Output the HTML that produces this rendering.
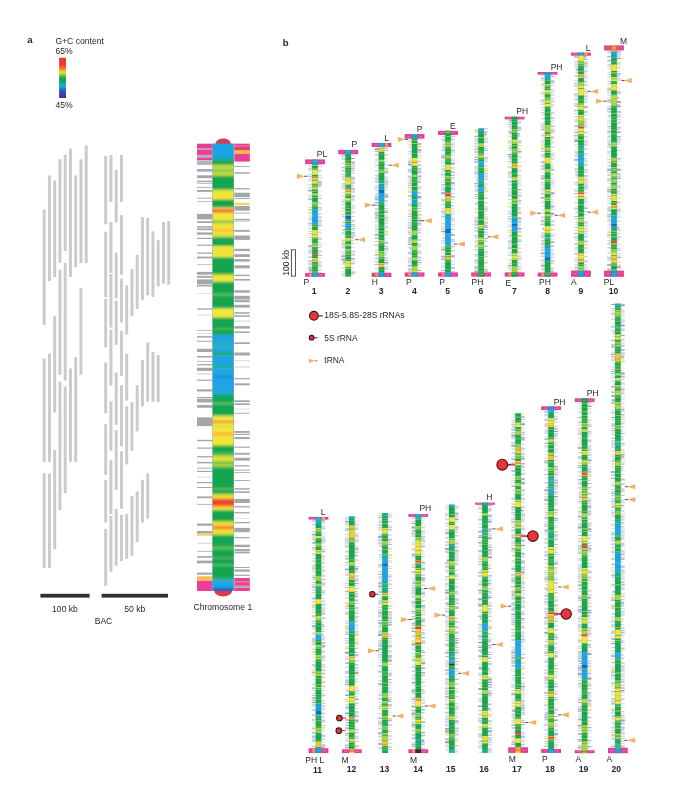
<!DOCTYPE html>
<html lang="en"><head><meta charset="utf-8"><title>Genome figure</title>
<style>
html,body{margin:0;padding:0;background:#fff;}
#fig{position:relative;width:685px;height:805px;background:#fff;overflow:hidden;}
svg{display:block;}
svg text{font-family:"Liberation Sans",sans-serif;fill:#262626;}
</style></head><body>
<div id="fig">
<svg width="685" height="805" viewBox="0 0 685 805">
<defs>
<linearGradient id="gc" x1="0" y1="0" x2="0" y2="1">
<stop offset="0" stop-color="#ee3338"/>
<stop offset="0.17" stop-color="#ee3a30"/>
<stop offset="0.27" stop-color="#f47a2a"/>
<stop offset="0.36" stop-color="#f5e52e"/>
<stop offset="0.5" stop-color="#1fa64a"/>
<stop offset="0.58" stop-color="#12a45a"/>
<stop offset="0.7" stop-color="#18aee8"/>
<stop offset="0.8" stop-color="#2a62c8"/>
<stop offset="0.92" stop-color="#3a3f9e"/>
<stop offset="1" stop-color="#3b3a96"/>
</linearGradient>
<filter id="vb1" x="-10%" y="-2%" width="120%" height="104%"><feGaussianBlur stdDeviation="0 0.9"/></filter>
<filter id="vb2" x="-10%" y="-2%" width="120%" height="104%"><feGaussianBlur stdDeviation="0 0.6"/></filter>
<filter id="sb" x="-5%" y="-5%" width="110%" height="110%"><feGaussianBlur stdDeviation="0.35"/></filter>
</defs>
<text x="27.2" y="42.5" font-size="9.6" font-weight="bold">a</text>
<text x="55.4" y="44" font-size="8.6">G+C content</text>
<text x="55.4" y="53.9" font-size="8.6">65%</text>
<rect x="59.1" y="57.8" width="6.9" height="40.2" fill="url(#gc)"/>
<text x="55.4" y="107.9" font-size="8.6">45%</text>
<g fill="#cbcbcb">
<rect x="42.7" y="209.5" width="3" height="115.5"/>
<rect x="42.7" y="358.5" width="3" height="103.3"/>
<rect x="42.7" y="473.4" width="3" height="94.6"/>
<rect x="47.95" y="175.5" width="3" height="105.5"/>
<rect x="47.95" y="353.5" width="3" height="108.3"/>
<rect x="47.95" y="473.4" width="3" height="94.6"/>
<rect x="53.2" y="180.4" width="3" height="96.6"/>
<rect x="53.2" y="315.8" width="3" height="96.6"/>
<rect x="53.2" y="450" width="3" height="99.3"/>
<rect x="58.45" y="159.3" width="3" height="103.6"/>
<rect x="58.45" y="269.6" width="3" height="105.1"/>
<rect x="58.45" y="381.6" width="3" height="128.6"/>
<rect x="63.7" y="154.8" width="3" height="96.2"/>
<rect x="63.7" y="263" width="3" height="117.4"/>
<rect x="63.7" y="386.6" width="3" height="106.5"/>
<rect x="68.95" y="148.6" width="3" height="128.4"/>
<rect x="68.95" y="368.4" width="3" height="93.4"/>
<rect x="74.2" y="175.5" width="3" height="91.5"/>
<rect x="74.2" y="357.3" width="3" height="104.5"/>
<rect x="79.45" y="159.3" width="3" height="103.7"/>
<rect x="79.45" y="288.3" width="3" height="86.4"/>
<rect x="84.7" y="145.4" width="3" height="117.6"/>
<rect x="104.2" y="155.9" width="3" height="68.3"/>
<rect x="104.2" y="231.8" width="3" height="65.3"/>
<rect x="104.2" y="299" width="3" height="48.3"/>
<rect x="104.2" y="362.5" width="3" height="50.8"/>
<rect x="104.2" y="424.3" width="3" height="50.5"/>
<rect x="104.2" y="479.8" width="3" height="42.8"/>
<rect x="104.2" y="528.8" width="3" height="56.9"/>
<rect x="109.45" y="154.9" width="3" height="47.2"/>
<rect x="109.45" y="222" width="3" height="50.9"/>
<rect x="109.45" y="274.1" width="3" height="53.5"/>
<rect x="109.45" y="329.6" width="3" height="56"/>
<rect x="109.45" y="401.4" width="3" height="49.3"/>
<rect x="109.45" y="459.7" width="3" height="54.6"/>
<rect x="109.45" y="515.9" width="3" height="55.9"/>
<rect x="114.7" y="169.8" width="3" height="52.8"/>
<rect x="114.7" y="252.6" width="3" height="45.7"/>
<rect x="114.7" y="300.8" width="3" height="44"/>
<rect x="114.7" y="372.4" width="3" height="52.5"/>
<rect x="114.7" y="430.1" width="3" height="59.7"/>
<rect x="114.7" y="508.9" width="3" height="56.7"/>
<rect x="119.95" y="154.9" width="3" height="47.2"/>
<rect x="119.95" y="215.2" width="3" height="59.5"/>
<rect x="119.95" y="278.7" width="3" height="43.8"/>
<rect x="119.95" y="330.9" width="3" height="45"/>
<rect x="119.95" y="385.2" width="3" height="61.1"/>
<rect x="119.95" y="451.2" width="3" height="57.5"/>
<rect x="119.95" y="514.9" width="3" height="46.2"/>
<rect x="125.2" y="285.3" width="3" height="49"/>
<rect x="125.2" y="353.8" width="3" height="46.9"/>
<rect x="125.2" y="406.3" width="3" height="58.1"/>
<rect x="125.2" y="513.9" width="3" height="45.1"/>
<rect x="130.45" y="269.1" width="3" height="47.2"/>
<rect x="130.45" y="402.2" width="3" height="48.5"/>
<rect x="130.45" y="496" width="3" height="59.7"/>
<rect x="135.7" y="254.8" width="3" height="54.1"/>
<rect x="135.7" y="385.2" width="3" height="46.2"/>
<rect x="135.7" y="491.4" width="3" height="50.8"/>
<rect x="140.95" y="217" width="3" height="83.2"/>
<rect x="140.95" y="360" width="3" height="46.3"/>
<rect x="140.95" y="479.8" width="3" height="42.8"/>
<rect x="146.2" y="218" width="3" height="77.2"/>
<rect x="146.2" y="342.4" width="3" height="59.3"/>
<rect x="146.2" y="473.4" width="3" height="45.2"/>
<rect x="151.45" y="231.3" width="3" height="65.5"/>
<rect x="151.45" y="352" width="3" height="49.7"/>
<rect x="156.7" y="240.2" width="3" height="46.3"/>
<rect x="156.7" y="355" width="3" height="47"/>
<rect x="161.95" y="222" width="3" height="61.7"/>
<rect x="167.2" y="221" width="3" height="63.7"/>
</g>
<rect x="40.4" y="593.8" width="49.2" height="3.8" fill="#2f2f2f"/>
<rect x="101.6" y="593.8" width="66.4" height="3.8" fill="#2f2f2f"/>
<text x="65" y="612.3" font-size="8.6" text-anchor="middle">100 kb</text>
<text x="134.8" y="612.3" font-size="8.6" text-anchor="middle">50 kb</text>
<text x="103.5" y="624.2" font-size="8.6" text-anchor="middle">BAC</text>
<ellipse cx="223.2" cy="143.6" rx="7.6" ry="5.0" fill="#da394f"/>
<ellipse cx="223.2" cy="590.6" rx="9" ry="6" fill="#da394f"/>
<rect x="197" y="143.7" width="15.4" height="16.6" fill="#ec3d97"/>
<rect x="234.3" y="143.7" width="15.5" height="17.9" fill="#ec3d97"/>
<rect x="197" y="580.5" width="15.4" height="10.5" fill="#ec3d97"/>
<rect x="234.3" y="578" width="15.5" height="13" fill="#ec3d97"/>
<g filter="url(#sb)">
<rect x="197" y="148.1" width="15.4" height="1.9" fill="#bfa5bd"/>
<rect x="197" y="154.7" width="15.4" height="3.3" fill="#bfa5bd"/>
<rect x="197" y="160.6" width="15.4" height="4.3" fill="#b3b2ba"/>
<rect x="197" y="169.1" width="15.4" height="2.5" fill="#a3a7ac"/>
<rect x="197" y="175.3" width="15.4" height="2.9" fill="#a3a7ac"/>
<rect x="197" y="180.7" width="15.4" height="1.3" fill="#a3a7ac"/>
<rect x="197" y="182.8" width="15.4" height="0.9" fill="#a3a7ac"/>
<rect x="197" y="186.9" width="15.4" height="0.9" fill="#a3a7ac"/>
<rect x="197" y="190" width="15.4" height="1.9" fill="#a3a7ac"/>
<rect x="197" y="197.7" width="15.4" height="0.9" fill="#a3a7ac"/>
<rect x="197" y="201" width="15.4" height="0.7" fill="#a3a7ac"/>
<rect x="197" y="213.9" width="15.4" height="5.5" fill="#a3a7ac"/>
<rect x="197" y="221.2" width="15.4" height="1.8" fill="#a3a7ac"/>
<rect x="197" y="226.2" width="15.4" height="1.5" fill="#a3a7ac"/>
<rect x="197" y="228.4" width="15.4" height="1.8" fill="#a3a7ac"/>
<rect x="197" y="232.4" width="15.4" height="2.3" fill="#a3a7ac"/>
<rect x="197" y="237.8" width="15.4" height="1.2" fill="#a3a7ac"/>
<rect x="197" y="244.6" width="15.4" height="1.2" fill="#a3a7ac"/>
<rect x="197" y="252.5" width="15.4" height="1.3" fill="#a3a7ac"/>
<rect x="197" y="256.6" width="15.4" height="1.9" fill="#a3a7ac"/>
<rect x="197" y="264.1" width="15.4" height="0.6" fill="#a3a7ac"/>
<rect x="197" y="271.9" width="15.4" height="2.8" fill="#a3a7ac"/>
<rect x="197" y="275.9" width="15.4" height="1.9" fill="#a3a7ac"/>
<rect x="197" y="279.4" width="15.4" height="4.6" fill="#a3a7ac"/>
<rect x="197" y="284.6" width="15.4" height="1.9" fill="#a3a7ac"/>
<rect x="197" y="293.3" width="15.4" height="0.6" fill="#cfd2d5"/>
<rect x="197" y="308.4" width="15.4" height="1.3" fill="#a3a7ac"/>
<rect x="197" y="314.7" width="15.4" height="0.8" fill="#cfd2d5"/>
<rect x="197" y="329.9" width="15.4" height="0.8" fill="#a3a7ac"/>
<rect x="197" y="333" width="15.4" height="0.6" fill="#cfd2d5"/>
<rect x="197" y="336.1" width="15.4" height="1.5" fill="#a3a7ac"/>
<rect x="197" y="340.8" width="15.4" height="1" fill="#a3a7ac"/>
<rect x="197" y="348.8" width="15.4" height="3.2" fill="#a3a7ac"/>
<rect x="197" y="356" width="15.4" height="1.5" fill="#a3a7ac"/>
<rect x="197" y="360.9" width="15.4" height="0.8" fill="#a3a7ac"/>
<rect x="197" y="364" width="15.4" height="1.3" fill="#a3a7ac"/>
<rect x="197" y="367.8" width="15.4" height="3.1" fill="#a3a7ac"/>
<rect x="197" y="373.4" width="15.4" height="1.2" fill="#cfd2d5"/>
<rect x="197" y="379.6" width="15.4" height="1.2" fill="#a3a7ac"/>
<rect x="197" y="389.3" width="15.4" height="2.2" fill="#a3a7ac"/>
<rect x="197" y="397" width="15.4" height="1.2" fill="#a3a7ac"/>
<rect x="197" y="398.8" width="15.4" height="3.7" fill="#a3a7ac"/>
<rect x="197" y="405" width="15.4" height="2.8" fill="#a3a7ac"/>
<rect x="197" y="417.4" width="15.4" height="8.7" fill="#a3a7ac"/>
<rect x="197" y="439.8" width="15.4" height="1.4" fill="#a3a7ac"/>
<rect x="197" y="447.5" width="15.4" height="1.2" fill="#a3a7ac"/>
<rect x="197" y="456.1" width="15.4" height="1.3" fill="#a3a7ac"/>
<rect x="197" y="461.9" width="15.4" height="1.5" fill="#a3a7ac"/>
<rect x="197" y="467.7" width="15.4" height="0.9" fill="#a3a7ac"/>
<rect x="197" y="470.8" width="15.4" height="1.2" fill="#a3a7ac"/>
<rect x="197" y="476.8" width="15.4" height="0.7" fill="#cfd2d5"/>
<rect x="197" y="482" width="15.4" height="1.2" fill="#a3a7ac"/>
<rect x="197" y="487" width="15.4" height="1" fill="#a3a7ac"/>
<rect x="197" y="496.4" width="15.4" height="1.8" fill="#a3a7ac"/>
<rect x="197" y="503.9" width="15.4" height="0.8" fill="#a3a7ac"/>
<rect x="197" y="523.5" width="15.4" height="2.3" fill="#a3a7ac"/>
<rect x="197" y="531" width="15.4" height="2.5" fill="#a3a7ac"/>
<rect x="197" y="533.7" width="15.4" height="2" fill="#f5d04a"/>
<rect x="197" y="542.8" width="15.4" height="0.9" fill="#cfd2d5"/>
<rect x="197" y="550.9" width="15.4" height="0.8" fill="#a3a7ac"/>
<rect x="197" y="556.1" width="15.4" height="1.6" fill="#a3a7ac"/>
<rect x="197" y="560.6" width="15.4" height="2.7" fill="#a3a7ac"/>
<rect x="197" y="572.6" width="15.4" height="2.1" fill="#a3a7ac"/>
<rect x="197" y="576.3" width="15.4" height="4" fill="#f6bf45"/>
<rect x="234.3" y="145.7" width="15.5" height="0.6" fill="#f7b6d6"/>
<rect x="234.3" y="146.9" width="15.5" height="2.9" fill="#dc4270"/>
<rect x="234.3" y="150.2" width="15.5" height="3.7" fill="#f4c04a"/>
<rect x="234.3" y="166" width="15.5" height="0.9" fill="#a3a7ac"/>
<rect x="234.3" y="172.2" width="15.5" height="1.5" fill="#a3a7ac"/>
<rect x="234.3" y="188.1" width="15.5" height="1.3" fill="#a3a7ac"/>
<rect x="234.3" y="192.7" width="15.5" height="4.4" fill="#a3a7ac"/>
<rect x="234.3" y="198.1" width="15.5" height="1" fill="#a3a7ac"/>
<rect x="234.3" y="202.7" width="15.5" height="2.5" fill="#f5d860"/>
<rect x="234.3" y="206" width="15.5" height="4.7" fill="#a3a7ac"/>
<rect x="234.3" y="212.6" width="15.5" height="0.9" fill="#a3a7ac"/>
<rect x="234.3" y="218.8" width="15.5" height="1.6" fill="#a3a7ac"/>
<rect x="234.3" y="220.4" width="15.5" height="1.5" fill="#cfd2d5"/>
<rect x="234.3" y="229.9" width="15.5" height="1.9" fill="#a3a7ac"/>
<rect x="234.3" y="235.5" width="15.5" height="4.4" fill="#a3a7ac"/>
<rect x="234.3" y="248.8" width="15.5" height="2.3" fill="#a3a7ac"/>
<rect x="234.3" y="254.2" width="15.5" height="2.8" fill="#a3a7ac"/>
<rect x="234.3" y="259.1" width="15.5" height="2.5" fill="#a3a7ac"/>
<rect x="234.3" y="265.3" width="15.5" height="3.1" fill="#a3a7ac"/>
<rect x="234.3" y="274.7" width="15.5" height="1.4" fill="#a3a7ac"/>
<rect x="234.3" y="279" width="15.5" height="1.6" fill="#a3a7ac"/>
<rect x="234.3" y="290.2" width="15.5" height="2.5" fill="#a3a7ac"/>
<rect x="234.3" y="295.8" width="15.5" height="3.7" fill="#a3a7ac"/>
<rect x="234.3" y="300.1" width="15.5" height="2.1" fill="#a3a7ac"/>
<rect x="234.3" y="304.8" width="15.5" height="2.8" fill="#a3a7ac"/>
<rect x="234.3" y="312.2" width="15.5" height="1.6" fill="#a3a7ac"/>
<rect x="234.3" y="315.2" width="15.5" height="1.6" fill="#a3a7ac"/>
<rect x="234.3" y="320.6" width="15.5" height="1" fill="#cfd2d5"/>
<rect x="234.3" y="326.1" width="15.5" height="2.5" fill="#a3a7ac"/>
<rect x="234.3" y="331.4" width="15.5" height="1.5" fill="#a3a7ac"/>
<rect x="234.3" y="342.3" width="15.5" height="1.7" fill="#a3a7ac"/>
<rect x="234.3" y="352.5" width="15.5" height="3" fill="#a3a7ac"/>
<rect x="234.3" y="360.3" width="15.5" height="0.9" fill="#cfd2d5"/>
<rect x="234.3" y="366.5" width="15.5" height="1.1" fill="#cfd2d5"/>
<rect x="234.3" y="378.1" width="15.5" height="1.2" fill="#a3a7ac"/>
<rect x="234.3" y="383.3" width="15.5" height="2" fill="#a3a7ac"/>
<rect x="234.3" y="400.3" width="15.5" height="1.8" fill="#a3a7ac"/>
<rect x="234.3" y="403.3" width="15.5" height="1.7" fill="#a3a7ac"/>
<rect x="234.3" y="408.7" width="15.5" height="0.7" fill="#cfd2d5"/>
<rect x="234.3" y="412.8" width="15.5" height="0.9" fill="#a3a7ac"/>
<rect x="234.3" y="431" width="15.5" height="1.9" fill="#a3a7ac"/>
<rect x="234.3" y="433.8" width="15.5" height="1.2" fill="#a3a7ac"/>
<rect x="234.3" y="437" width="15.5" height="2.1" fill="#a3a7ac"/>
<rect x="234.3" y="446.6" width="15.5" height="1.2" fill="#a3a7ac"/>
<rect x="234.3" y="452.8" width="15.5" height="1.9" fill="#a3a7ac"/>
<rect x="234.3" y="457.8" width="15.5" height="2.8" fill="#a3a7ac"/>
<rect x="234.3" y="465.2" width="15.5" height="1.3" fill="#a3a7ac"/>
<rect x="234.3" y="469.6" width="15.5" height="1" fill="#a3a7ac"/>
<rect x="234.3" y="472" width="15.5" height="0.8" fill="#a3a7ac"/>
<rect x="234.3" y="480.1" width="15.5" height="0.9" fill="#a3a7ac"/>
<rect x="234.3" y="488.2" width="15.5" height="1.5" fill="#a3a7ac"/>
<rect x="234.3" y="491.3" width="15.5" height="1.6" fill="#a3a7ac"/>
<rect x="234.3" y="498.9" width="15.5" height="4.1" fill="#a3a7ac"/>
<rect x="234.3" y="506.1" width="15.5" height="1.3" fill="#a3a7ac"/>
<rect x="234.3" y="512.1" width="15.5" height="1.3" fill="#a3a7ac"/>
<rect x="234.3" y="518" width="15.5" height="0.6" fill="#cfd2d5"/>
<rect x="234.3" y="522" width="15.5" height="1.3" fill="#a3a7ac"/>
<rect x="234.3" y="527.9" width="15.5" height="4.3" fill="#a3a7ac"/>
<rect x="234.3" y="537" width="15.5" height="1.2" fill="#a3a7ac"/>
<rect x="234.3" y="544.7" width="15.5" height="2.4" fill="#a3a7ac"/>
<rect x="234.3" y="549" width="15.5" height="1.9" fill="#a3a7ac"/>
<rect x="234.3" y="551.5" width="15.5" height="1.9" fill="#a3a7ac"/>
<rect x="234.3" y="567" width="15.5" height="1" fill="#a3a7ac"/>
<rect x="234.3" y="569.5" width="15.5" height="2.2" fill="#a3a7ac"/>
<rect x="234.3" y="574.7" width="15.5" height="1.2" fill="#a3a7ac"/>
<rect x="234.3" y="581.4" width="15.5" height="1" fill="#c5a3bb"/>
<rect x="234.3" y="585.5" width="15.5" height="2.5" fill="#c5a3bb"/>
</g>
<clipPath id="c1a"><rect x="212.6" y="143.4" width="21.1" height="447.4"/></clipPath>
<g clip-path="url(#c1a)"><g filter="url(#vb1)">
<rect x="210.6" y="137.4" width="25.1" height="20.65" fill="#1ba4e4"/>
<rect x="210.6" y="158" width="25.1" height="2.45" fill="#0fa98c"/>
<rect x="210.6" y="160.4" width="25.1" height="4.45" fill="#12a550"/>
<rect x="210.6" y="164.8" width="25.1" height="5.05" fill="#bcdb38"/>
<rect x="210.6" y="169.8" width="25.1" height="1.85" fill="#4fbb4c"/>
<rect x="210.6" y="171.6" width="25.1" height="4.45" fill="#bcdb38"/>
<rect x="210.6" y="176" width="25.1" height="13.65" fill="#12a550"/>
<rect x="210.6" y="189.6" width="25.1" height="1.45" fill="#bcdb38"/>
<rect x="210.6" y="191" width="25.1" height="8.65" fill="#f3e535"/>
<rect x="210.6" y="199.6" width="25.1" height="8.05" fill="#12a550"/>
<rect x="210.6" y="207.6" width="25.1" height="1.25" fill="#f3e535"/>
<rect x="210.6" y="208.8" width="25.1" height="1.25" fill="#f4902d"/>
<rect x="210.6" y="210" width="25.1" height="1.65" fill="#ee3f2e"/>
<rect x="210.6" y="211.6" width="25.1" height="1.65" fill="#f4902d"/>
<rect x="210.6" y="213.2" width="25.1" height="7.55" fill="#f3e535"/>
<rect x="210.6" y="220.7" width="25.1" height="2.35" fill="#4fbb4c"/>
<rect x="210.6" y="223" width="25.1" height="5.75" fill="#f3e535"/>
<rect x="210.6" y="228.7" width="25.1" height="3.75" fill="#f8c230"/>
<rect x="210.6" y="232.4" width="25.1" height="2.65" fill="#f3e535"/>
<rect x="210.6" y="235" width="25.1" height="2.45" fill="#bcdb38"/>
<rect x="210.6" y="237.4" width="25.1" height="8.75" fill="#12a550"/>
<rect x="210.6" y="246.1" width="25.1" height="4.45" fill="#f3e535"/>
<rect x="210.6" y="250.5" width="25.1" height="1.35" fill="#bcdb38"/>
<rect x="210.6" y="251.8" width="25.1" height="5.55" fill="#f3e535"/>
<rect x="210.6" y="257.3" width="25.1" height="16.75" fill="#12a550"/>
<rect x="210.6" y="274" width="25.1" height="2.05" fill="#bcdb38"/>
<rect x="210.6" y="276" width="25.1" height="4.55" fill="#f3e535"/>
<rect x="210.6" y="280.5" width="25.1" height="1.65" fill="#bcdb38"/>
<rect x="210.6" y="282.1" width="25.1" height="10.95" fill="#12a550"/>
<rect x="210.6" y="293" width="25.1" height="2.55" fill="#4fbb4c"/>
<rect x="210.6" y="295.5" width="25.1" height="12.75" fill="#12a550"/>
<rect x="210.6" y="308.2" width="25.1" height="1.35" fill="#bcdb38"/>
<rect x="210.6" y="309.5" width="25.1" height="6.75" fill="#f3e535"/>
<rect x="210.6" y="316.2" width="25.1" height="1.85" fill="#bcdb38"/>
<rect x="210.6" y="318" width="25.1" height="10.05" fill="#12a550"/>
<rect x="210.6" y="328" width="25.1" height="1.35" fill="#4fbb4c"/>
<rect x="210.6" y="329.3" width="25.1" height="5.55" fill="#12a550"/>
<rect x="210.6" y="334.8" width="25.1" height="5.25" fill="#1ba4e4"/>
<rect x="210.6" y="340" width="25.1" height="1.25" fill="#0fa98c"/>
<rect x="210.6" y="341.2" width="25.1" height="4.25" fill="#1ba4e4"/>
<rect x="210.6" y="345.4" width="25.1" height="1.95" fill="#0fa98c"/>
<rect x="210.6" y="347.3" width="25.1" height="4.95" fill="#1ba4e4"/>
<rect x="210.6" y="352.2" width="25.1" height="3.15" fill="#12a550"/>
<rect x="210.6" y="355.3" width="25.1" height="10.05" fill="#1ba4e4"/>
<rect x="210.6" y="365.3" width="25.1" height="3.15" fill="#0fa98c"/>
<rect x="210.6" y="368.4" width="25.1" height="7.45" fill="#1ba4e4"/>
<rect x="210.6" y="375.8" width="25.1" height="1.25" fill="#1666c9"/>
<rect x="210.6" y="377" width="25.1" height="16.25" fill="#1ba4e4"/>
<rect x="210.6" y="393.2" width="25.1" height="3.85" fill="#0fa98c"/>
<rect x="210.6" y="397" width="25.1" height="5.55" fill="#12a550"/>
<rect x="210.6" y="402.5" width="25.1" height="1.85" fill="#4fbb4c"/>
<rect x="210.6" y="404.3" width="25.1" height="11.25" fill="#12a550"/>
<rect x="210.6" y="415.5" width="25.1" height="2.05" fill="#bcdb38"/>
<rect x="210.6" y="417.5" width="25.1" height="3.05" fill="#f3e535"/>
<rect x="210.6" y="420.5" width="25.1" height="2.55" fill="#f4902d"/>
<rect x="210.6" y="423" width="25.1" height="3.05" fill="#f3e535"/>
<rect x="210.6" y="426" width="25.1" height="1.55" fill="#bcdb38"/>
<rect x="210.6" y="427.5" width="25.1" height="4.25" fill="#f3e535"/>
<rect x="210.6" y="431.7" width="25.1" height="4.95" fill="#f8c230"/>
<rect x="210.6" y="436.6" width="25.1" height="7.45" fill="#f3e535"/>
<rect x="210.6" y="444" width="25.1" height="2.05" fill="#bcdb38"/>
<rect x="210.6" y="446" width="25.1" height="6.05" fill="#12a550"/>
<rect x="210.6" y="452" width="25.1" height="1.25" fill="#4fbb4c"/>
<rect x="210.6" y="453.2" width="25.1" height="2.15" fill="#12a550"/>
<rect x="210.6" y="455.3" width="25.1" height="2.75" fill="#bcdb38"/>
<rect x="210.6" y="458" width="25.1" height="2.05" fill="#f3e535"/>
<rect x="210.6" y="460" width="25.1" height="2.05" fill="#bcdb38"/>
<rect x="210.6" y="462" width="25.1" height="2.05" fill="#4fbb4c"/>
<rect x="210.6" y="464" width="25.1" height="2.05" fill="#bcdb38"/>
<rect x="210.6" y="466" width="25.1" height="1.75" fill="#4fbb4c"/>
<rect x="210.6" y="467.7" width="25.1" height="20.55" fill="#12a550"/>
<rect x="210.6" y="488.2" width="25.1" height="1.85" fill="#4fbb4c"/>
<rect x="210.6" y="490" width="25.1" height="3.85" fill="#12a550"/>
<rect x="210.6" y="493.8" width="25.1" height="2.25" fill="#bcdb38"/>
<rect x="210.6" y="496" width="25.1" height="2.05" fill="#f3e535"/>
<rect x="210.6" y="498" width="25.1" height="2.05" fill="#f4902d"/>
<rect x="210.6" y="500" width="25.1" height="5.05" fill="#ee3f2e"/>
<rect x="210.6" y="505" width="25.1" height="2.05" fill="#f4902d"/>
<rect x="210.6" y="507" width="25.1" height="2.05" fill="#f3e535"/>
<rect x="210.6" y="509" width="25.1" height="1.55" fill="#bcdb38"/>
<rect x="210.6" y="510.5" width="25.1" height="10.55" fill="#12a550"/>
<rect x="210.6" y="521" width="25.1" height="2.05" fill="#bcdb38"/>
<rect x="210.6" y="523" width="25.1" height="2.45" fill="#f3e535"/>
<rect x="210.6" y="525.4" width="25.1" height="4.45" fill="#f4902d"/>
<rect x="210.6" y="529.8" width="25.1" height="3.25" fill="#f3e535"/>
<rect x="210.6" y="533" width="25.1" height="2.35" fill="#bcdb38"/>
<rect x="210.6" y="535.3" width="25.1" height="10.65" fill="#12a550"/>
<rect x="210.6" y="545.9" width="25.1" height="3.75" fill="#4fbb4c"/>
<rect x="210.6" y="549.6" width="25.1" height="7.45" fill="#12a550"/>
<rect x="210.6" y="557" width="25.1" height="1.25" fill="#4fbb4c"/>
<rect x="210.6" y="558.2" width="25.1" height="6.35" fill="#12a550"/>
<rect x="210.6" y="564.5" width="25.1" height="1.35" fill="#4fbb4c"/>
<rect x="210.6" y="565.8" width="25.1" height="12.85" fill="#12a550"/>
<rect x="210.6" y="578.6" width="25.1" height="1.95" fill="#0fa98c"/>
<rect x="210.6" y="580.5" width="25.1" height="7.55" fill="#1ba4e4"/>
<rect x="210.6" y="588" width="25.1" height="2.85" fill="#1666c9"/>
<rect x="210.6" y="590.8" width="25.1" height="6" fill="#1666c9"/>
</g></g>
<rect x="212.5" y="143.4" width="0.5" height="447.4" fill="#1b6f8f" opacity="0.55"/>
<rect x="233.3" y="143.4" width="0.5" height="447.4" fill="#1b6f8f" opacity="0.55"/>
<text x="222.8" y="609.7" font-size="8.6" text-anchor="middle">Chromosome 1</text>
<text x="282.8" y="45.7" font-size="9.6" font-weight="bold">b</text>
<rect x="291.4" y="249.8" width="4.1" height="26.3" fill="#fff" stroke="#3a3a3a" stroke-width="0.85"/>
<text transform="translate(289,275.7) rotate(-90)" font-size="8.6">100 kb</text>
<g filter="url(#sb)">
<rect x="310.6" y="164.2" width="8.8" height="108.8" fill="#d9eef0" opacity="0.55"/>
<path fill="#c2c7d1" d="M309.15 164.9h3.05v0.8h-3.05zM308.2 170.2h4v0.6h-4zM308.2 194.7h4v0.7h-4zM308.2 237.3h4v0.8h-4zM308.76 241.5h3.44v0.5h-3.44zM317.8 213.35h4v0.6h-4zM317.8 220.75h4v1.2h-4zM317.8 258.05h4v0.5h-4zM317.8 260.95h4v0.5h-4zM317.8 261.95h3.55v0.7h-3.55z"/>
<path fill="#d5d8df" d="M308.2 166.6h4v0.8h-4zM308.2 178.3h4v1h-4zM308.2 179.8h4v1.5h-4zM308.2 230.8h4v1.2h-4zM309.52 235.1h2.68v0.6h-2.68zM308.93 248.1h3.27v0.5h-3.27zM308.2 248.9h4v0.5h-4zM317.8 165.75h4v1.5h-4zM317.8 168.85h3.06v0.5h-3.06zM317.8 179.05h4v0.5h-4zM317.8 188.55h4v0.5h-4zM317.8 202.15h3.14v1h-3.14zM317.8 214.45h4v0.5h-4zM317.8 230.45h4v0.6h-4zM317.8 251.35h4v1.5h-4zM317.8 253.55h2.69v1h-2.69zM317.8 262.95h4v0.7h-4zM317.8 268.95h4v2h-4z"/>
<path fill="#babfcb" d="M308.2 168.3h4v1.2h-4zM308.2 196.1h4v0.5h-4zM308.2 198.2h4v2h-4zM308.2 209.2h4v1.2h-4zM308.2 222.5h4v2h-4zM308.2 252.4h4v1h-4zM308.2 256.6h4v1.2h-4zM308.2 265.9h4v0.6h-4zM308.2 267.2h4v2h-4zM317.8 183.45h4v2h-4zM317.8 185.75h2.94v1.2h-2.94zM317.8 203.45h4v0.6h-4zM317.8 216.55h4v1.5h-4z"/>
<path fill="#ced1d9" d="M308.2 174h4v1.2h-4zM308.2 203.4h4v0.7h-4zM309.35 217.1h2.85v1.5h-2.85zM308.2 250.1h4v2h-4zM317.8 174.95h4v0.8h-4zM317.8 195.25h4v1h-4zM317.8 218.95h4v1.5h-4zM317.8 236.15h3.2v0.5h-3.2zM317.8 244.35h4v1.2h-4zM317.8 267.25h3.34v0.5h-3.34z"/>
<path fill="#abb1be" d="M308.2 176.1h4v0.6h-4zM308.2 184.5h4v0.8h-4zM308.2 188.8h4v0.5h-4zM308.2 245.2h4v2h-4zM317.8 164.55h4v0.5h-4zM317.8 181.15h4v2h-4zM317.8 207.25h4v1h-4zM317.8 247.15h3.12v0.8h-3.12zM317.8 272.55h4v0.45h-4z"/>
<path fill="#f0e07a" d="M308.2 186.9h4v1.2h-4zM308.2 212h4v2h-4zM308.2 228h4v1.2h-4zM317.8 226.55h4v0.7h-4zM317.8 237.35h4v0.5h-4z"/>
<path fill="#9ba2b0" d="M308.2 190h4v1.5h-4zM308.2 232.9h4v0.6h-4zM308.2 261.3h4v0.8h-4zM308.94 269.5h3.26v2h-3.26zM317.8 224.85h4v0.8h-4zM317.8 238.55h4v1h-4zM317.8 255.05h4v0.6h-4z"/>
<path fill="#f2c274" d="M308.2 207.3h4v0.7h-4z"/>
<path fill="#c8ccd5" d="M308.2 215.6h4v0.6h-4zM308.2 219.1h4v1h-4zM308.2 225.4h4v1h-4zM309.52 239.3h2.68v1h-2.68zM308.2 260.2h4v0.6h-4zM308.48 263h3.72v2h-3.72zM308.2 272h4v1h-4zM317.8 170.25h4v1.5h-4zM317.8 176.65h4v1.2h-4zM317.8 191.45h4v0.6h-4zM317.8 197.45h4v1.5h-4zM317.8 208.95h4v1.2h-4zM317.8 222.65h4v1h-4zM317.8 232.25h4v0.7h-4zM317.8 241.95h4v0.8h-4zM317.8 250.35h4v0.7h-4zM317.8 264.55h4v2h-4z"/>
</g>
<rect x="305.1" y="159.4" width="19.8" height="4.8" fill="#e23e94"/>
<rect x="307.3" y="161.45" width="3.6" height="0.7" fill="#f58fc0" opacity="0.8"/>
<rect x="319" y="161.45" width="3.6" height="0.7" fill="#f58fc0" opacity="0.8"/>
<rect x="305.1" y="273" width="19.8" height="3.8" fill="#e23e94"/>
<rect x="308.8" y="273.4" width="2.8" height="3" fill="#f2b040" opacity="0.8"/>
<rect x="319" y="274.55" width="3.6" height="0.7" fill="#f58fc0" opacity="0.8"/>
<clipPath id="cb1"><rect x="312.2" y="159.4" width="5.6" height="117.6"/></clipPath>
<g clip-path="url(#cb1)"><g filter="url(#vb2)">
<rect x="311.2" y="155.4" width="7.6" height="8.85" fill="#1ba4e4"/>
<rect x="311.2" y="164.2" width="7.6" height="5.59" fill="#12a550"/>
<rect x="311.2" y="169.74" width="7.6" height="5.02" fill="#f3e535"/>
<rect x="311.2" y="174.7" width="7.6" height="2.04" fill="#12a550"/>
<rect x="311.2" y="176.69" width="7.6" height="2.04" fill="#f4902d"/>
<rect x="311.2" y="178.68" width="7.6" height="5.02" fill="#f3e535"/>
<rect x="311.2" y="183.65" width="7.6" height="3.03" fill="#12a550"/>
<rect x="311.2" y="186.63" width="7.6" height="3.03" fill="#a8d33c"/>
<rect x="311.2" y="189.61" width="7.6" height="4.02" fill="#12a550"/>
<rect x="311.2" y="193.58" width="7.6" height="2.04" fill="#a8d33c"/>
<rect x="311.2" y="195.57" width="7.6" height="7" fill="#12a550"/>
<rect x="311.2" y="202.52" width="7.6" height="3.03" fill="#a8d33c"/>
<rect x="311.2" y="205.5" width="7.6" height="4.02" fill="#12a550"/>
<rect x="311.2" y="209.48" width="7.6" height="14.95" fill="#1ba4e4"/>
<rect x="311.2" y="224.38" width="7.6" height="6.01" fill="#12a550"/>
<rect x="311.2" y="230.34" width="7.6" height="8" fill="#f3e535"/>
<rect x="311.2" y="238.29" width="7.6" height="5.02" fill="#12a550"/>
<rect x="311.2" y="243.25" width="7.6" height="4.02" fill="#a8d33c"/>
<rect x="311.2" y="247.23" width="7.6" height="5.61" fill="#12a550"/>
<rect x="311.2" y="252.79" width="7.6" height="1.84" fill="#ee3f2e"/>
<rect x="311.2" y="254.58" width="7.6" height="3.63" fill="#12a550"/>
<rect x="311.2" y="258.15" width="7.6" height="4.02" fill="#f8c230"/>
<rect x="311.2" y="262.13" width="7.6" height="10.58" fill="#12a550"/>
<rect x="311.2" y="272.66" width="7.6" height="0.39" fill="#12a550"/>
<rect x="311.2" y="273" width="7.6" height="4.05" fill="#1ba4e4"/>
<rect x="311.2" y="277" width="7.6" height="4" fill="#1ba4e4"/>
<path fill="#2db4ee" opacity="0.68" d="M311.2 160.64h7.6v1.2h-7.6zM311.2 214.36h7.6v0.7h-7.6zM311.2 216.34h7.6v0.6h-7.6zM311.2 222.97h7.6v0.6h-7.6zM311.2 273.98h7.6v0.7h-7.6z"/>
<path fill="#f3e535" opacity="0.68" d="M311.2 165.07h7.6v1h-7.6zM311.2 171.18h7.6v0.7h-7.6zM311.2 188.16h7.6v0.8h-7.6zM311.2 191.09h7.6v0.7h-7.6zM311.2 196.99h7.6v0.7h-7.6zM311.2 225.64h7.6v0.8h-7.6zM311.2 263.81h7.6v0.6h-7.6zM311.2 265.69h7.6v0.7h-7.6z"/>
<path fill="#a8d33c" opacity="0.68" d="M311.2 167.99h7.6v0.8h-7.6zM311.2 184.62h7.6v1.2h-7.6zM311.2 206.39h7.6v0.8h-7.6zM311.2 231.7h7.6v0.6h-7.6zM311.2 248.84h7.6v0.7h-7.6zM311.2 269.17h7.6v0.6h-7.6zM311.2 271.29h7.6v1h-7.6z"/>
<path fill="#12a550" opacity="0.68" d="M311.2 179.8h7.6v1.2h-7.6zM311.2 233.98h7.6v0.6h-7.6zM311.2 236.95h7.6v0.6h-7.6z"/>
<path fill="#3fb64a" opacity="0.68" d="M311.2 201.28h7.6v0.6h-7.6zM311.2 204.31h7.6v0.7h-7.6zM311.2 227.8h7.6v0.6h-7.6zM311.2 239.28h7.6v1.2h-7.6zM311.2 242.13h7.6v1h-7.6zM311.2 244.24h7.6v0.8h-7.6zM311.2 256.2h7.6v1.2h-7.6zM311.2 260.08h7.6v0.7h-7.6z"/>
<path fill="#0fa98c" opacity="0.68" d="M311.2 210.6h7.6v0.8h-7.6zM311.2 219.66h7.6v1h-7.6z"/>
</g>
<rect x="312.2" y="159.4" width="0.45" height="117.6" fill="#0d6b4a" opacity="0.35"/>
<rect x="317.35" y="159.4" width="0.45" height="117.6" fill="#0d6b4a" opacity="0.35"/>
</g>
<g filter="url(#sb)">
<rect x="343.8" y="154.2" width="8.8" height="122.5" fill="#d9eef0" opacity="0.55"/>
<path fill="#9ba2b0" d="M341.4 154.38h4v1.2h-4zM341.4 159.48h4v0.6h-4zM341.4 176.38h4v0.6h-4zM342.67 222.08h2.73v0.7h-2.73zM341.4 246.98h4v0.6h-4zM341.4 255.48h4v1.5h-4zM341.4 258.58h4v2h-4zM351 158.08h4v0.8h-4zM351 178.08h4v1h-4zM351 198.88h3.61v0.6h-3.61zM351 211.68h4v0.8h-4zM351 232.18h4v1.2h-4z"/>
<path fill="#d5d8df" d="M341.4 156.28h4v1.5h-4zM341.4 158.08h4v0.7h-4zM341.4 187.98h4v1.2h-4zM341.4 207.58h4v1.5h-4zM341.4 223.48h4v0.6h-4zM341.4 231.98h4v2h-4zM351 173.28h4v0.7h-4zM351 179.38h3.58v2h-3.58zM351 205.78h4v2h-4zM351 267.48h4v0.8h-4z"/>
<path fill="#c2c7d1" d="M341.4 163.28h4v0.8h-4zM341.4 170.08h4v1.5h-4zM341.4 201.18h4v0.7h-4zM342.71 274.28h2.69v1h-2.69zM351 163.58h4v1.5h-4zM351 181.68h3.7v2h-3.7zM351 197.38h4v1.2h-4zM351 234.58h4v2h-4zM351 242.88h4v0.8h-4zM351 274.38h4v0.5h-4z"/>
<path fill="#c8ccd5" d="M341.4 166.48h4v2h-4zM341.4 185.78h4v1.5h-4zM341.4 195.48h4v1h-4zM341.4 199.68h4v0.8h-4zM341.4 202.38h4v0.8h-4zM341.4 214.28h4v0.8h-4zM341.4 224.78h4v1h-4zM341.4 226.08h4v0.8h-4zM341.4 253.58h4v1h-4zM341.4 271.48h4v0.8h-4zM341.4 275.58h4v0.7h-4zM351 176.38h4v1.2h-4zM351 191.18h4v1.5h-4zM351 195.08h4v2h-4zM351 204.38h4v0.7h-4zM351 208.48h4v0.8h-4zM351 261.48h4v0.6h-4zM351 270.68h4v0.7h-4z"/>
<path fill="#ced1d9" d="M341.4 173.98h4v1.5h-4zM341.84 177.68h3.56v2h-3.56zM341.4 182.88h4v2h-4zM341.76 192.38h3.64v0.7h-3.64zM341.71 215.78h3.69v1.5h-3.69zM342.68 248.28h2.72v0.6h-2.72zM341.4 251.28h4v0.7h-4zM351 155.18h4v0.5h-4zM351 165.98h4v1.2h-4zM351 172.48h4v0.5h-4zM351 215.68h4v1.2h-4zM351 239.98h2.43v2h-2.43zM351 250.78h4v2h-4z"/>
<path fill="#abb1be" d="M341.4 203.88h4v0.5h-4zM342.79 234.68h2.61v0.5h-2.61zM341.4 273.18h4v0.6h-4zM351 187.48h4v0.8h-4zM351 188.78h4v1.5h-4zM351 221.28h4v0.5h-4zM351 224.18h4v1h-4zM351 225.88h4v0.8h-4zM351 227.88h4v0.8h-4z"/>
<path fill="#f0e07a" d="M341.4 210.28h4v0.8h-4zM341.4 220.48h4v0.7h-4zM341.4 238.38h4v0.8h-4zM341.4 240.08h4v2h-4zM341.4 267.58h4v1.5h-4z"/>
<path fill="#babfcb" d="M342.52 229.28h2.88v2h-2.88zM341.77 242.78h3.63v2h-3.63zM341.4 245.48h4v1h-4zM342.96 260.88h2.44v2h-2.44zM341.4 263.38h4v1h-4zM351 161.28h4v2h-4zM351 167.68h4v1.5h-4zM351 170.08h3.43v1.2h-3.43zM351 184.88h2.74v1h-2.74zM351 200.38h4v0.8h-4zM351 220.08h3.74v0.7h-3.74zM351 229.58h4v1h-4zM351 236.88h2.98v1.5h-2.98zM351 246.88h4v0.7h-4zM351 253.98h4v1.5h-4zM351 257.88h4v2h-4zM351 262.78h4v1.5h-4z"/>
<path fill="#f2c274" d="M351 271.68h4v2h-4z"/>
</g>
<rect x="338.3" y="149.9" width="19.8" height="4.3" fill="#e23e94"/>
<rect x="340.5" y="151.7" width="3.6" height="0.7" fill="#f58fc0" opacity="0.8"/>
<rect x="352.2" y="151.7" width="3.6" height="0.7" fill="#f58fc0" opacity="0.8"/>
<clipPath id="cb2"><rect x="345.4" y="149.9" width="5.6" height="126.8"/></clipPath>
<g clip-path="url(#cb2)"><g filter="url(#vb2)">
<rect x="344.4" y="145.9" width="7.6" height="8.35" fill="#1ba4e4"/>
<rect x="344.4" y="154.2" width="7.6" height="10.62" fill="#12a550"/>
<rect x="344.4" y="164.77" width="7.6" height="3.03" fill="#a8d33c"/>
<rect x="344.4" y="167.75" width="7.6" height="5.02" fill="#12a550"/>
<rect x="344.4" y="172.72" width="7.6" height="1.44" fill="#3fb64a"/>
<rect x="344.4" y="174.11" width="7.6" height="3.63" fill="#12a550"/>
<rect x="344.4" y="177.69" width="7.6" height="7" fill="#f3e535"/>
<rect x="344.4" y="184.64" width="7.6" height="5.02" fill="#12a550"/>
<rect x="344.4" y="189.61" width="7.6" height="1.02" fill="#f8c230"/>
<rect x="344.4" y="190.57" width="7.6" height="1.7" fill="#f4902d"/>
<rect x="344.4" y="192.22" width="7.6" height="1.02" fill="#f3e535"/>
<rect x="344.4" y="193.18" width="7.6" height="2.83" fill="#a8d33c"/>
<rect x="344.4" y="195.96" width="7.6" height="2.63" fill="#12a550"/>
<rect x="344.4" y="198.55" width="7.6" height="3.03" fill="#f3e535"/>
<rect x="344.4" y="201.53" width="7.6" height="13.96" fill="#12a550"/>
<rect x="344.4" y="215.44" width="7.6" height="4.02" fill="#1666c9"/>
<rect x="344.4" y="219.41" width="7.6" height="4.02" fill="#12a550"/>
<rect x="344.4" y="223.38" width="7.6" height="5.02" fill="#1ba4e4"/>
<rect x="344.4" y="228.35" width="7.6" height="9.98" fill="#12a550"/>
<rect x="344.4" y="238.29" width="7.6" height="3.03" fill="#f3e535"/>
<rect x="344.4" y="241.27" width="7.6" height="3.03" fill="#12a550"/>
<rect x="344.4" y="244.25" width="7.6" height="2.04" fill="#a8d33c"/>
<rect x="344.4" y="246.23" width="7.6" height="3.03" fill="#12a550"/>
<rect x="344.4" y="249.21" width="7.6" height="3.03" fill="#a8d33c"/>
<rect x="344.4" y="252.19" width="7.6" height="8.99" fill="#12a550"/>
<rect x="344.4" y="261.13" width="7.6" height="6.01" fill="#f3e535"/>
<rect x="344.4" y="267.1" width="7.6" height="9.59" fill="#12a550"/>
<rect x="344.4" y="276.63" width="7.6" height="0.12" fill="#12a550"/>
<rect x="344.4" y="276.7" width="7.6" height="4" fill="#12a550"/>
<path fill="#2db4ee" opacity="0.68" d="M344.4 150.91h7.6v1h-7.6zM344.4 224.94h7.6v0.7h-7.6z"/>
<path fill="#3fb64a" opacity="0.68" d="M344.4 156.04h7.6v1h-7.6zM344.4 200.23h7.6v0.8h-7.6zM344.4 202.55h7.6v1h-7.6zM344.4 232.76h7.6v0.7h-7.6zM344.4 239.73h7.6v0.8h-7.6zM344.4 242.52h7.6v0.7h-7.6zM344.4 248.2h7.6v0.8h-7.6zM344.4 250.29h7.6v1.2h-7.6zM344.4 271.28h7.6v0.6h-7.6zM344.4 274.03h7.6v1.2h-7.6z"/>
<path fill="#a8d33c" opacity="0.68" d="M344.4 160.27h7.6v0.7h-7.6zM344.4 169.68h7.6v1h-7.6zM344.4 185.74h7.6v0.8h-7.6zM344.4 197.73h7.6v0.7h-7.6zM344.4 205.63h7.6v0.8h-7.6zM344.4 211.1h7.6v1h-7.6zM344.4 235.18h7.6v1.2h-7.6zM344.4 256.04h7.6v0.6h-7.6zM344.4 259.21h7.6v1h-7.6zM344.4 262.55h7.6v1.2h-7.6zM344.4 265.66h7.6v0.6h-7.6z"/>
<path fill="#f3e535" opacity="0.68" d="M344.4 162.72h7.6v1.2h-7.6zM344.4 175.72h7.6v0.7h-7.6zM344.4 187.81h7.6v0.7h-7.6zM344.4 208.4h7.6v0.7h-7.6zM344.4 214.55h7.6v1h-7.6zM344.4 220.69h7.6v1h-7.6zM344.4 230.05h7.6v1h-7.6zM344.4 253.55h7.6v1.2h-7.6zM344.4 268.01h7.6v1h-7.6z"/>
<path fill="#12a550" opacity="0.68" d="M344.4 166.26h7.6v1.2h-7.6zM344.4 179.66h7.6v0.7h-7.6zM344.4 194.19h7.6v1h-7.6z"/>
</g>
<rect x="345.4" y="149.9" width="0.45" height="126.8" fill="#0d6b4a" opacity="0.35"/>
<rect x="350.55" y="149.9" width="0.45" height="126.8" fill="#0d6b4a" opacity="0.35"/>
</g>
<g filter="url(#sb)">
<rect x="377.1" y="147" width="8.8" height="125.7" fill="#d9eef0" opacity="0.55"/>
<path fill="#9ba2b0" d="M374.7 148.17h4v2h-4zM374.7 151.07h4v0.6h-4zM374.7 178.47h4v0.6h-4zM374.7 194.67h4v0.5h-4zM374.7 213.37h4v0.8h-4zM375.21 214.67h3.49v1h-3.49zM374.7 220.67h4v0.8h-4zM374.7 264.17h4v0.8h-4zM384.3 147.72h3.29v1h-3.29zM384.3 149.92h4v0.8h-4zM384.3 180.42h4v0.8h-4zM384.3 186.72h4v0.5h-4zM384.3 195.62h4v2h-4zM384.3 210.42h4v0.6h-4zM384.3 211.52h3.54v1.5h-3.54zM384.3 262.02h4v1.5h-4z"/>
<path fill="#ced1d9" d="M374.7 154.07h4v2h-4zM374.7 161.87h4v0.7h-4zM374.7 208.37h4v2h-4zM374.7 256.77h4v0.5h-4zM374.7 268.17h4v1.2h-4zM384.3 157.72h3.7v0.7h-3.7zM384.3 178.22h4v1h-4zM384.3 184.02h4v1.5h-4zM384.3 216.52h4v1.5h-4zM384.3 233.52h4v2h-4zM384.3 252.12h4v0.6h-4zM384.3 266.32h4v0.6h-4z"/>
<path fill="#c2c7d1" d="M374.7 159.27h4v0.6h-4zM374.7 164.97h4v0.8h-4zM374.7 166.67h4v0.6h-4zM374.7 181.07h4v1.5h-4zM374.7 188.87h4v0.5h-4zM374.7 197.37h4v0.7h-4zM374.7 218.47h4v1h-4zM374.7 244.87h4v1.2h-4zM384.3 167.72h4v1.2h-4zM384.3 181.72h4v2h-4zM384.3 200.02h3.34v1.5h-3.34zM384.3 205.22h4v0.5h-4zM384.3 223.12h4v0.6h-4zM384.3 225.32h3.74v0.5h-3.74zM384.3 242.02h4v2h-4zM384.3 253.92h2.44v1.5h-2.44zM384.3 257.02h4v0.7h-4z"/>
<path fill="#babfcb" d="M374.7 160.17h4v0.5h-4zM375.51 179.57h3.19v1h-3.19zM374.7 186.97h4v0.7h-4zM374.7 212.07h4v0.6h-4zM374.7 224.67h4v0.8h-4zM374.7 231.47h4v0.8h-4zM384.3 161.62h3.37v0.5h-3.37zM384.3 164.52h4v0.8h-4zM384.3 193.92h4v1h-4zM384.3 208.12h4v0.7h-4zM384.3 219.62h4v0.6h-4zM384.3 247.82h4v2h-4zM384.3 258.42h4v0.7h-4z"/>
<path fill="#c8ccd5" d="M374.7 170.47h4v1h-4zM374.7 190.27h4v0.8h-4zM374.7 216.17h4v0.5h-4zM374.7 227.57h4v1h-4zM374.7 271.77h4v0.8h-4zM384.3 155.62h4v0.5h-4zM384.3 214.62h4v0.7h-4zM384.3 218.32h4v0.6h-4zM384.3 226.72h4v1.2h-4zM384.3 240.82h3.06v0.7h-3.06zM384.3 264.42h4v0.7h-4zM384.3 267.82h4v2h-4z"/>
<path fill="#abb1be" d="M374.7 174.67h4v0.8h-4zM375.63 176.17h3.07v0.7h-3.07zM374.7 193.47h4v0.5h-4zM374.7 196.07h4v0.6h-4zM374.7 198.37h4v2h-4zM374.7 202.07h4v1.5h-4zM374.7 204.77h4v1.2h-4zM374.7 216.97h4v1h-4zM374.7 229.07h4v0.8h-4zM374.7 233.87h4v2h-4zM374.7 237.47h4v1.2h-4zM374.7 241.07h4v0.6h-4zM374.7 254.07h4v1.5h-4zM374.7 258.17h4v1.2h-4zM374.7 260.97h4v0.5h-4zM384.3 171.22h4v2h-4zM384.3 259.82h4v1h-4z"/>
<path fill="#d5d8df" d="M374.7 184.97h4v1.5h-4zM374.7 200.87h4v0.5h-4zM375.35 211.07h3.35v0.7h-3.35zM374.7 226.67h4v0.6h-4zM376 262.17h2.7v0.8h-2.7zM384.3 176.42h4v1.5h-4zM384.3 188.42h4v0.7h-4zM384.3 192.92h4v0.7h-4zM384.3 203.12h3.76v0.5h-3.76zM384.3 228.42h4v0.6h-4zM384.3 237.92h4v0.5h-4zM384.3 245.62h4v1.5h-4zM384.3 250.52h4v0.7h-4zM384.3 271.02h4v0.5h-4z"/>
<path fill="#f0e07a" d="M374.7 249.27h4v1h-4zM374.7 250.97h4v1.5h-4zM384.3 169.22h4v1.5h-4zM384.3 220.72h4v1.2h-4zM384.3 230.62h4v2h-4z"/>
<path fill="#f2c274" d="M384.3 153.92h4v1.2h-4zM384.3 189.82h4v0.7h-4z"/>
</g>
<rect x="371.6" y="142.9" width="19.8" height="4.1" fill="#e23e94"/>
<rect x="373.8" y="144.6" width="3.6" height="0.7" fill="#f58fc0" opacity="0.8"/>
<rect x="384.9" y="143.3" width="3.2" height="3.3" fill="#f2b040" opacity="0.85"/>
<rect x="371.6" y="272.7" width="19.8" height="4.3" fill="#e23e94"/>
<rect x="375.3" y="273.1" width="2.8" height="3.5" fill="#f2b040" opacity="0.8"/>
<rect x="385.5" y="274.5" width="3.6" height="0.7" fill="#f58fc0" opacity="0.8"/>
<clipPath id="cb3"><rect x="378.7" y="142.9" width="5.6" height="134.1"/></clipPath>
<g clip-path="url(#cb3)"><g filter="url(#vb2)">
<rect x="377.7" y="138.9" width="7.6" height="8.15" fill="#1ba4e4"/>
<rect x="377.7" y="147" width="7.6" height="2.52" fill="#f3e535"/>
<rect x="377.7" y="149.47" width="7.6" height="2.43" fill="#f8c230"/>
<rect x="377.7" y="151.86" width="7.6" height="8" fill="#12a550"/>
<rect x="377.7" y="159.8" width="7.6" height="2.04" fill="#a8d33c"/>
<rect x="377.7" y="161.79" width="7.6" height="8.99" fill="#12a550"/>
<rect x="377.7" y="170.73" width="7.6" height="2.04" fill="#a8d33c"/>
<rect x="377.7" y="172.72" width="7.6" height="8" fill="#12a550"/>
<rect x="377.7" y="180.67" width="7.6" height="1.44" fill="#0fa98c"/>
<rect x="377.7" y="182.06" width="7.6" height="7.6" fill="#14a5c6"/>
<rect x="377.7" y="189.61" width="7.6" height="4.02" fill="#1666c9"/>
<rect x="377.7" y="193.58" width="7.6" height="8.99" fill="#1ba4e4"/>
<rect x="377.7" y="202.52" width="7.6" height="37.8" fill="#12a550"/>
<rect x="377.7" y="240.27" width="7.6" height="3.03" fill="#a8d33c"/>
<rect x="377.7" y="243.25" width="7.6" height="8" fill="#12a550"/>
<rect x="377.7" y="251.2" width="7.6" height="6.01" fill="#a8d33c"/>
<rect x="377.7" y="257.16" width="7.6" height="6.01" fill="#12a550"/>
<rect x="377.7" y="263.12" width="7.6" height="4.02" fill="#f8c230"/>
<rect x="377.7" y="267.1" width="7.6" height="5.61" fill="#12a550"/>
<rect x="377.7" y="272.66" width="7.6" height="0.09" fill="#12a550"/>
<rect x="377.7" y="272.7" width="7.6" height="4.35" fill="#1ba4e4"/>
<rect x="377.7" y="277" width="7.6" height="4" fill="#1ba4e4"/>
<path fill="#2db4ee" opacity="0.68" d="M377.7 144.49h7.6v0.6h-7.6zM377.7 194.92h7.6v0.7h-7.6zM377.7 197.75h7.6v0.7h-7.6z"/>
<path fill="#3fb64a" opacity="0.68" d="M377.7 147.96h7.6v0.8h-7.6zM377.7 156.53h7.6v0.8h-7.6zM377.7 174.03h7.6v1.2h-7.6zM377.7 177.92h7.6v0.7h-7.6zM377.7 186.67h7.6v1.2h-7.6zM377.7 206.72h7.6v0.6h-7.6zM377.7 221.43h7.6v0.6h-7.6zM377.7 248.2h7.6v0.6h-7.6zM377.7 252.05h7.6v1.2h-7.6zM377.7 260.16h7.6v0.6h-7.6z"/>
<path fill="#a8d33c" opacity="0.68" d="M377.7 153.73h7.6v0.7h-7.6zM377.7 163.34h7.6v0.6h-7.6zM377.7 166.55h7.6v0.6h-7.6zM377.7 169.08h7.6v0.8h-7.6zM377.7 203.82h7.6v0.6h-7.6zM377.7 210.13h7.6v0.8h-7.6zM377.7 217.04h7.6v1h-7.6zM377.7 224.88h7.6v0.6h-7.6zM377.7 227.24h7.6v0.7h-7.6zM377.7 230.81h7.6v1h-7.6zM377.7 233.52h7.6v1.2h-7.6zM377.7 237.55h7.6v0.6h-7.6zM377.7 269.01h7.6v0.6h-7.6z"/>
<path fill="#f3e535" opacity="0.68" d="M377.7 183.02h7.6v0.7h-7.6zM377.7 213.67h7.6v0.8h-7.6zM377.7 244.65h7.6v0.6h-7.6zM377.7 257.98h7.6v0.8h-7.6z"/>
<path fill="#0fa98c" opacity="0.68" d="M377.7 200.51h7.6v0.6h-7.6zM377.7 274.66h7.6v0.7h-7.6z"/>
<path fill="#12a550" opacity="0.68" d="M377.7 241.43h7.6v0.7h-7.6zM377.7 254.65h7.6v0.6h-7.6zM377.7 264.27h7.6v0.6h-7.6z"/>
</g>
<rect x="378.7" y="142.9" width="0.45" height="134.1" fill="#0d6b4a" opacity="0.35"/>
<rect x="383.85" y="142.9" width="0.45" height="134.1" fill="#0d6b4a" opacity="0.35"/>
</g>
<g filter="url(#sb)">
<rect x="410.2" y="138.6" width="8.8" height="133.8" fill="#d9eef0" opacity="0.55"/>
<path fill="#c8ccd5" d="M407.8 139.75h4v0.8h-4zM409.35 150.45h2.45v0.8h-2.45zM407.8 158.55h4v0.7h-4zM407.8 175.75h4v2h-4zM408.85 179.55h2.95v1.5h-2.95zM407.8 198.65h4v0.5h-4zM407.8 203.35h4v0.5h-4zM407.8 232.05h4v1.5h-4zM407.8 252.75h4v1.2h-4zM407.8 263.45h4v0.6h-4zM417.4 167.89h4v2h-4zM417.4 188.29h4v1h-4zM417.4 193.69h4v0.6h-4zM417.4 217.39h3.66v2h-3.66zM417.4 232.29h4v1.2h-4zM417.4 263.79h4v0.8h-4z"/>
<path fill="#babfcb" d="M409.25 140.85h2.55v0.7h-2.55zM407.8 159.95h4v0.5h-4zM407.8 161.15h4v0.8h-4zM407.8 172.05h4v0.5h-4zM407.8 204.35h4v1h-4zM407.8 205.65h4v0.6h-4zM407.8 226.65h4v2h-4zM408.13 234.25h3.67v0.8h-3.67zM408.94 248.35h2.86v1h-2.86zM407.8 259.55h4v0.8h-4zM407.8 264.75h4v2h-4zM417.4 191.69h3.19v1.5h-3.19zM417.4 204.49h4v1h-4zM417.4 210.89h4v1.2h-4zM417.4 229.89h4v0.8h-4z"/>
<path fill="#f2c274" d="M407.8 142.25h4v0.6h-4zM407.8 181.75h4v0.8h-4zM407.8 210.55h4v1h-4zM408.53 257.25h3.27v0.5h-3.27zM417.4 206.39h4v0.8h-4zM417.4 213.69h4v2h-4z"/>
<path fill="#c2c7d1" d="M407.8 144.45h4v0.5h-4zM407.8 153.75h4v0.6h-4zM407.8 169.75h4v2h-4zM407.8 189.75h4v0.6h-4zM407.8 195.05h4v2h-4zM407.8 230.85h4v0.7h-4zM407.8 238.95h4v2h-4zM407.8 241.25h4v1.5h-4zM407.8 261.05h4v1.5h-4zM407.8 267.95h4v0.7h-4zM407.8 268.95h4v1.5h-4zM417.4 160.69h4v1.2h-4zM417.4 164.29h4v2h-4zM417.4 208.09h4v1.2h-4zM417.4 224.09h4v0.8h-4zM417.4 225.59h4v0.5h-4zM417.4 227.69h4v1h-4zM417.4 246.19h4v1h-4zM417.4 251.59h4v2h-4z"/>
<path fill="#d5d8df" d="M407.8 146.55h4v0.7h-4zM407.8 154.85h4v0.5h-4zM407.8 186.55h4v2h-4zM409.03 199.45h2.77v0.7h-2.77zM407.8 213.15h4v2h-4zM407.8 218.45h4v0.7h-4zM407.8 245.65h4v0.5h-4zM407.8 254.25h4v0.6h-4zM417.4 139.29h4v0.8h-4zM417.4 155.49h4v1.5h-4zM417.4 185.99h4v2h-4zM417.4 216.39h4v0.7h-4zM417.4 235.89h4v0.8h-4zM417.4 239.09h4v2h-4zM417.4 267.89h4v0.6h-4z"/>
<path fill="#abb1be" d="M407.8 151.55h4v0.6h-4zM407.8 168.65h4v0.8h-4zM407.8 216.05h4v0.8h-4zM407.8 243.45h4v1.5h-4zM407.8 251.75h4v0.7h-4zM407.8 270.75h4v0.8h-4zM417.4 148.89h4v2h-4zM417.4 151.59h4v1h-4zM417.4 170.59h4v0.5h-4zM417.4 171.59h4v1.5h-4zM417.4 175.49h4v2h-4zM417.4 256.79h4v1h-4zM417.4 261.89h4v1h-4z"/>
<path fill="#9ba2b0" d="M407.8 162.45h4v0.5h-4zM407.8 163.45h4v2h-4zM407.8 183.45h4v0.8h-4zM407.8 185.15h4v0.5h-4zM407.8 222.45h4v0.7h-4zM407.8 224.75h4v0.7h-4zM408.74 236.65h3.06v2h-3.06zM417.4 143.29h4v1.5h-4zM417.4 181.59h3.34v1.2h-3.34zM417.4 195.89h4v2h-4zM417.4 220.09h4v1.5h-4zM417.4 222.79h4v1h-4zM417.4 259.89h4v0.8h-4zM417.4 270.09h4v1h-4z"/>
<path fill="#ced1d9" d="M408.51 178.25h3.29v1h-3.29zM407.8 209.45h4v0.6h-4zM407.8 220.05h4v0.8h-4zM408.17 247.05h3.63v1h-3.63zM407.8 258.25h4v0.8h-4zM417.4 173.99h3.71v0.6h-3.71zM417.4 177.79h3.78v0.5h-3.78zM417.4 178.79h3.69v1h-3.69zM417.4 198.39h4v1.2h-4zM417.4 201.99h4v2h-4zM417.4 243.49h4v2h-4zM417.4 250.39h4v0.5h-4zM417.4 258.49h4v0.7h-4z"/>
<path fill="#f0e07a" d="M407.8 190.65h4v2h-4zM407.8 229.85h4v0.7h-4zM417.4 145.69h4v2h-4zM417.4 154.19h4v0.6h-4zM417.4 158.59h4v0.5h-4zM417.4 180.29h4v0.8h-4zM417.4 266.99h4v0.6h-4z"/>
</g>
<rect x="404.7" y="134.1" width="19.8" height="4.5" fill="#e23e94"/>
<rect x="406.9" y="136" width="3.6" height="0.7" fill="#f58fc0" opacity="0.8"/>
<rect x="418.6" y="136" width="3.6" height="0.7" fill="#f58fc0" opacity="0.8"/>
<rect x="404.7" y="272.4" width="19.8" height="4.3" fill="#e23e94"/>
<rect x="408.4" y="272.8" width="2.8" height="3.5" fill="#f2b040" opacity="0.8"/>
<rect x="418.6" y="274.2" width="3.6" height="0.7" fill="#f58fc0" opacity="0.8"/>
<clipPath id="cb4"><rect x="411.8" y="134.1" width="5.6" height="142.7"/></clipPath>
<g clip-path="url(#cb4)"><g filter="url(#vb2)">
<rect x="410.8" y="130.1" width="7.6" height="8.55" fill="#1ba4e4"/>
<rect x="410.8" y="138.6" width="7.6" height="19.52" fill="#12a550"/>
<rect x="410.8" y="158.07" width="7.6" height="2.96" fill="#f3e535"/>
<rect x="410.8" y="160.97" width="7.6" height="0.77" fill="#f8c230"/>
<rect x="410.8" y="161.7" width="7.6" height="1.28" fill="#f4902d"/>
<rect x="410.8" y="162.93" width="7.6" height="0.77" fill="#f3e535"/>
<rect x="410.8" y="163.66" width="7.6" height="2.29" fill="#f3e535"/>
<rect x="410.8" y="165.89" width="7.6" height="8.99" fill="#12a550"/>
<rect x="410.8" y="174.83" width="7.6" height="2.29" fill="#a8d33c"/>
<rect x="410.8" y="177.07" width="7.6" height="14.58" fill="#12a550"/>
<rect x="410.8" y="191.6" width="7.6" height="4.52" fill="#1ba4e4"/>
<rect x="410.8" y="196.07" width="7.6" height="3.4" fill="#12a550"/>
<rect x="410.8" y="199.43" width="7.6" height="4.52" fill="#1ba4e4"/>
<rect x="410.8" y="203.9" width="7.6" height="26.88" fill="#12a550"/>
<rect x="410.8" y="230.72" width="7.6" height="4.52" fill="#a8d33c"/>
<rect x="410.8" y="235.2" width="7.6" height="4.52" fill="#12a550"/>
<rect x="410.8" y="239.67" width="7.6" height="3.4" fill="#a8d33c"/>
<rect x="410.8" y="243.02" width="7.6" height="3.4" fill="#12a550"/>
<rect x="410.8" y="246.37" width="7.6" height="3.4" fill="#a8d33c"/>
<rect x="410.8" y="249.73" width="7.6" height="3.4" fill="#3fb64a"/>
<rect x="410.8" y="253.08" width="7.6" height="4.52" fill="#12a550"/>
<rect x="410.8" y="257.55" width="7.6" height="2.73" fill="#a8d33c"/>
<rect x="410.8" y="260.23" width="7.6" height="6.31" fill="#12a550"/>
<rect x="410.8" y="266.49" width="7.6" height="5.64" fill="#a8d33c"/>
<rect x="410.8" y="272.08" width="7.6" height="0.37" fill="#12a550"/>
<rect x="410.8" y="272.4" width="7.6" height="4.45" fill="#1ba4e4"/>
<rect x="410.8" y="276.8" width="7.6" height="4" fill="#1ba4e4"/>
<path fill="#0fa98c" opacity="0.68" d="M410.8 136.06h7.6v1h-7.6zM410.8 200.65h7.6v1.2h-7.6z"/>
<path fill="#f3e535" opacity="0.68" d="M410.8 140.05h7.6v0.7h-7.6zM410.8 142.94h7.6v1h-7.6zM410.8 159.79h7.6v0.6h-7.6zM410.8 185.88h7.6v1.2h-7.6zM410.8 207.37h7.6v1h-7.6zM410.8 209.57h7.6v1.2h-7.6zM410.8 241.55h7.6v0.8h-7.6zM410.8 259.23h7.6v0.8h-7.6zM410.8 268.41h7.6v0.7h-7.6zM410.8 271.01h7.6v1h-7.6z"/>
<path fill="#3fb64a" opacity="0.68" d="M410.8 146.49h7.6v1.2h-7.6zM410.8 149.69h7.6v0.7h-7.6zM410.8 156.47h7.6v1.2h-7.6zM410.8 173.41h7.6v0.6h-7.6zM410.8 198.01h7.6v0.6h-7.6zM410.8 204.7h7.6v0.8h-7.6zM410.8 212.58h7.6v1h-7.6zM410.8 223.72h7.6v1h-7.6zM410.8 227.37h7.6v1.2h-7.6zM410.8 236.66h7.6v0.7h-7.6zM410.8 261.28h7.6v0.8h-7.6zM410.8 263.86h7.6v1.2h-7.6z"/>
<path fill="#a8d33c" opacity="0.68" d="M410.8 152.98h7.6v0.8h-7.6zM410.8 167.15h7.6v0.7h-7.6zM410.8 169.49h7.6v0.7h-7.6zM410.8 178.75h7.6v1h-7.6zM410.8 181.5h7.6v1h-7.6zM410.8 189.68h7.6v0.8h-7.6zM410.8 216.5h7.6v0.6h-7.6zM410.8 218.66h7.6v1.2h-7.6zM410.8 221.72h7.6v0.8h-7.6zM410.8 232.06h7.6v1h-7.6zM410.8 244.65h7.6v0.7h-7.6zM410.8 248.35h7.6v1h-7.6zM410.8 254.9h7.6v0.8h-7.6z"/>
<path fill="#2db4ee" opacity="0.68" d="M410.8 193.06h7.6v0.8h-7.6zM410.8 274.14h7.6v0.8h-7.6z"/>
</g>
<rect x="411.8" y="134.1" width="0.45" height="142.7" fill="#0d6b4a" opacity="0.35"/>
<rect x="416.95" y="134.1" width="0.45" height="142.7" fill="#0d6b4a" opacity="0.35"/>
</g>
<g filter="url(#sb)">
<rect x="443.6" y="135" width="8.8" height="137.4" fill="#d9eef0" opacity="0.55"/>
<path fill="#babfcb" d="M442.36 136.05h2.84v1.2h-2.84zM441.2 186.75h4v0.8h-4zM442.75 188.05h2.45v0.8h-2.45zM441.2 189.35h4v1.2h-4zM441.55 208.25h3.65v0.6h-3.65zM442.04 212.95h3.16v0.7h-3.16zM441.2 226.15h4v0.6h-4zM450.8 135.81h4v1.2h-4zM450.8 149.51h4v2h-4zM450.8 208.61h4v0.6h-4zM450.8 239.21h3.78v0.8h-3.78zM450.8 245.71h4v1.2h-4z"/>
<path fill="#abb1be" d="M441.2 138.85h4v1h-4zM441.61 140.55h3.59v0.6h-3.59zM441.2 184.35h4v0.8h-4zM441.2 215.85h4v1h-4zM441.2 246.75h4v0.5h-4zM441.2 248.85h4v2h-4zM441.2 255.85h4v2h-4zM450.8 181.91h4v2h-4zM450.8 196.31h4v1.2h-4zM450.8 219.31h4v1h-4zM450.8 234.01h4v2h-4zM450.8 255.31h4v2h-4zM450.8 267.21h4v1.5h-4z"/>
<path fill="#ced1d9" d="M442.48 143.55h2.72v2h-2.72zM441.52 146.25h3.68v1h-3.68zM441.2 154.15h4v1.5h-4zM441.2 158.35h4v0.6h-4zM441.2 168.35h4v1.5h-4zM441.2 227.95h4v1.5h-4zM442.17 237.45h3.03v1.5h-3.03zM450.8 178.21h4v0.8h-4zM450.8 184.41h4v1.5h-4zM450.8 199.11h4v0.7h-4zM450.8 206.21h4v0.8h-4zM450.8 214.41h4v0.8h-4zM450.8 217.61h4v1h-4z"/>
<path fill="#c2c7d1" d="M442.3 147.55h2.9v1.2h-2.9zM441.2 149.45h4v1.5h-4zM441.2 174.25h4v1.2h-4zM441.2 210.45h4v2h-4zM450.8 142.71h4v0.7h-4zM450.8 146.71h4v0.8h-4zM450.8 154.81h4v0.7h-4zM450.8 160.31h4v0.6h-4zM450.8 171.01h4v2h-4zM450.8 187.11h4v0.5h-4zM450.8 188.51h4v1.2h-4zM450.8 192.91h4v1h-4zM450.8 205.21h2.81v0.7h-2.81zM450.8 211.61h4v0.7h-4zM450.8 240.31h4v2h-4zM450.8 247.81h4v0.5h-4z"/>
<path fill="#9ba2b0" d="M441.2 156.15h4v1.5h-4zM441.2 180.85h4v0.5h-4zM441.2 192.15h4v2h-4zM441.2 204.45h4v0.6h-4zM441.2 230.65h4v1.5h-4zM441.2 258.75h4v1.2h-4zM441.2 270.15h4v0.8h-4zM450.8 139.61h3.54v0.7h-3.54zM450.8 162.51h4v2h-4zM450.8 175.01h4v0.7h-4zM450.8 176.91h4v0.6h-4zM450.8 228.91h4v0.7h-4zM450.8 249.91h4v0.6h-4z"/>
<path fill="#c8ccd5" d="M441.2 160.55h4v0.5h-4zM441.2 165.75h4v1h-4zM441.2 173.25h4v0.5h-4zM441.2 199.05h4v2h-4zM442.44 220.15h2.76v0.5h-2.76zM441.2 239.65h4v1h-4zM441.2 241.85h4v0.7h-4zM441.2 247.55h4v1h-4zM441.2 271.65h4v0.75h-4zM450.8 138.61h4v0.5h-4zM450.8 143.91h4v0.8h-4zM450.8 158.71h4v0.7h-4zM450.8 202.21h4v0.6h-4zM450.8 224.11h4v0.7h-4zM450.8 232.01h2.45v0.8h-2.45zM450.8 264.01h4v0.8h-4zM450.8 271.11h4v1.2h-4z"/>
<path fill="#d5d8df" d="M441.2 161.75h4v1.2h-4zM442.32 170.35h2.88v2h-2.88zM441.2 176.65h4v1h-4zM441.2 182.25h4v0.5h-4zM441.2 185.45h4v0.8h-4zM441.84 201.55h3.36v0.5h-3.36zM441.2 214.15h4v0.5h-4zM441.2 217.55h4v1h-4zM441.2 223.05h4v1.5h-4zM441.2 242.85h4v0.7h-4zM441.2 252.45h4v1h-4zM441.2 263.15h4v1.2h-4zM441.2 265.05h4v0.7h-4zM441.2 266.25h4v1.5h-4zM450.8 145.01h3.01v0.8h-3.01zM450.8 166.91h4v1.5h-4zM450.8 180.21h4v0.8h-4zM450.8 213.01h3.64v0.7h-3.64zM450.8 221.01h4v0.7h-4zM450.8 226.01h4v0.7h-4zM450.8 227.91h4v0.5h-4zM450.8 262.31h4v0.5h-4z"/>
<path fill="#f0e07a" d="M441.2 163.65h4v0.5h-4zM441.2 197.35h4v0.5h-4zM450.8 148.71h4v0.5h-4zM450.8 152.01h4v1.2h-4zM450.8 169.31h4v0.8h-4zM450.8 173.71h4v0.8h-4zM450.8 215.91h2.85v0.5h-2.85zM450.8 243.51h4v0.6h-4zM450.8 251.41h4v0.7h-4zM450.8 260.51h4v0.6h-4z"/>
<path fill="#f2c274" d="M441.2 233.75h4v0.5h-4z"/>
</g>
<rect x="438.1" y="130.8" width="19.8" height="4.2" fill="#e23e94"/>
<rect x="440.3" y="132.55" width="3.6" height="0.7" fill="#f58fc0" opacity="0.8"/>
<rect x="452" y="132.55" width="3.6" height="0.7" fill="#f58fc0" opacity="0.8"/>
<rect x="438.1" y="272.4" width="19.8" height="4.3" fill="#e23e94"/>
<rect x="441.8" y="272.8" width="2.8" height="3.5" fill="#f2b040" opacity="0.8"/>
<rect x="452" y="274.2" width="3.6" height="0.7" fill="#f58fc0" opacity="0.8"/>
<clipPath id="cb5"><rect x="445.2" y="130.8" width="5.6" height="146"/></clipPath>
<g clip-path="url(#cb5)"><g filter="url(#vb2)">
<rect x="444.2" y="126.8" width="7.6" height="8.25" fill="#12a550"/>
<rect x="444.2" y="135" width="7.6" height="7.47" fill="#12a550"/>
<rect x="444.2" y="142.42" width="7.6" height="4.52" fill="#a8d33c"/>
<rect x="444.2" y="146.89" width="7.6" height="8.99" fill="#12a550"/>
<rect x="444.2" y="155.83" width="7.6" height="3.4" fill="#f8c230"/>
<rect x="444.2" y="159.18" width="7.6" height="5.64" fill="#12a550"/>
<rect x="444.2" y="164.77" width="7.6" height="5.19" fill="#f3e535"/>
<rect x="444.2" y="169.92" width="7.6" height="6.09" fill="#12a550"/>
<rect x="444.2" y="175.95" width="7.6" height="2.96" fill="#a8d33c"/>
<rect x="444.2" y="178.86" width="7.6" height="13.91" fill="#12a550"/>
<rect x="444.2" y="192.72" width="7.6" height="1.13" fill="#f4902d"/>
<rect x="444.2" y="193.8" width="7.6" height="2.8" fill="#ee3f2e"/>
<rect x="444.2" y="196.55" width="7.6" height="1.13" fill="#f8c230"/>
<rect x="444.2" y="197.64" width="7.6" height="4.07" fill="#a8d33c"/>
<rect x="444.2" y="201.66" width="7.6" height="6.76" fill="#12a550"/>
<rect x="444.2" y="208.37" width="7.6" height="5.64" fill="#f3e535"/>
<rect x="444.2" y="213.96" width="7.6" height="14.58" fill="#1ba4e4"/>
<rect x="444.2" y="228.49" width="7.6" height="4.52" fill="#1666c9"/>
<rect x="444.2" y="232.96" width="7.6" height="12.35" fill="#1ba4e4"/>
<rect x="444.2" y="245.26" width="7.6" height="10.11" fill="#12a550"/>
<rect x="444.2" y="255.32" width="7.6" height="4.52" fill="#f8c230"/>
<rect x="444.2" y="259.79" width="7.6" height="12.35" fill="#12a550"/>
<rect x="444.2" y="272.08" width="7.6" height="0.37" fill="#12a550"/>
<rect x="444.2" y="272.4" width="7.6" height="4.45" fill="#1ba4e4"/>
<rect x="444.2" y="276.8" width="7.6" height="4" fill="#1ba4e4"/>
<path fill="#f3e535" opacity="0.68" d="M444.2 131.64h7.6v1.2h-7.6zM444.2 171.65h7.6v1h-7.6zM444.2 180.66h7.6v1h-7.6z"/>
<path fill="#3fb64a" opacity="0.68" d="M444.2 134.09h7.6v1h-7.6zM444.2 150.88h7.6v1.2h-7.6zM444.2 174.98h7.6v0.7h-7.6zM444.2 177.35h7.6v1h-7.6zM444.2 183.2h7.6v1.2h-7.6zM444.2 188.88h7.6v0.6h-7.6zM444.2 191.84h7.6v0.8h-7.6zM444.2 265.24h7.6v0.6h-7.6z"/>
<path fill="#a8d33c" opacity="0.68" d="M444.2 135.9h7.6v1h-7.6zM444.2 140.37h7.6v0.7h-7.6zM444.2 147.81h7.6v0.6h-7.6zM444.2 154.08h7.6v0.7h-7.6zM444.2 160.63h7.6v0.8h-7.6zM444.2 166.38h7.6v0.8h-7.6zM444.2 185.6h7.6v1.2h-7.6zM444.2 198.99h7.6v1.2h-7.6zM444.2 203.26h7.6v1h-7.6zM444.2 206.01h7.6v0.8h-7.6zM444.2 209.72h7.6v1h-7.6zM444.2 246.34h7.6v1.2h-7.6zM444.2 248.9h7.6v0.7h-7.6zM444.2 251.98h7.6v1h-7.6zM444.2 261.12h7.6v0.6h-7.6zM444.2 268.78h7.6v0.6h-7.6z"/>
<path fill="#12a550" opacity="0.68" d="M444.2 143.73h7.6v0.7h-7.6zM444.2 157.52h7.6v1.2h-7.6zM444.2 256.36h7.6v0.8h-7.6z"/>
<path fill="#0fa98c" opacity="0.68" d="M444.2 215.35h7.6v0.6h-7.6zM444.2 217.71h7.6v0.8h-7.6z"/>
<path fill="#2db4ee" opacity="0.68" d="M444.2 220.57h7.6v0.7h-7.6zM444.2 224.64h7.6v0.8h-7.6zM444.2 234.02h7.6v1h-7.6zM444.2 237.67h7.6v0.7h-7.6zM444.2 240.91h7.6v0.8h-7.6zM444.2 244.43h7.6v1h-7.6zM444.2 274.03h7.6v0.6h-7.6z"/>
</g>
<rect x="445.2" y="130.8" width="0.45" height="146" fill="#0d6b4a" opacity="0.35"/>
<rect x="450.35" y="130.8" width="0.45" height="146" fill="#0d6b4a" opacity="0.35"/>
</g>
<g filter="url(#sb)">
<rect x="476.7" y="128.3" width="8.8" height="144.1" fill="#d9eef0" opacity="0.55"/>
<path fill="#f0e07a" d="M474.75 129.15h3.55v2h-3.55zM474.3 177.35h4v0.7h-4zM474.3 211.75h4v1.5h-4zM474.54 216.45h3.76v0.5h-3.76zM474.3 240.25h4v2h-4zM483.9 139.98h4v0.8h-4zM483.9 167.78h4v1h-4zM483.9 190.48h4v1.5h-4zM483.9 194.38h3.07v0.8h-3.07zM483.9 217.88h4v2h-4zM483.9 266.58h4v1h-4z"/>
<path fill="#c8ccd5" d="M474.3 131.45h4v1h-4zM474.3 143.05h4v1.2h-4zM474.3 148.35h4v2h-4zM474.3 151.05h4v2h-4zM474.3 153.95h4v0.7h-4zM474.3 156.25h4v2h-4zM474.3 167.35h4v1.5h-4zM474.3 172.95h4v1.5h-4zM475.27 202.15h3.03v2h-3.03zM474.3 209.75h4v0.8h-4zM474.3 234.95h4v1.5h-4zM483.9 138.18h4v1.5h-4zM483.9 147.68h4v1.2h-4zM483.9 161.58h4v0.8h-4zM483.9 197.58h4v1.5h-4zM483.9 216.58h4v0.8h-4zM483.9 246.08h4v1.2h-4zM483.9 251.08h4v0.6h-4zM483.9 254.08h4v0.6h-4z"/>
<path fill="#9ba2b0" d="M474.3 135.65h4v1.2h-4zM474.3 159.15h4v1.2h-4zM474.3 161.05h4v0.7h-4zM474.3 162.25h4v0.6h-4zM474.57 222.55h3.73v0.8h-3.73zM474.3 255.65h4v0.6h-4zM474.3 261.55h4v0.7h-4zM474.3 266.65h4v1.5h-4zM483.9 131.58h4v1h-4zM483.9 208.78h4v0.6h-4zM483.9 224.68h3.32v1.5h-3.32zM483.9 229.18h4v0.7h-4zM483.9 238.28h4v0.8h-4z"/>
<path fill="#d5d8df" d="M474.3 137.75h4v2h-4zM474.3 237.15h4v1.5h-4zM474.3 242.75h4v0.8h-4zM474.3 245.95h4v1.5h-4zM474.3 269.35h4v0.7h-4zM483.9 175.18h4v2h-4zM483.9 185.78h4v0.7h-4zM483.9 188.98h4v0.8h-4zM483.9 210.58h4v1.2h-4zM483.9 239.58h3.68v1h-3.68zM483.9 260.48h4v0.7h-4z"/>
<path fill="#abb1be" d="M474.3 140.45h4v1h-4zM474.3 171.65h4v1h-4zM474.3 182.85h4v1.5h-4zM474.3 196.25h4v0.8h-4zM474.3 224.05h4v0.7h-4zM474.3 270.55h4v1.85h-4zM483.9 128.38h4v0.8h-4zM483.9 133.48h3.02v2h-3.02zM483.9 149.78h4v1.2h-4zM483.9 226.48h4v1.5h-4zM483.9 269.18h4v1.2h-4z"/>
<path fill="#f2c274" d="M474.3 144.75h4v0.5h-4zM474.3 208.25h4v0.6h-4zM483.9 171.68h4v0.5h-4zM483.9 186.98h2.51v1.5h-2.51zM483.9 205.68h4v0.6h-4zM483.9 261.88h4v1.5h-4z"/>
<path fill="#c2c7d1" d="M474.3 145.95h4v1.2h-4zM474.3 190.65h4v1h-4zM474.3 204.45h4v0.6h-4zM474.3 217.45h4v1.5h-4zM474.3 219.65h4v2h-4zM474.3 225.05h4v0.5h-4zM474.3 226.75h4v1h-4zM474.3 228.05h4v0.6h-4zM474.3 230.25h4v1.5h-4zM483.9 173.08h4v1.2h-4zM483.9 183.38h4v1.2h-4zM483.9 202.28h4v1h-4zM483.9 207.78h4v0.7h-4zM483.9 214.18h2.67v0.8h-2.67zM483.9 221.78h4v2h-4zM483.9 231.48h4v1.2h-4zM483.9 241.28h4v0.7h-4zM483.9 249.68h4v0.5h-4zM483.9 271.08h4v0.8h-4z"/>
<path fill="#ced1d9" d="M474.3 166.05h4v0.8h-4zM475.73 178.75h2.57v1.2h-2.57zM475.73 180.25h2.57v1h-2.57zM474.3 185.25h4v2h-4zM474.3 250.55h4v0.6h-4zM474.3 265.15h4v0.8h-4zM483.9 136.68h2.99v0.8h-2.99zM483.9 141.28h4v2h-4zM483.9 145.68h4v0.8h-4zM483.9 153.38h4v0.6h-4zM483.9 169.48h4v1.5h-4zM483.9 177.88h4v0.8h-4zM483.9 179.18h4v1h-4zM483.9 206.98h4v0.5h-4zM483.9 220.78h4v0.5h-4zM483.9 233.58h4v1.5h-4z"/>
<path fill="#babfcb" d="M474.3 169.75h4v0.7h-4zM474.3 175.65h4v0.5h-4zM475.43 188.85h2.87v1.5h-2.87zM474.3 194.05h4v1h-4zM474.3 198.25h4v0.7h-4zM474.95 244.45h3.35v1h-3.35zM474.3 249.05h4v0.8h-4zM474.3 254.35h4v1h-4zM474.3 259.45h4v1.2h-4zM474.3 262.95h4v0.6h-4zM483.9 157.18h4v1.2h-4zM483.9 159.58h4v0.8h-4zM483.9 165.58h4v0.6h-4zM483.9 245.18h4v0.6h-4zM483.9 252.18h4v0.7h-4zM483.9 256.28h4v1h-4z"/>
</g>
<rect x="471.2" y="272.4" width="19.8" height="4.2" fill="#e23e94"/>
<rect x="473.4" y="274.15" width="3.6" height="0.7" fill="#f58fc0" opacity="0.8"/>
<rect x="485.1" y="274.15" width="3.6" height="0.7" fill="#f58fc0" opacity="0.8"/>
<clipPath id="cb6"><rect x="478.3" y="128.3" width="5.6" height="148.5"/></clipPath>
<g clip-path="url(#cb6)"><g filter="url(#vb2)">
<rect x="477.3" y="124.3" width="7.6" height="6.99" fill="#1ba4e4"/>
<rect x="477.3" y="131.24" width="7.6" height="12.35" fill="#12a550"/>
<rect x="477.3" y="143.53" width="7.6" height="3.4" fill="#a8d33c"/>
<rect x="477.3" y="146.89" width="7.6" height="7.87" fill="#12a550"/>
<rect x="477.3" y="154.71" width="7.6" height="3.4" fill="#a8d33c"/>
<rect x="477.3" y="158.07" width="7.6" height="3.4" fill="#12a550"/>
<rect x="477.3" y="161.42" width="7.6" height="4.52" fill="#1ba4e4"/>
<rect x="477.3" y="165.89" width="7.6" height="7.87" fill="#12a550"/>
<rect x="477.3" y="173.72" width="7.6" height="5.64" fill="#1ba4e4"/>
<rect x="477.3" y="179.3" width="7.6" height="7.87" fill="#0fa98c"/>
<rect x="477.3" y="187.13" width="7.6" height="4.52" fill="#1ba4e4"/>
<rect x="477.3" y="191.6" width="7.6" height="33.58" fill="#12a550"/>
<rect x="477.3" y="225.14" width="7.6" height="3.4" fill="#f3e535"/>
<rect x="477.3" y="228.49" width="7.6" height="10.11" fill="#12a550"/>
<rect x="477.3" y="238.55" width="7.6" height="3.4" fill="#f3e535"/>
<rect x="477.3" y="241.9" width="7.6" height="3.4" fill="#12a550"/>
<rect x="477.3" y="245.26" width="7.6" height="3.4" fill="#a8d33c"/>
<rect x="477.3" y="248.61" width="7.6" height="23.52" fill="#12a550"/>
<rect x="477.3" y="272.08" width="7.6" height="0.37" fill="#12a550"/>
<rect x="477.3" y="272.4" width="7.6" height="4.45" fill="#12a550"/>
<rect x="477.3" y="276.8" width="7.6" height="4" fill="#12a550"/>
<path fill="#0fa98c" opacity="0.68" d="M477.3 129.91h7.6v1h-7.6z"/>
<path fill="#3fb64a" opacity="0.68" d="M477.3 132.96h7.6v1.2h-7.6zM477.3 140.63h7.6v0.7h-7.6zM477.3 148.29h7.6v0.8h-7.6zM477.3 172.2h7.6v0.6h-7.6zM477.3 196.06h7.6v1.2h-7.6zM477.3 203.1h7.6v1h-7.6zM477.3 207.19h7.6v1.2h-7.6zM477.3 213.74h7.6v0.7h-7.6zM477.3 216.73h7.6v0.8h-7.6zM477.3 223.6h7.6v1.2h-7.6zM477.3 226.45h7.6v1h-7.6zM477.3 246.98h7.6v0.8h-7.6zM477.3 253.55h7.6v0.7h-7.6zM477.3 260.54h7.6v0.7h-7.6zM477.3 262.68h7.6v0.6h-7.6zM477.3 264.89h7.6v1.2h-7.6z"/>
<path fill="#a8d33c" opacity="0.68" d="M477.3 136.99h7.6v1.2h-7.6zM477.3 150.6h7.6v0.7h-7.6zM477.3 152.74h7.6v1.2h-7.6zM477.3 159h7.6v0.6h-7.6zM477.3 167.07h7.6v1.2h-7.6zM477.3 169.79h7.6v0.6h-7.6zM477.3 180.7h7.6v0.8h-7.6zM477.3 182.88h7.6v0.6h-7.6zM477.3 193.53h7.6v1h-7.6zM477.3 230.04h7.6v1h-7.6zM477.3 233.81h7.6v0.6h-7.6zM477.3 237.11h7.6v1.2h-7.6zM477.3 250.49h7.6v0.7h-7.6zM477.3 256.31h7.6v0.8h-7.6zM477.3 258.47h7.6v0.7h-7.6zM477.3 267.42h7.6v0.8h-7.6zM477.3 270.67h7.6v0.8h-7.6zM477.3 273.66h7.6v0.8h-7.6z"/>
<path fill="#f3e535" opacity="0.68" d="M477.3 144.51h7.6v0.8h-7.6zM477.3 156.4h7.6v1.2h-7.6zM477.3 199.74h7.6v1h-7.6zM477.3 210.45h7.6v0.8h-7.6zM477.3 219.22h7.6v1h-7.6zM477.3 243.53h7.6v1h-7.6z"/>
<path fill="#2db4ee" opacity="0.68" d="M477.3 162.96h7.6v1h-7.6zM477.3 175.42h7.6v1.2h-7.6zM477.3 188.29h7.6v1.2h-7.6z"/>
<path fill="#12a550" opacity="0.68" d="M477.3 240.09h7.6v1h-7.6z"/>
</g>
<rect x="478.3" y="128.3" width="0.45" height="148.5" fill="#0d6b4a" opacity="0.35"/>
<rect x="483.45" y="128.3" width="0.45" height="148.5" fill="#0d6b4a" opacity="0.35"/>
</g>
<g filter="url(#sb)">
<rect x="510.2" y="119.4" width="8.8" height="153" fill="#d9eef0" opacity="0.55"/>
<path fill="#abb1be" d="M508.81 119.7h2.99v1.5h-2.99zM509.18 157.2h2.62v1.5h-2.62zM507.8 161.3h4v0.8h-4zM507.8 173.6h4v0.8h-4zM507.8 202.9h4v0.7h-4zM507.8 252.5h4v0.5h-4zM507.8 265h4v1.5h-4zM517.4 184.76h4v0.5h-4zM517.4 189.06h4v1.2h-4zM517.4 195.16h4v1h-4zM517.4 217.16h4v2h-4zM517.4 227.76h4v2h-4zM517.4 239.56h4v0.7h-4z"/>
<path fill="#babfcb" d="M507.8 121.7h4v1h-4zM507.8 125.8h4v0.7h-4zM507.8 155.9h4v1h-4zM507.8 171.4h4v1.5h-4zM507.8 199h4v0.7h-4zM507.8 212.9h4v0.8h-4zM509.34 214.2h2.46v0.6h-2.46zM507.8 246.8h4v1h-4zM507.8 258.9h4v0.7h-4zM517.4 126.66h4v2h-4zM517.4 133.26h2.58v2h-2.58zM517.4 148.66h4v0.6h-4zM517.4 199.96h4v1.5h-4zM517.4 231.36h4v1.2h-4zM517.4 240.56h4v1.5h-4zM517.4 256.06h4v0.7h-4z"/>
<path fill="#c2c7d1" d="M507.8 123.9h4v1.2h-4zM507.8 159.2h4v0.5h-4zM509 234.6h2.8v1.5h-2.8zM517.4 129.36h4v1.5h-4zM517.4 140.76h4v2h-4zM517.4 143.46h4v0.7h-4zM517.4 178.66h4v0.5h-4zM517.4 221.96h4v1.2h-4zM517.4 226.86h2.59v0.6h-2.59zM517.4 254.86h3.04v0.7h-3.04zM517.4 257.96h4v1.5h-4z"/>
<path fill="#c8ccd5" d="M507.8 127.2h4v0.6h-4zM507.8 167.2h4v1h-4zM507.8 179.9h4v0.6h-4zM507.8 184.4h4v1.2h-4zM507.8 191.4h4v1h-4zM507.8 194.6h4v2h-4zM507.8 217.9h4v1.5h-4zM507.8 241.3h4v2h-4zM507.8 248.1h4v1.2h-4zM507.8 254.2h4v1.5h-4zM509.08 269.8h2.72v1h-2.72zM517.4 119.46h4v0.8h-4zM517.4 121.46h4v2h-4zM517.4 135.56h3.09v1.2h-3.09zM517.4 139.96h4v0.5h-4zM517.4 149.56h4v0.7h-4zM517.4 156.26h4v1.2h-4zM517.4 190.56h3.21v0.8h-3.21zM517.4 192.06h4v0.8h-4zM517.4 198.76h3.1v0.7h-3.1zM517.4 207.36h3.47v1.5h-3.47zM517.4 262.66h4v0.8h-4zM517.4 266.36h4v1.2h-4z"/>
<path fill="#d5d8df" d="M509.07 128.3h2.73v0.8h-2.73zM507.8 149.2h4v1.5h-4zM507.8 180.8h4v2h-4zM507.8 188h4v1.5h-4zM507.8 193.6h4v0.5h-4zM507.8 210.7h4v1.5h-4zM507.8 219.7h4v0.7h-4zM507.8 224.6h4v0.7h-4zM507.8 226h4v1.2h-4zM507.8 236.6h4v1h-4zM508.39 262.8h3.41v1.5h-3.41zM507.8 267.4h4v1.5h-4zM517.4 169.56h4v1.2h-4zM517.4 180.06h4v1.2h-4zM517.4 183.46h4v0.6h-4zM517.4 202.16h4v2h-4zM517.4 219.66h4v2h-4zM517.4 238.16h2.9v0.5h-2.9zM517.4 264.66h4v0.5h-4z"/>
<path fill="#ced1d9" d="M507.8 130.3h4v1.5h-4zM507.8 134.5h4v0.6h-4zM507.8 136h4v0.8h-4zM507.8 141.5h4v2h-4zM507.8 162.8h4v0.7h-4zM507.8 221.6h4v0.6h-4zM507.8 245.6h4v0.5h-4zM507.8 272h4v0.4h-4zM517.4 174.76h4v1.5h-4zM517.4 177.46h4v0.5h-4zM517.4 181.96h4v0.8h-4zM517.4 194.06h4v0.6h-4zM517.4 196.86h4v0.7h-4zM517.4 209.56h4v1.2h-4zM517.4 244.46h4v0.8h-4zM517.4 268.46h3.47v1.5h-3.47zM517.4 271.56h4v0.84h-4z"/>
<path fill="#9ba2b0" d="M509.17 132.1h2.63v1.5h-2.63zM508.46 147.3h3.34v1h-3.34zM507.8 153.9h4v1.5h-4zM507.8 176.8h4v0.7h-4zM507.8 216.4h4v0.6h-4zM508.14 240h3.66v0.6h-3.66zM517.4 150.96h4v1.5h-4zM517.4 224.76h4v0.5h-4zM517.4 251.86h4v0.6h-4z"/>
<path fill="#f0e07a" d="M508.1 140h3.7v1.2h-3.7zM507.8 145.1h4v1h-4zM507.8 165.9h4v0.8h-4zM507.8 175.6h4v0.5h-4zM507.8 190h4v0.5h-4zM507.8 206h4v1.5h-4zM507.8 229.6h4v2h-4zM507.8 232.3h4v0.7h-4zM508.4 244h3.4v0.7h-3.4zM507.8 260.8h4v0.8h-4zM517.4 145.06h4v1.2h-4zM517.4 153.66h4v1h-4zM517.4 158.16h4v0.6h-4zM517.4 161.96h4v0.8h-4zM517.4 165.16h4v2h-4zM517.4 171.66h4v0.7h-4zM517.4 186.16h4v0.5h-4z"/>
<path fill="#f2c274" d="M517.4 211.96h4v2h-4zM517.4 234.96h4v2h-4zM517.4 247.66h4v1h-4z"/>
</g>
<rect x="504.7" y="116.7" width="19.8" height="2.7" fill="#e23e94"/>
<rect x="506.9" y="117.7" width="3.6" height="0.7" fill="#f58fc0" opacity="0.8"/>
<rect x="518.6" y="117.7" width="3.6" height="0.7" fill="#f58fc0" opacity="0.8"/>
<rect x="504.7" y="272.4" width="19.8" height="4.2" fill="#e23e94"/>
<rect x="508.4" y="272.8" width="2.8" height="3.4" fill="#f2b040" opacity="0.8"/>
<rect x="518.6" y="274.15" width="3.6" height="0.7" fill="#f58fc0" opacity="0.8"/>
<clipPath id="cb7"><rect x="511.8" y="116.7" width="5.6" height="160.1"/></clipPath>
<g clip-path="url(#cb7)"><g filter="url(#vb2)">
<rect x="510.8" y="112.7" width="7.6" height="6.75" fill="#12a550"/>
<rect x="510.8" y="119.4" width="7.6" height="9.65" fill="#12a550"/>
<rect x="510.8" y="129" width="7.6" height="3.4" fill="#a8d33c"/>
<rect x="510.8" y="132.36" width="7.6" height="7.87" fill="#12a550"/>
<rect x="510.8" y="140.18" width="7.6" height="3.4" fill="#f3e535"/>
<rect x="510.8" y="143.53" width="7.6" height="5.64" fill="#12a550"/>
<rect x="510.8" y="149.12" width="7.6" height="3.4" fill="#a8d33c"/>
<rect x="510.8" y="152.48" width="7.6" height="11.23" fill="#12a550"/>
<rect x="510.8" y="163.66" width="7.6" height="4.52" fill="#f8c230"/>
<rect x="510.8" y="168.13" width="7.6" height="8.99" fill="#12a550"/>
<rect x="510.8" y="177.07" width="7.6" height="3.4" fill="#a8d33c"/>
<rect x="510.8" y="180.42" width="7.6" height="19.05" fill="#12a550"/>
<rect x="510.8" y="199.43" width="7.6" height="4.52" fill="#a8d33c"/>
<rect x="510.8" y="203.9" width="7.6" height="13.46" fill="#12a550"/>
<rect x="510.8" y="217.31" width="7.6" height="6.76" fill="#1ba4e4"/>
<rect x="510.8" y="224.02" width="7.6" height="2.29" fill="#1666c9"/>
<rect x="510.8" y="226.25" width="7.6" height="5.64" fill="#1ba4e4"/>
<rect x="510.8" y="231.84" width="7.6" height="21.29" fill="#12a550"/>
<rect x="510.8" y="253.08" width="7.6" height="3.4" fill="#a8d33c"/>
<rect x="510.8" y="256.43" width="7.6" height="3.4" fill="#f3e535"/>
<rect x="510.8" y="259.79" width="7.6" height="6.76" fill="#12a550"/>
<rect x="510.8" y="266.49" width="7.6" height="5.64" fill="#a8d33c"/>
<rect x="510.8" y="272.08" width="7.6" height="0.37" fill="#12a550"/>
<rect x="510.8" y="272.4" width="7.6" height="4.45" fill="#12a550"/>
<rect x="510.8" y="276.8" width="7.6" height="4" fill="#12a550"/>
<path fill="#a8d33c" opacity="0.68" d="M510.8 120.99h7.6v0.7h-7.6zM510.8 124.79h7.6v0.8h-7.6zM510.8 133.92h7.6v0.7h-7.6zM510.8 139.03h7.6v0.7h-7.6zM510.8 145.03h7.6v1.2h-7.6zM510.8 153.5h7.6v1h-7.6zM510.8 157.43h7.6v1h-7.6zM510.8 160.64h7.6v0.8h-7.6zM510.8 173.15h7.6v1.2h-7.6zM510.8 182.17h7.6v1h-7.6zM510.8 189.33h7.6v0.7h-7.6zM510.8 216.04h7.6v0.8h-7.6zM510.8 236.33h7.6v0.6h-7.6zM510.8 243.59h7.6v1.2h-7.6zM510.8 258.09h7.6v0.8h-7.6zM510.8 263.56h7.6v0.6h-7.6zM510.8 267.48h7.6v0.7h-7.6zM510.8 269.53h7.6v0.7h-7.6zM510.8 273.43h7.6v0.8h-7.6z"/>
<path fill="#3fb64a" opacity="0.68" d="M510.8 127.55h7.6v0.8h-7.6zM510.8 135.95h7.6v0.7h-7.6zM510.8 141.6h7.6v1h-7.6zM510.8 148.19h7.6v0.6h-7.6zM510.8 150.31h7.6v0.7h-7.6zM510.8 162.73h7.6v0.6h-7.6zM510.8 165.06h7.6v0.6h-7.6zM510.8 169.3h7.6v0.8h-7.6zM510.8 175.71h7.6v1.2h-7.6zM510.8 186.1h7.6v1.2h-7.6zM510.8 191.55h7.6v0.8h-7.6zM510.8 198.11h7.6v0.8h-7.6zM510.8 205.28h7.6v1h-7.6zM510.8 209.31h7.6v1h-7.6zM510.8 213.62h7.6v0.8h-7.6zM510.8 233.78h7.6v0.8h-7.6zM510.8 240.04h7.6v0.7h-7.6zM510.8 261.05h7.6v0.8h-7.6z"/>
<path fill="#12a550" opacity="0.68" d="M510.8 130.34h7.6v0.7h-7.6zM510.8 201.06h7.6v1.2h-7.6z"/>
<path fill="#f3e535" opacity="0.68" d="M510.8 178.79h7.6v1.2h-7.6zM510.8 195.44h7.6v0.6h-7.6zM510.8 248.01h7.6v1.2h-7.6zM510.8 254.16h7.6v0.8h-7.6z"/>
<path fill="#0fa98c" opacity="0.68" d="M510.8 219.11h7.6v1.2h-7.6zM510.8 227.12h7.6v1h-7.6z"/>
<path fill="#2db4ee" opacity="0.68" d="M510.8 222.7h7.6v1h-7.6zM510.8 230.39h7.6v1h-7.6z"/>
</g>
<rect x="511.8" y="116.7" width="0.45" height="160.1" fill="#0d6b4a" opacity="0.35"/>
<rect x="516.95" y="116.7" width="0.45" height="160.1" fill="#0d6b4a" opacity="0.35"/>
</g>
<g filter="url(#sb)">
<rect x="543.2" y="74.7" width="8.8" height="197.9" fill="#d9eef0" opacity="0.55"/>
<path fill="#d5d8df" d="M540.8 74.86h4v0.6h-4zM540.8 104.06h4v1.5h-4zM540.8 107.16h4v1h-4zM540.8 122.96h4v1.5h-4zM540.8 125.96h4v2h-4zM540.8 133.66h4v0.8h-4zM540.8 139.66h4v0.6h-4zM540.8 140.56h4v0.7h-4zM540.8 142.46h4v1h-4zM540.8 157.06h4v0.7h-4zM540.8 169.36h4v1.2h-4zM540.8 172.16h4v0.5h-4zM540.8 181.96h4v1.2h-4zM540.8 184.46h4v0.6h-4zM540.8 185.56h4v0.7h-4zM540.8 188.46h4v1h-4zM541.17 189.76h3.63v1.2h-3.63zM540.8 205.86h4v0.7h-4zM540.8 225.36h4v0.5h-4zM550.4 84.82h4v1.2h-4zM550.4 90.52h4v1.2h-4zM550.4 92.62h4v1.2h-4zM550.4 97.82h4v1.5h-4zM550.4 126.12h4v1.5h-4zM550.4 142.12h4v1.5h-4zM550.4 146.82h4v1.2h-4zM550.4 150.42h4v0.8h-4zM550.4 181.22h4v1.5h-4zM550.4 203.22h4v0.8h-4zM550.4 252.42h4v2h-4zM550.4 255.82h4v0.5h-4z"/>
<path fill="#abb1be" d="M540.8 77.86h4v0.8h-4zM540.8 160.96h4v1.5h-4zM542.23 162.96h2.57v0.7h-2.57zM540.8 177.56h4v2h-4zM540.8 192.96h4v0.5h-4zM540.8 216.76h4v0.8h-4zM541.96 228.26h2.84v1.2h-2.84zM540.8 240.06h4v0.7h-4zM540.8 243.36h4v0.7h-4zM540.8 264.96h4v2h-4zM541.67 268.16h3.13v0.7h-3.13zM550.4 80.42h4v2h-4zM550.4 83.12h4v0.5h-4zM550.4 117.62h4v1.2h-4zM550.4 169.12h4v1.5h-4zM550.4 201.52h3.62v0.5h-3.62zM550.4 205.62h4v2h-4zM550.4 271.22h4v1.38h-4z"/>
<path fill="#c8ccd5" d="M540.8 79.56h4v1.2h-4zM540.8 91.76h4v0.7h-4zM540.8 101.76h4v0.7h-4zM540.8 110.56h4v0.5h-4zM541.68 118.06h3.12v0.6h-3.12zM540.8 156.26h4v0.5h-4zM540.8 193.96h4v0.7h-4zM540.8 209.76h4v0.6h-4zM540.8 212.76h4v0.8h-4zM540.8 219.16h4v0.7h-4zM540.8 237.66h4v0.8h-4zM540.8 244.56h4v1.2h-4zM540.8 247.36h4v0.8h-4zM540.8 249.36h4v1.5h-4zM540.8 271.66h4v0.94h-4zM550.4 74.82h4v0.5h-4zM550.4 104.32h4v0.5h-4zM550.4 110.42h4v0.5h-4zM550.4 131.52h4v1.2h-4zM550.4 153.82h4v2h-4zM550.4 157.82h4v0.8h-4zM550.4 159.12h4v0.6h-4zM550.4 179.02h4v0.5h-4zM550.4 180.22h3.28v0.5h-3.28zM550.4 186.92h4v0.7h-4zM550.4 239.22h4v0.5h-4zM550.4 245.22h4v2h-4zM550.4 249.62h3.57v1.2h-3.57zM550.4 268.52h3.19v2h-3.19z"/>
<path fill="#9ba2b0" d="M541.85 83.16h2.95v0.6h-2.95zM541.87 114.26h2.93v0.6h-2.93zM540.8 168.46h4v0.6h-4zM540.8 197.06h4v1.5h-4zM540.8 232.66h4v0.6h-4zM540.8 252.46h4v1.5h-4zM540.8 269.56h4v0.5h-4zM550.4 112.12h4v0.5h-4zM550.4 124.92h4v0.7h-4zM550.4 130.22h4v1h-4zM550.4 192.22h4v2h-4zM550.4 212.72h4v2h-4zM550.4 241.32h4v1.5h-4z"/>
<path fill="#f0e07a" d="M540.8 84.06h4v2h-4zM540.8 95.56h4v0.7h-4zM540.8 144.36h4v2h-4zM540.8 191.86h4v0.6h-4zM550.4 115.52h4v0.5h-4zM550.4 122.32h4v1h-4zM550.4 133.62h4v0.5h-4zM550.4 164.72h4v1h-4zM550.4 173.82h4v1.5h-4zM550.4 199.62h4v0.7h-4zM550.4 237.02h4v0.6h-4z"/>
<path fill="#ced1d9" d="M542.1 87.66h2.7v0.8h-2.7zM542.24 88.76h2.56v0.6h-2.56zM540.8 92.76h4v1.2h-4zM540.8 102.76h4v0.6h-4zM540.8 119.16h4v0.6h-4zM540.8 141.56h4v0.6h-4zM540.8 147.56h4v2h-4zM540.8 150.46h4v1.5h-4zM541.27 233.76h3.53v0.7h-3.53zM540.8 259.46h4v2h-4zM550.4 89.22h4v0.8h-4zM550.4 100.02h4v1h-4zM550.4 101.52h4v1.2h-4zM550.4 112.92h4v1h-4zM550.4 120.02h4v0.7h-4zM550.4 128.52h4v1h-4zM550.4 152.12h4v0.5h-4zM550.4 157.02h4v0.5h-4zM550.4 166.42h3v2h-3zM550.4 195.42h4v1h-4zM550.4 215.62h2.53v1.5h-2.53zM550.4 220.32h4v2h-4zM550.4 223.92h4v2h-4zM550.4 233.12h4v0.7h-4z"/>
<path fill="#c2c7d1" d="M540.8 99.46h4v2h-4zM540.8 124.96h4v0.7h-4zM541.26 134.96h3.54v1.5h-3.54zM540.8 165.26h4v2h-4zM540.8 175.06h4v2h-4zM540.8 183.66h4v0.5h-4zM540.8 186.76h4v0.5h-4zM540.8 200.16h4v0.6h-4zM540.8 235.36h4v2h-4zM541.88 241.66h2.92v1h-2.92zM550.4 160.92h2.49v0.6h-2.49zM550.4 183.42h4v0.5h-4zM550.4 189.22h2.47v0.6h-2.47zM550.4 235.02h4v1.5h-4zM550.4 254.72h4v0.6h-4zM550.4 260.32h4v2h-4zM550.4 267.02h4v0.6h-4z"/>
<path fill="#babfcb" d="M540.8 111.96h4v0.7h-4zM540.8 128.46h4v2h-4zM540.8 154.36h4v1.2h-4zM540.8 201.96h4v0.7h-4zM540.8 220.36h4v2h-4zM540.8 223.56h4v1.5h-4zM540.8 256.36h4v0.7h-4zM540.8 263.86h4v0.6h-4zM550.4 76.02h4v1.2h-4zM550.4 94.72h4v0.7h-4zM550.4 105.52h3.45v0.5h-3.45zM550.4 106.52h3.23v0.7h-3.23zM550.4 136.52h4v2h-4zM550.4 177.72h4v0.6h-4zM550.4 184.62h4v0.7h-4zM550.4 208.82h4v0.7h-4zM550.4 257.22h4v0.7h-4zM550.4 263.02h4v0.8h-4z"/>
<path fill="#f2c274" d="M540.8 254.86h4v0.6h-4zM550.4 140.12h2.91v0.8h-2.91zM550.4 229.12h4v0.8h-4z"/>
</g>
<rect x="537.7" y="72" width="19.8" height="2.7" fill="#e23e94"/>
<rect x="539.9" y="73" width="3.6" height="0.7" fill="#f58fc0" opacity="0.8"/>
<rect x="551.6" y="73" width="3.6" height="0.7" fill="#f58fc0" opacity="0.8"/>
<rect x="537.7" y="272.6" width="19.8" height="4" fill="#e23e94"/>
<rect x="541.4" y="273" width="2.8" height="3.2" fill="#f2b040" opacity="0.8"/>
<rect x="551.6" y="274.25" width="3.6" height="0.7" fill="#f58fc0" opacity="0.8"/>
<clipPath id="cb8"><rect x="544.8" y="72" width="5.6" height="204.8"/></clipPath>
<g clip-path="url(#cb8)"><g filter="url(#vb2)">
<rect x="543.8" y="68" width="7.6" height="6.75" fill="#1ba4e4"/>
<rect x="543.8" y="74.7" width="7.6" height="4.51" fill="#1ba4e4"/>
<rect x="543.8" y="79.16" width="7.6" height="5.16" fill="#12a550"/>
<rect x="543.8" y="84.27" width="7.6" height="2.09" fill="#a8d33c"/>
<rect x="543.8" y="86.31" width="7.6" height="4.14" fill="#12a550"/>
<rect x="543.8" y="90.4" width="7.6" height="3.12" fill="#f3e535"/>
<rect x="543.8" y="93.47" width="7.6" height="4.14" fill="#12a550"/>
<rect x="543.8" y="97.55" width="7.6" height="4.14" fill="#a8d33c"/>
<rect x="543.8" y="101.64" width="7.6" height="5.16" fill="#f3e535"/>
<rect x="543.8" y="106.75" width="7.6" height="18.44" fill="#12a550"/>
<rect x="543.8" y="125.14" width="7.6" height="7.2" fill="#a8d33c"/>
<rect x="543.8" y="132.3" width="7.6" height="2.09" fill="#12a550"/>
<rect x="543.8" y="134.34" width="7.6" height="0.77" fill="#f8c230"/>
<rect x="543.8" y="135.06" width="7.6" height="1.27" fill="#f4902d"/>
<rect x="543.8" y="136.28" width="7.6" height="0.77" fill="#f3e535"/>
<rect x="543.8" y="137" width="7.6" height="10.68" fill="#12a550"/>
<rect x="543.8" y="147.62" width="7.6" height="3.12" fill="#a8d33c"/>
<rect x="543.8" y="150.69" width="7.6" height="7.2" fill="#12a550"/>
<rect x="543.8" y="157.84" width="7.6" height="6.18" fill="#f3e535"/>
<rect x="543.8" y="163.97" width="7.6" height="5.38" fill="#12a550"/>
<rect x="543.8" y="169.31" width="7.6" height="3.12" fill="#a8d33c"/>
<rect x="543.8" y="172.37" width="7.6" height="7.2" fill="#12a550"/>
<rect x="543.8" y="179.52" width="7.6" height="2.5" fill="#a8d33c"/>
<rect x="543.8" y="181.98" width="7.6" height="7.82" fill="#12a550"/>
<rect x="543.8" y="189.74" width="7.6" height="4.14" fill="#f3e535"/>
<rect x="543.8" y="193.83" width="7.6" height="4.14" fill="#12a550"/>
<rect x="543.8" y="197.92" width="7.6" height="3.12" fill="#a8d33c"/>
<rect x="543.8" y="200.98" width="7.6" height="8.22" fill="#12a550"/>
<rect x="543.8" y="209.16" width="7.6" height="2.71" fill="#a8d33c"/>
<rect x="543.8" y="211.82" width="7.6" height="2.09" fill="#12a550"/>
<rect x="543.8" y="213.86" width="7.6" height="2.5" fill="#a8d33c"/>
<rect x="543.8" y="216.31" width="7.6" height="10.27" fill="#12a550"/>
<rect x="543.8" y="226.53" width="7.6" height="7.2" fill="#f3e535"/>
<rect x="543.8" y="233.68" width="7.6" height="6.18" fill="#0fa98c"/>
<rect x="543.8" y="239.82" width="7.6" height="7.2" fill="#12a550"/>
<rect x="543.8" y="246.97" width="7.6" height="10.27" fill="#1ba4e4"/>
<rect x="543.8" y="257.19" width="7.6" height="3.12" fill="#1666c9"/>
<rect x="543.8" y="260.25" width="7.6" height="12.31" fill="#12a550"/>
<rect x="543.8" y="272.51" width="7.6" height="0.14" fill="#12a550"/>
<rect x="543.8" y="272.6" width="7.6" height="4.25" fill="#12a550"/>
<rect x="543.8" y="276.8" width="7.6" height="4" fill="#12a550"/>
<path fill="#0fa98c" opacity="0.68" d="M543.8 73.21h7.6v1h-7.6z"/>
<path fill="#2db4ee" opacity="0.68" d="M543.8 76.23h7.6v1h-7.6zM543.8 248.42h7.6v1h-7.6zM543.8 250.63h7.6v1h-7.6zM543.8 254.49h7.6v1h-7.6z"/>
<path fill="#a8d33c" opacity="0.68" d="M543.8 80.13h7.6v0.8h-7.6zM543.8 87.71h7.6v1.2h-7.6zM543.8 92.23h7.6v1.2h-7.6zM543.8 94.31h7.6v0.7h-7.6zM543.8 108.02h7.6v0.6h-7.6zM543.8 111.74h7.6v1h-7.6zM543.8 116.29h7.6v0.7h-7.6zM543.8 119.81h7.6v0.8h-7.6zM543.8 127.05h7.6v0.6h-7.6zM543.8 129.4h7.6v0.7h-7.6zM543.8 144.98h7.6v0.7h-7.6zM543.8 148.81h7.6v1h-7.6zM543.8 155.59h7.6v0.7h-7.6zM543.8 159.72h7.6v0.6h-7.6zM543.8 165.66h7.6v0.7h-7.6zM543.8 171.29h7.6v0.6h-7.6zM543.8 183.5h7.6v0.6h-7.6zM543.8 197.05h7.6v0.7h-7.6zM543.8 217.81h7.6v1.2h-7.6zM543.8 222.45h7.6v0.6h-7.6zM543.8 234.74h7.6v0.6h-7.6zM543.8 241.56h7.6v0.7h-7.6zM543.8 244.9h7.6v0.8h-7.6zM543.8 273.46h7.6v1.2h-7.6z"/>
<path fill="#3fb64a" opacity="0.68" d="M543.8 96.58h7.6v0.7h-7.6zM543.8 121.93h7.6v0.8h-7.6zM543.8 142.09h7.6v1h-7.6zM543.8 173.5h7.6v1.2h-7.6zM543.8 177.85h7.6v1h-7.6zM543.8 186.04h7.6v0.8h-7.6zM543.8 195.11h7.6v0.7h-7.6zM543.8 202.16h7.6v0.7h-7.6zM543.8 204.46h7.6v0.6h-7.6zM543.8 207.52h7.6v0.8h-7.6zM543.8 225.23h7.6v0.7h-7.6zM543.8 232.76h7.6v1h-7.6zM543.8 261.81h7.6v1.2h-7.6zM543.8 266.44h7.6v1h-7.6zM543.8 269.85h7.6v0.6h-7.6z"/>
<path fill="#12a550" opacity="0.68" d="M543.8 98.6h7.6v0.7h-7.6zM543.8 102.72h7.6v1.2h-7.6zM543.8 162.8h7.6v0.8h-7.6zM543.8 180.51h7.6v0.7h-7.6zM543.8 191.2h7.6v1.2h-7.6zM543.8 199.26h7.6v0.8h-7.6zM543.8 229.91h7.6v0.8h-7.6z"/>
<path fill="#f3e535" opacity="0.68" d="M543.8 138.84h7.6v0.6h-7.6zM543.8 151.75h7.6v1.2h-7.6zM543.8 210.71h7.6v0.7h-7.6zM543.8 215.45h7.6v0.8h-7.6zM543.8 220.36h7.6v0.7h-7.6zM543.8 227.92h7.6v0.7h-7.6zM543.8 237.16h7.6v1h-7.6z"/>
</g>
<rect x="544.8" y="72" width="0.45" height="204.8" fill="#0d6b4a" opacity="0.35"/>
<rect x="549.95" y="72" width="0.45" height="204.8" fill="#0d6b4a" opacity="0.35"/>
</g>
<g filter="url(#sb)">
<rect x="576.6" y="55.7" width="8.8" height="214.9" fill="#d9eef0" opacity="0.55"/>
<path fill="#babfcb" d="M574.2 56.04h4v2h-4zM574.2 80.14h4v0.6h-4zM574.2 116.04h4v0.7h-4zM574.2 129.14h4v0.6h-4zM574.2 131.94h4v1.2h-4zM574.2 134.74h4v1.2h-4zM575.04 153.24h3.16v1h-3.16zM575.25 173.54h2.95v1.2h-2.95zM574.2 207.64h4v1.2h-4zM575.1 211.74h3.1v1h-3.1zM574.2 229.84h4v0.7h-4zM574.2 237.84h4v1h-4zM574.2 252.94h4v1.5h-4zM583.8 90.59h4v1h-4zM583.8 114.49h4v0.8h-4zM583.8 123.09h4v0.7h-4zM583.8 124.69h2.84v1.5h-2.84zM583.8 126.69h4v0.8h-4zM583.8 147.79h4v0.7h-4zM583.8 172.19h4v0.5h-4zM583.8 179.59h4v0.8h-4zM583.8 180.89h4v0.5h-4zM583.8 182.59h4v0.7h-4zM583.8 184.49h4v1h-4zM583.8 229.09h4v0.5h-4zM583.8 240.39h4v2h-4z"/>
<path fill="#c2c7d1" d="M574.2 61.24h4v1h-4zM575.36 65.84h2.84v1h-2.84zM574.2 67.54h4v0.5h-4zM574.2 95.24h4v1.2h-4zM575.41 175.24h2.79v1h-2.79zM574.2 181.94h4v0.8h-4zM574.2 196.44h4v0.8h-4zM574.2 239.74h4v0.6h-4zM574.2 246.94h4v0.7h-4zM574.2 247.94h4v0.8h-4zM583.8 70.69h4v1.5h-4zM583.8 95.49h4v1.5h-4zM583.8 110.89h3.68v2h-3.68zM583.8 154.79h4v0.6h-4zM583.8 183.59h2.7v0.6h-2.7zM583.8 185.99h4v1h-4zM583.8 192.19h4v1h-4zM583.8 198.49h4v0.5h-4zM583.8 202.79h4v0.7h-4zM583.8 214.49h4v0.8h-4zM583.8 222.89h4v0.8h-4zM583.8 233.19h4v0.8h-4zM583.8 235.59h4v1.2h-4zM583.8 237.49h3.53v0.5h-3.53z"/>
<path fill="#d5d8df" d="M574.2 63.14h4v2h-4zM574.2 89.24h4v0.8h-4zM574.2 102.94h4v2h-4zM574.2 183.24h4v1.5h-4zM574.76 185.24h3.44v0.6h-3.44zM574.48 198.84h3.72v0.5h-3.72zM574.99 261.14h3.21v1.2h-3.21zM574.95 263.94h3.25v1.5h-3.25zM574.91 265.94h3.29v0.6h-3.29zM583.8 72.49h2.57v2h-2.57zM583.8 107.99h4v0.5h-4zM583.8 130.69h4v0.5h-4zM583.8 133.59h4v0.5h-4zM583.8 135.69h4v1.5h-4zM583.8 138.39h4v0.7h-4zM583.8 139.99h4v0.7h-4zM583.8 177.79h4v1.5h-4zM583.8 194.39h3v0.5h-3zM583.8 217.69h4v0.6h-4zM583.8 247.09h4v2h-4zM583.8 268.29h4v0.7h-4z"/>
<path fill="#9ba2b0" d="M575.6 68.74h2.6v1.5h-2.6zM575.24 71.84h2.96v0.7h-2.96zM574.2 105.44h4v1h-4zM574.2 110.34h4v0.7h-4zM574.2 125.14h4v0.6h-4zM574.2 126.04h4v0.7h-4zM574.2 136.24h4v0.5h-4zM574.2 140.04h4v2h-4zM575.29 171.34h2.91v1h-2.91zM574.2 193.34h4v0.7h-4zM574.2 215.94h4v0.7h-4zM574.2 243.54h4v1h-4zM574.2 257.64h4v0.7h-4zM574.2 267.04h4v0.7h-4zM583.8 66.59h4v0.7h-4zM583.8 84.79h4v0.7h-4zM583.8 98.59h4v0.6h-4zM583.8 106.19h4v1.5h-4zM583.8 121.39h3.08v0.8h-3.08zM583.8 132.39h4v0.5h-4zM583.8 158.59h2.98v0.7h-2.98zM583.8 199.69h4v0.5h-4zM583.8 201.39h3.47v0.7h-3.47zM583.8 207.49h4v1.2h-4zM583.8 221.49h4v0.7h-4zM583.8 269.69h4v0.91h-4z"/>
<path fill="#ced1d9" d="M574.83 74.94h3.37v2h-3.37zM574.2 82.34h4v2h-4zM574.2 84.84h4v2h-4zM574.2 97.64h4v1.2h-4zM574.2 168.14h4v2h-4zM575.79 180.94h2.41v0.5h-2.41zM574.2 189.04h4v1.2h-4zM583.8 68.89h4v0.6h-4zM583.8 78.59h4v0.7h-4zM583.8 82.49h4v0.7h-4zM583.8 100.39h4v0.6h-4zM583.8 101.49h3.53v1.5h-3.53zM583.8 143.09h4v0.5h-4zM583.8 160.49h4v1.2h-4zM583.8 163.29h4v1.2h-4zM583.8 190.49h4v0.5h-4zM583.8 196.49h2.84v1.5h-2.84zM583.8 226.99h4v0.6h-4zM583.8 228.09h4v0.5h-4zM583.8 263.99h2.81v1.5h-2.81zM583.8 266.19h4v1.2h-4z"/>
<path fill="#c8ccd5" d="M574.2 93.24h4v1.5h-4zM574.2 111.74h4v0.5h-4zM574.2 112.94h4v0.7h-4zM574.2 118.64h4v0.7h-4zM574.2 120.74h4v1.2h-4zM574.2 144.44h4v0.5h-4zM574.2 151.24h4v1.5h-4zM574.2 202.54h4v1h-4zM574.2 218.24h4v1h-4zM575.71 221.64h2.49v1.5h-2.49zM575.34 224.34h2.86v0.7h-2.86zM574.6 268.94h3.6v1.66h-3.6zM583.8 60.89h4v0.7h-4zM583.8 75.39h4v2h-4zM583.8 80.49h3.17v1.5h-3.17zM583.8 88.69h4v0.7h-4zM583.8 153.29h4v0.8h-4zM583.8 175.09h4v2h-4zM583.8 187.29h4v2h-4zM583.8 205.09h2.58v0.8h-2.58zM583.8 211.09h4v1h-4zM583.8 212.79h3.34v0.5h-3.34zM583.8 224.89h4v1.2h-4zM583.8 230.79h4v1.5h-4zM583.8 256.19h4v1h-4zM583.8 260.39h4v2h-4z"/>
<path fill="#abb1be" d="M574.2 99.54h4v1h-4zM575.44 119.64h2.76v0.8h-2.76zM575.14 130.94h3.06v0.7h-3.06zM574.2 155.44h4v1h-4zM574.2 158.84h4v1.2h-4zM574.2 160.34h4v0.8h-4zM574.2 191.14h4v0.6h-4zM574.2 226.64h4v0.8h-4zM574.2 232.94h4v1h-4zM583.8 55.89h2.64v2h-2.64zM583.8 58.79h4v1.2h-4zM583.8 62.49h4v1.2h-4zM583.8 64.39h4v1h-4zM583.8 141.39h4v1.2h-4zM583.8 143.89h4v0.7h-4zM583.8 144.89h4v0.5h-4zM583.8 149.39h4v0.7h-4zM583.8 165.19h4v0.8h-4zM583.8 169.19h4v0.8h-4zM583.8 170.69h4v0.8h-4z"/>
<path fill="#f0e07a" d="M574.2 108.84h4v0.6h-4zM574.2 117.64h4v0.7h-4zM574.2 146.14h4v1h-4zM574.2 149.54h4v0.5h-4zM574.2 163.54h4v1h-4zM575.42 165.24h2.78v0.5h-2.78zM574.2 177.14h4v0.6h-4zM574.2 205.94h4v0.8h-4zM574.2 209.14h4v1h-4zM574.2 250.34h4v1h-4zM583.8 92.29h4v2h-4zM583.8 118.49h3.32v2h-3.32zM583.8 243.99h4v1.5h-4zM583.8 251.49h3.01v1.5h-3.01z"/>
<path fill="#f2c274" d="M574.2 138.34h4v1.2h-4zM574.2 236.34h4v1.2h-4zM574.2 259.54h4v0.7h-4z"/>
</g>
<rect x="571.1" y="52.6" width="19.8" height="3.1" fill="#e23e94"/>
<rect x="573.3" y="53.8" width="3.6" height="0.7" fill="#f58fc0" opacity="0.8"/>
<rect x="584.4" y="53" width="3.2" height="2.3" fill="#f2b040" opacity="0.85"/>
<rect x="571.1" y="270.6" width="19.8" height="6.2" fill="#e23e94"/>
<rect x="573.3" y="273.35" width="3.6" height="0.7" fill="#f58fc0" opacity="0.8"/>
<rect x="585" y="273.35" width="3.6" height="0.7" fill="#f58fc0" opacity="0.8"/>
<clipPath id="cb9"><rect x="578.2" y="52.6" width="5.6" height="224.2"/></clipPath>
<g clip-path="url(#cb9)"><g filter="url(#vb2)">
<rect x="577.2" y="48.6" width="7.6" height="7.15" fill="#1ba4e4"/>
<rect x="577.2" y="55.7" width="7.6" height="5.12" fill="#f3e535"/>
<rect x="577.2" y="60.77" width="7.6" height="5.16" fill="#a8d33c"/>
<rect x="577.2" y="65.87" width="7.6" height="8.22" fill="#12a550"/>
<rect x="577.2" y="74.05" width="7.6" height="4.14" fill="#f8c230"/>
<rect x="577.2" y="78.14" width="7.6" height="4.14" fill="#12a550"/>
<rect x="577.2" y="82.22" width="7.6" height="4.14" fill="#a8d33c"/>
<rect x="577.2" y="86.31" width="7.6" height="9.25" fill="#f3e535"/>
<rect x="577.2" y="95.51" width="7.6" height="9.25" fill="#12a550"/>
<rect x="577.2" y="104.71" width="7.6" height="5.16" fill="#f3e535"/>
<rect x="577.2" y="109.82" width="7.6" height="5.16" fill="#12a550"/>
<rect x="577.2" y="114.92" width="7.6" height="5.16" fill="#f3e535"/>
<rect x="577.2" y="120.03" width="7.6" height="6.18" fill="#a8d33c"/>
<rect x="577.2" y="126.16" width="7.6" height="0.72" fill="#f4902d"/>
<rect x="577.2" y="126.84" width="7.6" height="1.77" fill="#b5522a"/>
<rect x="577.2" y="128.56" width="7.6" height="0.72" fill="#f8c230"/>
<rect x="577.2" y="129.23" width="7.6" height="5.16" fill="#f3e535"/>
<rect x="577.2" y="134.34" width="7.6" height="11.29" fill="#12a550"/>
<rect x="577.2" y="145.58" width="7.6" height="10.27" fill="#0fa98c"/>
<rect x="577.2" y="155.8" width="7.6" height="9.25" fill="#1ba4e4"/>
<rect x="577.2" y="165" width="7.6" height="0.27" fill="#1ba4e4"/>
<rect x="577.2" y="165.22" width="7.6" height="12.31" fill="#12a550"/>
<rect x="577.2" y="177.48" width="7.6" height="6.18" fill="#f3e535"/>
<rect x="577.2" y="183.61" width="7.6" height="8.22" fill="#12a550"/>
<rect x="577.2" y="191.79" width="7.6" height="0.72" fill="#f4902d"/>
<rect x="577.2" y="192.46" width="7.6" height="1.77" fill="#ee3f2e"/>
<rect x="577.2" y="194.18" width="7.6" height="0.72" fill="#f8c230"/>
<rect x="577.2" y="194.85" width="7.6" height="4.14" fill="#f3e535"/>
<rect x="577.2" y="198.94" width="7.6" height="18.44" fill="#12a550"/>
<rect x="577.2" y="217.33" width="7.6" height="5.16" fill="#a8d33c"/>
<rect x="577.2" y="222.44" width="7.6" height="4.14" fill="#12a550"/>
<rect x="577.2" y="226.53" width="7.6" height="7.2" fill="#f3e535"/>
<rect x="577.2" y="233.68" width="7.6" height="7.2" fill="#12a550"/>
<rect x="577.2" y="240.84" width="7.6" height="4.14" fill="#a8d33c"/>
<rect x="577.2" y="244.92" width="7.6" height="8.22" fill="#12a550"/>
<rect x="577.2" y="253.1" width="7.6" height="3.12" fill="#f8c230"/>
<rect x="577.2" y="256.16" width="7.6" height="2.09" fill="#f3e535"/>
<rect x="577.2" y="258.21" width="7.6" height="1.15" fill="#f8c230"/>
<rect x="577.2" y="259.31" width="7.6" height="1.93" fill="#f4902d"/>
<rect x="577.2" y="261.19" width="7.6" height="1.15" fill="#f3e535"/>
<rect x="577.2" y="262.3" width="7.6" height="4.14" fill="#12a550"/>
<rect x="577.2" y="266.38" width="7.6" height="4.14" fill="#a8d33c"/>
<rect x="577.2" y="270.47" width="7.6" height="0.18" fill="#12a550"/>
<rect x="577.2" y="270.6" width="7.6" height="6.25" fill="#1ba4e4"/>
<rect x="577.2" y="276.8" width="7.6" height="4" fill="#1ba4e4"/>
<path fill="#2db4ee" opacity="0.68" d="M577.2 54.3h7.6v0.6h-7.6zM577.2 157.56h7.6v0.8h-7.6zM577.2 161.09h7.6v1.2h-7.6zM577.2 271.79h7.6v1h-7.6z"/>
<path fill="#f3e535" opacity="0.68" d="M577.2 57.16h7.6v0.6h-7.6zM577.2 92.26h7.6v0.8h-7.6zM577.2 102.73h7.6v1h-7.6zM577.2 135.57h7.6v0.7h-7.6zM577.2 149.72h7.6v0.7h-7.6zM577.2 189.21h7.6v0.6h-7.6zM577.2 253.92h7.6v0.6h-7.6z"/>
<path fill="#12a550" opacity="0.68" d="M577.2 61.78h7.6v0.6h-7.6zM577.2 63.96h7.6v1.2h-7.6zM577.2 75.42h7.6v0.8h-7.6zM577.2 88.09h7.6v0.8h-7.6zM577.2 106.13h7.6v0.6h-7.6zM577.2 116.39h7.6v0.8h-7.6zM577.2 124.41h7.6v1h-7.6zM577.2 196.08h7.6v1h-7.6zM577.2 218.21h7.6v0.7h-7.6z"/>
<path fill="#a8d33c" opacity="0.68" d="M577.2 67.14h7.6v0.6h-7.6zM577.2 70.86h7.6v1h-7.6zM577.2 83.91h7.6v0.7h-7.6zM577.2 99.76h7.6v1h-7.6zM577.2 118.42h7.6v0.8h-7.6zM577.2 139.08h7.6v1.2h-7.6zM577.2 147.47h7.6v0.7h-7.6zM577.2 153.41h7.6v0.8h-7.6zM577.2 169.92h7.6v0.7h-7.6zM577.2 173.59h7.6v0.6h-7.6zM577.2 176.18h7.6v1h-7.6zM577.2 182.46h7.6v0.8h-7.6zM577.2 185.44h7.6v1.2h-7.6zM577.2 204h7.6v1.2h-7.6zM577.2 211.91h7.6v1.2h-7.6zM577.2 216.02h7.6v0.7h-7.6zM577.2 223.89h7.6v0.6h-7.6zM577.2 242.02h7.6v0.7h-7.6zM577.2 247.87h7.6v0.6h-7.6zM577.2 263.95h7.6v0.7h-7.6z"/>
<path fill="#3fb64a" opacity="0.68" d="M577.2 79.84h7.6v0.6h-7.6zM577.2 97.16h7.6v0.6h-7.6zM577.2 110.99h7.6v1.2h-7.6zM577.2 121.67h7.6v0.8h-7.6zM577.2 130.95h7.6v0.7h-7.6zM577.2 143.3h7.6v0.6h-7.6zM577.2 166.55h7.6v0.6h-7.6zM577.2 179.34h7.6v0.8h-7.6zM577.2 200.41h7.6v0.8h-7.6zM577.2 208.71h7.6v0.7h-7.6zM577.2 227.74h7.6v1h-7.6zM577.2 231.35h7.6v0.8h-7.6zM577.2 235.67h7.6v0.6h-7.6zM577.2 238.2h7.6v0.6h-7.6zM577.2 245.82h7.6v0.6h-7.6zM577.2 251.72h7.6v0.6h-7.6zM577.2 268.03h7.6v0.6h-7.6z"/>
<path fill="#0fa98c" opacity="0.68" d="M577.2 275.16h7.6v1h-7.6z"/>
</g>
<rect x="578.2" y="52.6" width="0.45" height="224.2" fill="#0d6b4a" opacity="0.35"/>
<rect x="583.35" y="52.6" width="0.45" height="224.2" fill="#0d6b4a" opacity="0.35"/>
</g>
<g filter="url(#sb)">
<rect x="609.6" y="50.5" width="8.8" height="220.1" fill="#d9eef0" opacity="0.55"/>
<path fill="#c2c7d1" d="M607.2 51.62h4v1.5h-4zM608.28 80.72h2.92v1.2h-2.92zM607.2 90.52h4v1h-4zM607.2 93.32h4v0.5h-4zM607.2 102.22h4v0.8h-4zM607.2 110.82h4v0.5h-4zM607.2 122.82h4v0.8h-4zM607.2 134.02h4v0.5h-4zM607.2 180.02h4v0.7h-4zM607.2 208.12h4v1.5h-4zM608.42 241.72h2.78v1.2h-2.78zM607.2 252.42h4v1.2h-4zM607.2 256.82h4v2h-4zM616.8 53.39h4v2h-4zM616.8 74.29h4v1.5h-4zM616.8 79.39h4v1.2h-4zM616.8 96.69h2.68v1.2h-2.68zM616.8 141.09h2.89v0.6h-2.89zM616.8 146.89h4v0.5h-4zM616.8 175.59h4v1.5h-4zM616.8 249.59h4v1.2h-4zM616.8 255.59h4v1h-4z"/>
<path fill="#9ba2b0" d="M607.2 56.32h4v1h-4zM607.2 89.32h4v0.7h-4zM607.2 111.62h4v1h-4zM607.2 126.02h4v0.8h-4zM607.2 159.42h4v0.6h-4zM607.2 168.82h4v2h-4zM607.2 191.32h4v1.2h-4zM607.2 206.72h4v0.7h-4zM607.2 215.82h4v1h-4zM616.8 57.79h4v1.2h-4zM616.8 101.09h4v2h-4zM616.8 105.29h4v2h-4zM616.8 131.59h4v1.5h-4zM616.8 136.29h4v1.2h-4zM616.8 139.39h4v0.8h-4zM616.8 150.59h4v0.5h-4zM616.8 168.69h4v2h-4zM616.8 177.79h4v1.2h-4zM616.8 193.49h3.65v0.5h-3.65zM616.8 206.39h2.75v0.6h-2.75zM616.8 210.39h3.58v1h-3.58zM616.8 257.09h4v0.8h-4zM616.8 266.29h4v2h-4z"/>
<path fill="#babfcb" d="M607.2 59.72h4v1.2h-4zM607.2 61.42h4v0.7h-4zM607.2 88.32h4v0.7h-4zM607.2 95.42h4v0.5h-4zM607.2 108.12h4v2h-4zM607.2 120.62h4v0.6h-4zM607.2 135.72h4v1h-4zM607.61 143.62h3.59v2h-3.59zM607.2 151.02h4v0.8h-4zM607.2 171.72h4v0.7h-4zM607.2 175.02h4v0.8h-4zM607.2 178.22h4v1.5h-4zM607.2 183.02h4v0.5h-4zM607.2 189.02h4v2h-4zM607.2 199.72h4v0.6h-4zM607.2 202.72h4v0.8h-4zM607.2 209.92h4v1.5h-4zM607.2 213.82h4v1.5h-4zM607.2 218.52h4v1h-4zM607.2 227.72h4v0.5h-4zM607.2 247.32h4v0.8h-4zM607.2 268.42h4v2h-4zM616.8 63.59h4v0.8h-4zM616.8 71.49h4v0.6h-4zM616.8 76.49h2.5v0.8h-2.5zM616.8 77.79h4v0.7h-4zM616.8 93.29h4v1h-4zM616.8 111.09h4v2h-4zM616.8 115.49h4v1.2h-4zM616.8 118.89h4v0.5h-4zM616.8 126.89h4v1.5h-4zM616.8 157.99h4v1.5h-4zM616.8 227.09h2.57v2h-2.57z"/>
<path fill="#abb1be" d="M607.2 64.52h4v0.8h-4zM607.2 99.52h4v2h-4zM607.2 131.32h4v1.5h-4zM607.73 162.42h3.47v0.8h-3.47zM607.2 165.62h4v0.8h-4zM607.2 195.72h4v1h-4zM607.2 264.02h4v2h-4zM616.8 51.19h4v1.5h-4zM616.8 72.99h3.58v1h-3.58zM616.8 103.99h2.6v0.8h-2.6zM616.8 129.29h2.42v0.7h-2.42zM616.8 185.39h4v0.8h-4zM616.8 216.79h4v0.8h-4zM616.8 236.79h4v1h-4zM616.8 261.99h4v0.5h-4z"/>
<path fill="#ced1d9" d="M608.42 65.82h2.78v1.5h-2.78zM607.2 83.12h4v1.5h-4zM607.95 115.02h3.25v2h-3.25zM607.2 129.72h4v0.7h-4zM607.2 137.42h4v0.8h-4zM607.2 174.12h4v0.6h-4zM607.2 181.22h4v0.6h-4zM607.2 198.32h4v0.7h-4zM607.2 219.82h4v0.6h-4zM607.2 221.12h4v1h-4zM607.2 224.32h4v1h-4zM607.2 231.42h4v1.5h-4zM607.2 248.62h4v0.6h-4zM616.8 87.89h3.48v0.7h-3.48zM616.8 121.69h4v2h-4zM616.8 142.19h4v1h-4zM616.8 187.09h4v1.2h-4zM616.8 212.99h4v0.8h-4zM616.8 220.79h4v1h-4zM616.8 243.69h4v1h-4zM616.8 247.89h4v0.8h-4z"/>
<path fill="#d5d8df" d="M607.2 68.02h4v0.8h-4zM607.2 72.02h4v0.8h-4zM607.2 97.52h4v0.8h-4zM607.67 127.52h3.53v1.5h-3.53zM607.2 139.42h4v2h-4zM607.2 152.52h4v1.5h-4zM607.2 155.62h4v0.6h-4zM607.2 172.72h4v0.5h-4zM608.63 217.12h2.57v0.5h-2.57zM608.03 223.02h3.17v0.6h-3.17zM607.2 243.42h4v1.5h-4zM607.2 259.32h4v1.5h-4zM616.8 109.69h4v0.5h-4zM616.8 114.29h4v0.7h-4zM616.8 120.29h4v0.5h-4zM616.8 160.69h4v0.8h-4zM616.8 190.69h3.36v1.2h-3.36zM616.8 198.49h4v0.8h-4zM616.8 224.19h4v0.6h-4zM616.8 235.59h2.71v0.7h-2.71zM616.8 238.99h2.75v1.5h-2.75zM616.8 265.09h4v0.7h-4z"/>
<path fill="#c8ccd5" d="M607.2 73.72h4v0.7h-4zM607.2 77.02h4v0.5h-4zM607.2 106.22h4v1h-4zM607.2 141.92h4v1.2h-4zM607.2 146.32h4v1.5h-4zM607.2 236.42h4v1.2h-4zM607.2 240.02h4v0.8h-4zM616.8 56.29h4v0.8h-4zM616.8 90.99h4v2h-4zM616.8 98.19h2.72v0.5h-2.72zM616.8 117.19h4v0.5h-4zM616.8 138.39h4v0.5h-4zM616.8 143.69h4v0.8h-4zM616.8 154.29h3.27v0.5h-3.27zM616.8 173.09h4v2h-4zM616.8 181.39h4v0.8h-4zM616.8 197.19h3.16v0.6h-3.16zM616.8 208.59h4v1.5h-4zM616.8 214.99h2.49v0.6h-2.49zM616.8 225.99h2.72v0.6h-2.72zM616.8 229.39h4v1.5h-4zM616.8 253.19h4v0.8h-4zM616.8 264.09h4v0.5h-4z"/>
<path fill="#f0e07a" d="M607.2 75.62h4v0.7h-4zM607.2 92.42h4v0.6h-4zM607.2 117.72h4v0.5h-4zM607.2 161.62h4v0.5h-4zM607.5 186.72h3.7v2h-3.7zM616.8 62.19h4v0.7h-4zM616.8 66.79h4v1.5h-4zM616.8 82.99h4v0.7h-4zM616.8 86.89h2.69v0.7h-2.69zM616.8 260.29h4v0.5h-4zM616.8 269.49h4v0.6h-4z"/>
<path fill="#f2c274" d="M607.2 87.02h4v0.6h-4zM607.2 234.12h4v2h-4zM616.8 164.69h4v0.8h-4zM616.8 201.69h4v1.5h-4zM616.8 233.29h4v0.7h-4z"/>
</g>
<rect x="604.1" y="45.4" width="19.8" height="5.1" fill="#e23e94"/>
<rect x="606.3" y="47.6" width="3.6" height="0.7" fill="#f58fc0" opacity="0.8"/>
<rect x="618" y="47.6" width="3.6" height="0.7" fill="#f58fc0" opacity="0.8"/>
<rect x="604.1" y="270.6" width="19.8" height="6.2" fill="#e23e94"/>
<rect x="606.3" y="273.35" width="3.6" height="0.7" fill="#f58fc0" opacity="0.8"/>
<rect x="618" y="273.35" width="3.6" height="0.7" fill="#f58fc0" opacity="0.8"/>
<clipPath id="cb10"><rect x="611.2" y="45.4" width="5.6" height="231.4"/></clipPath>
<g clip-path="url(#cb10)"><g filter="url(#vb2)">
<rect x="610.2" y="41.4" width="7.6" height="9.15" fill="#f4902d"/>
<rect x="610.2" y="50.5" width="7.6" height="1.12" fill="#f4902d"/>
<rect x="610.2" y="51.57" width="7.6" height="6.18" fill="#1ba4e4"/>
<rect x="610.2" y="57.7" width="7.6" height="7.2" fill="#12a550"/>
<rect x="610.2" y="64.85" width="7.6" height="6.18" fill="#f3e535"/>
<rect x="610.2" y="70.98" width="7.6" height="6.18" fill="#12a550"/>
<rect x="610.2" y="77.12" width="7.6" height="4.14" fill="#f3e535"/>
<rect x="610.2" y="81.2" width="7.6" height="3.12" fill="#12a550"/>
<rect x="610.2" y="84.27" width="7.6" height="6.18" fill="#f3e535"/>
<rect x="610.2" y="90.4" width="7.6" height="5.16" fill="#12a550"/>
<rect x="610.2" y="95.51" width="7.6" height="5.16" fill="#a8d33c"/>
<rect x="610.2" y="100.62" width="7.6" height="5.16" fill="#a8d33c"/>
<rect x="610.2" y="105.73" width="7.6" height="36.84" fill="#12a550"/>
<rect x="610.2" y="142.51" width="7.6" height="4.14" fill="#a8d33c"/>
<rect x="610.2" y="146.6" width="7.6" height="11.29" fill="#12a550"/>
<rect x="610.2" y="157.84" width="7.6" height="3.12" fill="#a8d33c"/>
<rect x="610.2" y="160.91" width="7.6" height="4.14" fill="#12a550"/>
<rect x="610.2" y="165" width="7.6" height="2.32" fill="#12a550"/>
<rect x="610.2" y="167.26" width="7.6" height="3.12" fill="#a8d33c"/>
<rect x="610.2" y="170.33" width="7.6" height="3.12" fill="#12a550"/>
<rect x="610.2" y="173.39" width="7.6" height="3.12" fill="#a8d33c"/>
<rect x="610.2" y="176.46" width="7.6" height="3.12" fill="#12a550"/>
<rect x="610.2" y="179.52" width="7.6" height="3.12" fill="#a8d33c"/>
<rect x="610.2" y="182.59" width="7.6" height="3.12" fill="#12a550"/>
<rect x="610.2" y="185.66" width="7.6" height="3.12" fill="#a8d33c"/>
<rect x="610.2" y="188.72" width="7.6" height="5.16" fill="#12a550"/>
<rect x="610.2" y="193.83" width="7.6" height="7.2" fill="#f3e535"/>
<rect x="610.2" y="200.98" width="7.6" height="4.14" fill="#12a550"/>
<rect x="610.2" y="205.07" width="7.6" height="1.15" fill="#f8c230"/>
<rect x="610.2" y="206.18" width="7.6" height="1.93" fill="#f4902d"/>
<rect x="610.2" y="208.06" width="7.6" height="1.15" fill="#f3e535"/>
<rect x="610.2" y="209.16" width="7.6" height="6.18" fill="#12a550"/>
<rect x="610.2" y="215.29" width="7.6" height="8.22" fill="#1ba4e4"/>
<rect x="610.2" y="223.47" width="7.6" height="3.12" fill="#1666c9"/>
<rect x="610.2" y="226.53" width="7.6" height="5.16" fill="#0fa98c"/>
<rect x="610.2" y="231.64" width="7.6" height="9.25" fill="#12a550"/>
<rect x="610.2" y="240.84" width="7.6" height="2.09" fill="#b5522a"/>
<rect x="610.2" y="242.88" width="7.6" height="2.09" fill="#f4902d"/>
<rect x="610.2" y="244.92" width="7.6" height="4.14" fill="#12a550"/>
<rect x="610.2" y="249.01" width="7.6" height="4.14" fill="#a8d33c"/>
<rect x="610.2" y="253.1" width="7.6" height="4.14" fill="#f3e535"/>
<rect x="610.2" y="257.19" width="7.6" height="6.18" fill="#f8c230"/>
<rect x="610.2" y="263.32" width="7.6" height="7.2" fill="#12a550"/>
<rect x="610.2" y="270.47" width="7.6" height="0.18" fill="#12a550"/>
<rect x="610.2" y="270.6" width="7.6" height="6.25" fill="#1ba4e4"/>
<rect x="610.2" y="276.8" width="7.6" height="4" fill="#1ba4e4"/>
<path fill="#0fa98c" opacity="0.68" d="M610.2 52.64h7.6v0.7h-7.6zM610.2 55.23h7.6v0.8h-7.6zM610.2 216.72h7.6v0.6h-7.6zM610.2 220.42h7.6v1h-7.6zM610.2 271.47h7.6v1.2h-7.6z"/>
<path fill="#3fb64a" opacity="0.68" d="M610.2 58.75h7.6v0.6h-7.6zM610.2 74.88h7.6v0.8h-7.6zM610.2 78.13h7.6v1.2h-7.6zM610.2 82.61h7.6v1.2h-7.6zM610.2 91.45h7.6v0.6h-7.6zM610.2 109.66h7.6v1.2h-7.6zM610.2 126.21h7.6v0.6h-7.6zM610.2 136.52h7.6v0.8h-7.6zM610.2 140.61h7.6v0.7h-7.6zM610.2 148.16h7.6v1h-7.6zM610.2 152.28h7.6v0.6h-7.6zM610.2 155.78h7.6v1.2h-7.6zM610.2 210.72h7.6v0.7h-7.6zM610.2 213.16h7.6v0.8h-7.6zM610.2 227.89h7.6v0.8h-7.6zM610.2 258.4h7.6v1.2h-7.6z"/>
<path fill="#a8d33c" opacity="0.68" d="M610.2 61.48h7.6v0.7h-7.6zM610.2 63.97h7.6v1.2h-7.6zM610.2 85.54h7.6v0.7h-7.6zM610.2 106.79h7.6v0.7h-7.6zM610.2 112.77h7.6v1.2h-7.6zM610.2 116.81h7.6v0.8h-7.6zM610.2 119.36h7.6v0.8h-7.6zM610.2 122.11h7.6v0.6h-7.6zM610.2 129.54h7.6v0.7h-7.6zM610.2 133.38h7.6v1h-7.6zM610.2 143.7h7.6v0.7h-7.6zM610.2 171.21h7.6v0.8h-7.6zM610.2 177.3h7.6v1.2h-7.6zM610.2 180.98h7.6v0.6h-7.6zM610.2 184.28h7.6v0.6h-7.6zM610.2 187.03h7.6v1.2h-7.6zM610.2 198.21h7.6v1h-7.6zM610.2 230.82h7.6v1.2h-7.6zM610.2 233.19h7.6v1h-7.6zM610.2 246.56h7.6v1h-7.6zM610.2 269.03h7.6v1h-7.6z"/>
<path fill="#f3e535" opacity="0.68" d="M610.2 66.61h7.6v1h-7.6zM610.2 72.25h7.6v1.2h-7.6zM610.2 88.88h7.6v0.6h-7.6zM610.2 93.89h7.6v0.6h-7.6zM610.2 96.84h7.6v1.2h-7.6zM610.2 102.24h7.6v0.6h-7.6zM610.2 159.63h7.6v0.6h-7.6zM610.2 161.73h7.6v1.2h-7.6zM610.2 175.09h7.6v1.2h-7.6zM610.2 190.62h7.6v0.7h-7.6zM610.2 202.57h7.6v0.7h-7.6zM610.2 236.29h7.6v1h-7.6zM610.2 260.87h7.6v0.8h-7.6zM610.2 264.44h7.6v1.2h-7.6z"/>
<path fill="#12a550" opacity="0.68" d="M610.2 168.09h7.6v0.8h-7.6zM610.2 195.03h7.6v0.6h-7.6zM610.2 250.26h7.6v0.6h-7.6zM610.2 254.96h7.6v1.2h-7.6z"/>
<path fill="#2db4ee" opacity="0.68" d="M610.2 275.6h7.6v0.8h-7.6z"/>
</g>
<rect x="611.2" y="45.4" width="0.45" height="231.4" fill="#0d6b4a" opacity="0.35"/>
<rect x="616.35" y="45.4" width="0.45" height="231.4" fill="#0d6b4a" opacity="0.35"/>
</g>
<g filter="url(#sb)">
<rect x="314.1" y="519.6" width="8.8" height="228.6" fill="#d9eef0" opacity="0.55"/>
<path fill="#abb1be" d="M311.7 520.59h4v0.8h-4zM311.7 533.49h4v2h-4zM311.7 576.69h4v1.2h-4zM311.7 591.99h4v0.6h-4zM311.7 597.59h4v1.2h-4zM311.7 671.69h4v1.5h-4zM311.7 704.59h4v0.8h-4zM311.7 731.89h4v1.2h-4zM311.7 736.29h4v1.5h-4zM321.3 522.44h4v0.8h-4zM321.3 538.64h4v1h-4zM321.3 540.54h4v0.5h-4zM321.3 541.34h4v0.6h-4zM321.3 583.14h4v1.5h-4zM321.3 594.14h4v0.7h-4zM321.3 612.84h4v0.8h-4zM321.3 631.04h3.37v0.7h-3.37zM321.3 636.54h4v0.8h-4zM321.3 656.34h4v1.2h-4zM321.3 686.34h4v0.6h-4zM321.3 746.34h4v1.5h-4z"/>
<path fill="#c8ccd5" d="M311.7 523.79h4v1.5h-4zM311.7 553.39h4v0.5h-4zM311.7 606.19h4v1.5h-4zM311.7 638.99h4v1.5h-4zM311.7 683.89h4v0.6h-4zM311.7 722.49h4v0.7h-4zM311.7 738.49h4v0.6h-4zM311.7 747.69h4v0.51h-4zM321.3 561.74h3.63v2h-3.63zM321.3 589.94h4v1.5h-4zM321.3 603.54h4v2h-4zM321.3 626.04h4v1.2h-4zM321.3 650.54h4v0.6h-4zM321.3 664.14h4v1.2h-4zM321.3 690.14h4v0.8h-4zM321.3 702.74h4v1.2h-4zM321.3 705.14h4v1.5h-4zM321.3 707.84h4v0.8h-4zM321.3 716.54h4v1.2h-4zM321.3 718.94h4v0.6h-4zM321.3 720.04h4v1h-4zM321.3 727.24h4v0.7h-4zM321.3 741.14h4v0.5h-4zM321.3 744.04h4v2h-4z"/>
<path fill="#d5d8df" d="M311.7 527.69h4v0.8h-4zM311.7 561.29h4v1h-4zM311.7 593.79h4v0.6h-4zM311.7 620.39h4v2h-4zM311.7 623.29h4v0.8h-4zM311.7 635.39h4v0.7h-4zM311.7 651.09h4v0.8h-4zM311.7 668.49h4v0.8h-4zM311.7 682.79h4v0.6h-4zM312.89 698.69h2.81v1.2h-2.81zM321.3 532.24h4v0.5h-4zM321.3 533.44h4v0.8h-4zM321.3 535.44h4v1h-4zM321.3 536.74h4v1.2h-4zM321.3 548.84h4v2h-4zM321.3 559.04h4v0.5h-4zM321.3 566.14h4v1.5h-4zM321.3 571.04h4v1h-4zM321.3 598.04h4v0.8h-4zM321.3 600.44h4v1.5h-4zM321.3 659.74h4v1.2h-4zM321.3 665.84h4v2h-4zM321.3 693.34h4v0.5h-4zM321.3 700.04h4v0.8h-4zM321.3 712.34h4v0.5h-4zM321.3 731.04h3.27v0.6h-3.27z"/>
<path fill="#ced1d9" d="M311.7 530.89h4v1h-4zM311.7 536.39h4v2h-4zM311.7 546.99h4v2h-4zM311.7 559.89h4v0.7h-4zM311.7 569.59h4v0.8h-4zM311.7 574.69h4v0.8h-4zM311.7 584.29h4v0.6h-4zM311.7 600.69h4v2h-4zM311.7 628.49h4v1h-4zM311.7 643.19h4v2h-4zM311.7 663.99h4v2h-4zM311.7 684.99h4v0.6h-4zM311.7 689.89h4v0.7h-4zM311.7 708.99h4v2h-4zM311.7 718.89h4v2h-4zM311.7 735.39h4v0.6h-4zM311.7 742.29h4v0.5h-4zM321.3 525.64h4v1.5h-4zM321.3 555.34h4v1.5h-4zM321.3 569.24h4v1.5h-4zM321.3 574.64h4v2h-4zM321.3 607.14h4v2h-4zM321.3 622.14h3.14v0.6h-3.14zM321.3 637.84h4v0.6h-4zM321.3 646.94h4v1.2h-4zM321.3 654.84h4v0.6h-4zM321.3 738.44h4v1.5h-4z"/>
<path fill="#f2c274" d="M311.7 538.89h4v1h-4zM311.7 652.19h4v0.8h-4zM321.3 557.14h3.38v1.2h-3.38zM321.3 671.64h4v0.7h-4zM321.3 681.14h4v2h-4z"/>
<path fill="#c2c7d1" d="M313.28 540.79h2.42v1.2h-2.42zM311.7 554.59h4v0.7h-4zM311.7 558.49h4v0.5h-4zM311.7 565.39h4v2h-4zM312.85 578.59h2.85v1.5h-2.85zM312.12 589.39h3.58v1h-3.58zM311.7 599.29h4v0.5h-4zM311.7 608.89h4v0.8h-4zM311.7 615.19h4v2h-4zM312.42 632.69h3.28v1.5h-3.28zM311.7 637.69h4v1h-4zM311.7 654.19h4v0.6h-4zM311.7 660.89h4v0.7h-4zM312.88 666.29h2.82v1h-2.82zM311.7 714.19h4v1.5h-4zM311.7 728.09h4v1h-4zM311.7 729.79h4v0.5h-4zM311.7 733.59h4v0.6h-4zM321.3 527.84h4v1.2h-4zM321.3 546.44h4v0.8h-4zM321.3 572.94h2.54v0.8h-2.54zM321.3 591.74h4v1.5h-4zM321.3 617.44h4v1.5h-4zM321.3 641.94h4v2h-4zM321.3 658.04h4v0.8h-4zM321.3 669.44h4v1.5h-4zM321.3 672.84h4v1.2h-4zM321.3 674.54h4v0.6h-4zM321.3 676.74h4v1.2h-4zM321.3 694.54h4v1.5h-4z"/>
<path fill="#9ba2b0" d="M312.33 542.29h3.37v1.5h-3.37zM311.7 549.69h4v0.5h-4zM311.7 582.49h4v0.6h-4zM311.7 625.29h4v2h-4zM311.7 640.79h4v0.6h-4zM311.7 697.19h4v1.2h-4zM312.39 700.19h3.31v1h-3.31zM311.7 701.89h4v1h-4zM321.3 520.34h3.65v1.2h-3.65zM321.3 551.34h4v0.8h-4zM321.3 579.04h4v0.7h-4zM321.3 614.54h4v0.5h-4zM321.3 624.34h2.67v1.2h-2.67zM321.3 634.14h2.61v0.8h-2.61zM321.3 645.14h4v1.5h-4zM321.3 651.64h4v0.8h-4zM321.3 725.54h4v0.5h-4z"/>
<path fill="#babfcb" d="M312.79 563.89h2.91v0.6h-2.91zM311.7 568.29h4v0.6h-4zM311.7 585.79h4v2h-4zM311.7 641.69h4v0.8h-4zM311.7 687.19h4v2h-4zM312.65 692.99h3.05v0.8h-3.05zM311.7 694.99h4v1h-4zM311.7 739.59h4v2h-4zM311.7 745.99h4v1h-4zM321.3 543.54h4v0.5h-4zM321.3 582.14h4v0.5h-4zM321.3 610.34h4v0.7h-4zM321.3 611.54h4v0.8h-4zM321.3 628.84h4v0.6h-4zM321.3 639.34h3.76v1h-3.76zM321.3 713.14h4v1h-4zM321.3 721.34h4v1h-4zM321.3 734.84h4v2h-4z"/>
<path fill="#f0e07a" d="M312.98 571.59h2.72v0.5h-2.72zM311.7 572.59h4v0.5h-4zM311.7 603.89h4v2h-4zM311.7 611.29h4v1.5h-4zM312.05 648.39h3.65v1.5h-3.65zM311.7 655.69h4v0.6h-4zM311.7 657.19h4v0.5h-4zM311.7 670.19h4v1h-4zM311.7 674.39h4v1.5h-4zM311.7 679.09h4v0.5h-4zM311.7 703.19h4v0.5h-4zM312.06 705.89h3.64v0.7h-3.64zM311.7 726.39h4v1.2h-4zM321.3 559.84h4v0.7h-4zM321.3 585.54h4v1.2h-4zM321.3 696.34h4v0.5h-4zM321.3 701.34h4v0.5h-4zM321.3 708.94h4v1h-4zM321.3 728.64h4v1.5h-4z"/>
</g>
<rect x="308.6" y="516.9" width="19.8" height="2.7" fill="#e23e94"/>
<rect x="310.8" y="517.9" width="3.6" height="0.7" fill="#f58fc0" opacity="0.8"/>
<rect x="321.9" y="517.3" width="3.2" height="1.9" fill="#f2d34a" opacity="0.85"/>
<rect x="308.6" y="748.2" width="19.8" height="4.9" fill="#e23e94"/>
<rect x="312.3" y="748.6" width="2.8" height="4.1" fill="#f2b040" opacity="0.8"/>
<rect x="322.5" y="750.3" width="3.6" height="0.7" fill="#f58fc0" opacity="0.8"/>
<clipPath id="cb11"><rect x="315.7" y="516.9" width="5.6" height="236.2"/></clipPath>
<g clip-path="url(#cb11)"><g filter="url(#vb2)">
<rect x="314.7" y="512.9" width="7.6" height="6.75" fill="#0fa98c"/>
<rect x="314.7" y="519.6" width="7.6" height="4.39" fill="#1ba4e4"/>
<rect x="314.7" y="523.94" width="7.6" height="4.43" fill="#12a550"/>
<rect x="314.7" y="528.32" width="7.6" height="3.33" fill="#a8d33c"/>
<rect x="314.7" y="531.6" width="7.6" height="4.43" fill="#12a550"/>
<rect x="314.7" y="535.98" width="7.6" height="2.24" fill="#f3e535"/>
<rect x="314.7" y="538.17" width="7.6" height="5.52" fill="#12a550"/>
<rect x="314.7" y="543.65" width="7.6" height="3.33" fill="#a8d33c"/>
<rect x="314.7" y="546.93" width="7.6" height="3.33" fill="#12a550"/>
<rect x="314.7" y="550.21" width="7.6" height="3.77" fill="#f3e535"/>
<rect x="314.7" y="553.94" width="7.6" height="22.6" fill="#12a550"/>
<rect x="314.7" y="576.49" width="7.6" height="4.43" fill="#a8d33c"/>
<rect x="314.7" y="580.87" width="7.6" height="3.33" fill="#12a550"/>
<rect x="314.7" y="584.15" width="7.6" height="2.24" fill="#a8d33c"/>
<rect x="314.7" y="586.34" width="7.6" height="3.33" fill="#0fa98c"/>
<rect x="314.7" y="589.63" width="7.6" height="9.9" fill="#12a550"/>
<rect x="314.7" y="599.48" width="7.6" height="4.43" fill="#f3e535"/>
<rect x="314.7" y="603.86" width="7.6" height="12.09" fill="#12a550"/>
<rect x="314.7" y="615.9" width="7.6" height="4.43" fill="#a8d33c"/>
<rect x="314.7" y="620.28" width="7.6" height="12.09" fill="#12a550"/>
<rect x="314.7" y="632.33" width="7.6" height="2.24" fill="#a8d33c"/>
<rect x="314.7" y="634.51" width="7.6" height="5.39" fill="#1ba4e4"/>
<rect x="314.7" y="639.85" width="7.6" height="5.52" fill="#12a550"/>
<rect x="314.7" y="645.33" width="7.6" height="3.33" fill="#a8d33c"/>
<rect x="314.7" y="648.61" width="7.6" height="6.62" fill="#12a550"/>
<rect x="314.7" y="655.18" width="7.6" height="4.43" fill="#a8d33c"/>
<rect x="314.7" y="659.56" width="7.6" height="12.09" fill="#12a550"/>
<rect x="314.7" y="671.6" width="7.6" height="4.43" fill="#a8d33c"/>
<rect x="314.7" y="675.98" width="7.6" height="11" fill="#12a550"/>
<rect x="314.7" y="686.93" width="7.6" height="2.68" fill="#a8d33c"/>
<rect x="314.7" y="689.56" width="7.6" height="13.84" fill="#12a550"/>
<rect x="314.7" y="703.35" width="7.6" height="7.71" fill="#1ba4e4"/>
<rect x="314.7" y="711.02" width="7.6" height="3.33" fill="#1666c9"/>
<rect x="314.7" y="714.3" width="7.6" height="4.43" fill="#0fa98c"/>
<rect x="314.7" y="718.68" width="7.6" height="9.9" fill="#12a550"/>
<rect x="314.7" y="728.53" width="7.6" height="4.43" fill="#a8d33c"/>
<rect x="314.7" y="732.91" width="7.6" height="8.81" fill="#12a550"/>
<rect x="314.7" y="741.67" width="7.6" height="5.52" fill="#f8c230"/>
<rect x="314.7" y="747.14" width="7.6" height="1.11" fill="#12a550"/>
<rect x="314.7" y="748.2" width="7.6" height="4.95" fill="#1ba4e4"/>
<rect x="314.7" y="753.1" width="7.6" height="4" fill="#1ba4e4"/>
<path fill="#f3e535" opacity="0.68" d="M314.7 518.02h7.6v0.6h-7.6zM314.7 600.6h7.6v1.2h-7.6zM314.7 616.83h7.6v1.2h-7.6zM314.7 699.51h7.6v0.6h-7.6zM314.7 726.57h7.6v0.8h-7.6z"/>
<path fill="#2db4ee" opacity="0.68" d="M314.7 521.25h7.6v1h-7.6zM314.7 636.26h7.6v0.7h-7.6zM314.7 749.74h7.6v0.8h-7.6z"/>
<path fill="#3fb64a" opacity="0.68" d="M314.7 525.86h7.6v0.7h-7.6zM314.7 542.13h7.6v0.8h-7.6zM314.7 545.3h7.6v1.2h-7.6zM314.7 548.09h7.6v0.7h-7.6zM314.7 551.17h7.6v1.2h-7.6zM314.7 555.59h7.6v0.8h-7.6zM314.7 566.51h7.6v1h-7.6zM314.7 572.03h7.6v0.7h-7.6zM314.7 587.27h7.6v1h-7.6zM314.7 596.38h7.6v1.2h-7.6zM314.7 605.49h7.6v0.6h-7.6zM314.7 629.99h7.6v0.8h-7.6zM314.7 644.41h7.6v0.7h-7.6zM314.7 647.31h7.6v1h-7.6zM314.7 650.46h7.6v1.2h-7.6zM314.7 657.17h7.6v0.8h-7.6zM314.7 664.65h7.6v0.6h-7.6zM314.7 667.37h7.6v0.8h-7.6zM314.7 673.01h7.6v1h-7.6zM314.7 680.57h7.6v0.8h-7.6zM314.7 690.64h7.6v0.8h-7.6zM314.7 701.54h7.6v1.2h-7.6zM314.7 723.12h7.6v1.2h-7.6zM314.7 730.31h7.6v0.8h-7.6zM314.7 734.42h7.6v0.7h-7.6zM314.7 736.73h7.6v0.6h-7.6zM314.7 740.02h7.6v0.8h-7.6z"/>
<path fill="#12a550" opacity="0.68" d="M314.7 529.67h7.6v0.7h-7.6zM314.7 687.99h7.6v1h-7.6z"/>
<path fill="#a8d33c" opacity="0.68" d="M314.7 532.77h7.6v1h-7.6zM314.7 539.54h7.6v0.6h-7.6zM314.7 559.45h7.6v0.8h-7.6zM314.7 562.79h7.6v0.6h-7.6zM314.7 569.66h7.6v0.8h-7.6zM314.7 574.47h7.6v0.7h-7.6zM314.7 577.59h7.6v0.7h-7.6zM314.7 582.72h7.6v0.7h-7.6zM314.7 591.17h7.6v0.6h-7.6zM314.7 593.02h7.6v0.8h-7.6zM314.7 609.64h7.6v0.6h-7.6zM314.7 613.43h7.6v1h-7.6zM314.7 621.8h7.6v1h-7.6zM314.7 625.63h7.6v0.8h-7.6zM314.7 641.21h7.6v0.7h-7.6zM314.7 653.6h7.6v0.6h-7.6zM314.7 661.35h7.6v0.6h-7.6zM314.7 677.83h7.6v1h-7.6zM314.7 684.16h7.6v1h-7.6zM314.7 694.16h7.6v0.8h-7.6zM314.7 696.82h7.6v0.6h-7.6zM314.7 715.36h7.6v1.2h-7.6zM314.7 720.07h7.6v1.2h-7.6zM314.7 743.01h7.6v0.7h-7.6z"/>
<path fill="#0fa98c" opacity="0.68" d="M314.7 704.84h7.6v1.2h-7.6zM314.7 709.31h7.6v0.7h-7.6zM314.7 751.78h7.6v0.8h-7.6z"/>
</g>
<rect x="315.7" y="516.9" width="0.45" height="236.2" fill="#0d6b4a" opacity="0.35"/>
<rect x="320.85" y="516.9" width="0.45" height="236.2" fill="#0d6b4a" opacity="0.35"/>
</g>
<g filter="url(#sb)">
<rect x="347.4" y="516.3" width="8.8" height="233" fill="#d9eef0" opacity="0.55"/>
<path fill="#d5d8df" d="M345 516.88h4v1h-4zM345 518.58h4v1.2h-4zM345 523.38h4v2h-4zM345 536.78h4v0.7h-4zM345 543.18h4v1.2h-4zM345 573.68h4v2h-4zM345 594.18h4v0.7h-4zM345 597.28h4v1.5h-4zM345 601.98h4v0.8h-4zM345 612.28h4v0.8h-4zM345 646.08h4v0.7h-4zM345 676.58h4v1.5h-4zM345 699.08h4v1.2h-4zM345.61 737.28h3.39v1h-3.39zM345 739.48h4v0.5h-4zM354.6 535.76h4v2h-4zM354.6 553.16h4v0.7h-4zM354.6 571.26h4v1.5h-4zM354.6 610.66h4v0.5h-4zM354.6 640.66h4v1.2h-4zM354.6 656.56h4v0.5h-4zM354.6 661.26h4v0.5h-4zM354.6 678.36h2.91v0.5h-2.91zM354.6 727.76h2.83v0.6h-2.83zM354.6 730.96h4v0.5h-4z"/>
<path fill="#abb1be" d="M345 520.68h4v2h-4zM345 530.08h4v0.6h-4zM345 533.88h4v0.5h-4zM345 546.38h4v1.2h-4zM345 557.88h4v1.5h-4zM345 568.38h4v2h-4zM345 582.78h4v0.7h-4zM345 640.48h4v0.8h-4zM345 671.28h4v0.6h-4zM345 681.58h4v1.2h-4zM345 683.68h4v1.2h-4zM345.64 706.78h3.36v1.5h-3.36zM345 728.68h4v0.8h-4zM345 732.68h4v1.5h-4zM345 744.68h4v1.5h-4zM354.6 548.96h4v1h-4zM354.6 554.76h2.92v1.2h-2.92zM354.6 581.26h4v0.6h-4zM354.6 583.06h4v1h-4zM354.6 591.36h2.6v0.8h-2.6zM354.6 595.56h2.89v1.5h-2.89zM354.6 603.06h4v0.7h-4zM354.6 612.66h4v1.2h-4zM354.6 654.16h4v1.5h-4zM354.6 660.26h4v0.5h-4zM354.6 664.16h4v1.2h-4zM354.6 692.96h4v0.8h-4zM354.6 732.36h4v0.6h-4zM354.6 737.46h4v1h-4z"/>
<path fill="#f0e07a" d="M345 526.58h4v0.5h-4zM345 545.08h4v1h-4zM345 603.28h4v1h-4zM345.8 617.58h3.2v0.7h-3.2zM345 625.28h4v1.5h-4zM345 647.28h4v2h-4zM345 700.98h4v1.2h-4zM354.6 516.96h4v0.8h-4zM354.6 563.26h4v0.5h-4zM354.6 570.36h4v0.6h-4zM354.6 585.26h3.15v1.5h-3.15zM354.6 638.26h4v1.2h-4zM354.6 674.96h4v1h-4zM354.6 683.46h4v0.5h-4zM354.6 686.36h4v1.2h-4zM354.6 726.66h4v0.6h-4zM354.6 747.56h4v1h-4z"/>
<path fill="#babfcb" d="M345 528.28h4v1.5h-4zM345.51 561.78h3.49v1.2h-3.49zM345 633.38h4v1.5h-4zM345 638.08h4v0.8h-4zM345 656.08h4v0.5h-4zM345 666.18h4v0.5h-4zM345.39 680.08h3.61v0.8h-3.61zM345.57 724.48h3.43v1.5h-3.43zM354.6 524.16h4v1h-4zM354.6 551.96h4v0.7h-4zM354.6 579.26h4v1.5h-4zM354.6 594.46h4v0.8h-4zM354.6 616.26h4v1.2h-4zM354.6 618.16h2.91v0.6h-2.91zM354.6 620.76h3.06v1.5h-3.06zM354.6 627.86h4v0.7h-4zM354.6 630.96h4v0.8h-4zM354.6 634.66h4v1.2h-4zM354.6 670.16h4v1.2h-4zM354.6 715.96h4v1.2h-4zM354.6 729.06h4v1.2h-4zM354.6 740.86h4v1h-4z"/>
<path fill="#c8ccd5" d="M345 537.98h4v0.8h-4zM345 550.78h4v1.2h-4zM345 552.48h4v0.6h-4zM345 555.48h4v1.5h-4zM345 571.98h4v0.5h-4zM345 578.88h4v0.7h-4zM345 584.68h4v0.8h-4zM345 608.18h4v1.2h-4zM345 610.98h4v0.6h-4zM345 642.48h4v1.2h-4zM345 678.98h4v0.8h-4zM354.6 529.26h4v0.8h-4zM354.6 540.06h4v0.8h-4zM354.6 541.16h4v1h-4zM354.6 566.16h4v1.2h-4zM354.6 578.26h4v0.7h-4zM354.6 593.36h4v0.8h-4zM354.6 608.26h4v1.2h-4zM354.6 611.46h4v0.5h-4zM354.6 647.76h4v1.2h-4zM354.6 679.16h4v0.6h-4zM354.6 713.66h4v0.7h-4z"/>
<path fill="#c2c7d1" d="M345 539.48h4v1.5h-4zM345 541.48h4v1.2h-4zM345 620.68h4v0.8h-4zM345 622.68h4v1h-4zM345 658.18h4v1.2h-4zM346.54 689.48h2.46v1.2h-2.46zM345 704.58h4v1h-4zM345 708.58h4v0.7h-4zM345 748.08h4v0.5h-4zM354.6 527.56h4v1.2h-4zM354.6 533.46h4v0.6h-4zM354.6 538.96h4v0.8h-4zM354.6 545.36h3.63v0.5h-3.63zM354.6 575.16h4v1.5h-4zM354.6 587.96h4v1h-4zM354.6 597.36h4v0.5h-4zM354.6 599.46h4v2h-4zM354.6 606.96h4v1h-4zM354.6 688.26h4v0.6h-4zM354.6 736.16h4v0.8h-4z"/>
<path fill="#ced1d9" d="M345 564.18h4v1h-4zM345 591.98h4v0.6h-4zM345 631.08h4v2h-4zM345 667.38h4v0.7h-4zM345 685.58h4v0.7h-4zM345 693.68h4v0.5h-4zM345 714.88h4v0.8h-4zM345 740.28h4v1.2h-4zM354.6 520.16h4v0.7h-4zM354.6 521.76h4v0.8h-4zM354.6 531.66h4v0.6h-4zM354.6 556.46h4v0.5h-4zM354.6 559.36h4v1.5h-4zM354.6 619.66h4v0.6h-4zM354.6 666.96h4v2h-4zM354.6 689.76h4v2h-4zM354.6 696.16h4v0.8h-4zM354.6 702.46h4v1.5h-4zM354.6 704.66h3.41v1h-3.41zM354.6 708.06h4v1h-4zM354.6 723.76h4v0.5h-4z"/>
<path fill="#f2c274" d="M345 587.08h4v1.2h-4zM345 606.08h4v1.2h-4zM345 718.88h4v2h-4zM345 735.08h4v1h-4zM354.6 550.66h4v0.8h-4zM354.6 632.66h4v1.5h-4zM354.6 642.56h4v2h-4zM354.6 745.06h4v2h-4z"/>
<path fill="#9ba2b0" d="M345 590.68h4v1h-4zM346.53 604.78h2.47v0.6h-2.47zM345 613.58h4v0.8h-4zM345 627.28h4v0.5h-4zM345 628.68h4v0.8h-4zM345 651.68h4v2h-4zM345 662.58h4v1.2h-4zM345 672.38h4v1h-4zM345.91 691.38h3.09v0.7h-3.09zM345 694.68h4v1.2h-4zM345 712.48h4v1.5h-4zM346.43 722.08h2.57v0.8h-2.57zM345 727.58h4v0.8h-4zM345 747.08h4v0.7h-4zM354.6 534.76h4v0.7h-4zM354.6 547.46h4v1h-4zM354.6 567.86h3.56v2h-3.56zM354.6 624.66h4v0.8h-4zM354.6 652.16h2.94v0.8h-2.94zM354.6 672.06h4v2h-4zM354.6 681.36h4v0.5h-4zM354.6 698.56h4v1.5h-4zM354.6 711.46h4v1h-4zM354.6 714.66h4v0.8h-4zM354.6 719.56h4v1.5h-4zM354.6 721.36h4v0.8h-4z"/>
</g>
<rect x="341.9" y="749.3" width="19.8" height="3.8" fill="#e23e94"/>
<rect x="344.1" y="750.85" width="3.6" height="0.7" fill="#f58fc0" opacity="0.8"/>
<rect x="355.8" y="750.85" width="3.6" height="0.7" fill="#f58fc0" opacity="0.8"/>
<clipPath id="cb12"><rect x="349" y="516.3" width="5.6" height="236.8"/></clipPath>
<g clip-path="url(#cb12)"><g filter="url(#vb2)">
<rect x="348" y="512.3" width="7.6" height="6.22" fill="#1ba4e4"/>
<rect x="348" y="518.47" width="7.6" height="6.62" fill="#12a550"/>
<rect x="348" y="525.03" width="7.6" height="5.52" fill="#a8d33c"/>
<rect x="348" y="530.51" width="7.6" height="6.62" fill="#f8c230"/>
<rect x="348" y="537.08" width="7.6" height="5.52" fill="#a8d33c"/>
<rect x="348" y="542.55" width="7.6" height="5.52" fill="#12a550"/>
<rect x="348" y="548.02" width="7.6" height="14.28" fill="#12a550"/>
<rect x="348" y="562.26" width="7.6" height="3.33" fill="#a8d33c"/>
<rect x="348" y="565.54" width="7.6" height="7.71" fill="#12a550"/>
<rect x="348" y="573.21" width="7.6" height="6.62" fill="#f8c230"/>
<rect x="348" y="579.77" width="7.6" height="6.62" fill="#12a550"/>
<rect x="348" y="586.34" width="7.6" height="5.52" fill="#f3e535"/>
<rect x="348" y="591.82" width="7.6" height="9.9" fill="#12a550"/>
<rect x="348" y="601.67" width="7.6" height="3.33" fill="#a8d33c"/>
<rect x="348" y="604.96" width="7.6" height="16.47" fill="#12a550"/>
<rect x="348" y="621.38" width="7.6" height="9.9" fill="#1ba4e4"/>
<rect x="348" y="631.23" width="7.6" height="8.81" fill="#12a550"/>
<rect x="348" y="639.99" width="7.6" height="16.34" fill="#12a550"/>
<rect x="348" y="656.28" width="7.6" height="0.94" fill="#f8c230"/>
<rect x="348" y="657.16" width="7.6" height="1.56" fill="#f4902d"/>
<rect x="348" y="658.67" width="7.6" height="0.94" fill="#f3e535"/>
<rect x="348" y="659.56" width="7.6" height="3.33" fill="#a8d33c"/>
<rect x="348" y="662.84" width="7.6" height="23.04" fill="#12a550"/>
<rect x="348" y="685.84" width="7.6" height="5.52" fill="#f3e535"/>
<rect x="348" y="691.31" width="7.6" height="4.43" fill="#12a550"/>
<rect x="348" y="695.69" width="7.6" height="7.71" fill="#f3e535"/>
<rect x="348" y="703.35" width="7.6" height="14.28" fill="#12a550"/>
<rect x="348" y="717.58" width="7.6" height="2.24" fill="#f4902d"/>
<rect x="348" y="719.77" width="7.6" height="9.9" fill="#12a550"/>
<rect x="348" y="729.63" width="7.6" height="3.33" fill="#a8d33c"/>
<rect x="348" y="732.91" width="7.6" height="6.62" fill="#12a550"/>
<rect x="348" y="739.48" width="7.6" height="3.33" fill="#f3e535"/>
<rect x="348" y="742.77" width="7.6" height="6.58" fill="#12a550"/>
<rect x="348" y="749.3" width="7.6" height="1.08" fill="#f8c230"/>
<rect x="348" y="750.33" width="7.6" height="1.8" fill="#f4902d"/>
<rect x="348" y="752.07" width="7.6" height="1.08" fill="#f3e535"/>
<rect x="348" y="753.1" width="7.6" height="4" fill="#f3e535"/>
<path fill="#a8d33c" opacity="0.68" d="M348 520.16h7.6v0.6h-7.6zM348 559.33h7.6v1.2h-7.6zM348 570.75h7.6v0.7h-7.6zM348 581.74h7.6v1h-7.6zM348 593.06h7.6v0.8h-7.6zM348 597.34h7.6v0.8h-7.6zM348 606.93h7.6v0.8h-7.6zM348 633.04h7.6v1.2h-7.6zM348 636.99h7.6v0.6h-7.6zM348 644.34h7.6v0.8h-7.6zM348 646.93h7.6v1h-7.6zM348 674.82h7.6v1h-7.6zM348 677.51h7.6v1.2h-7.6zM348 692.51h7.6v0.8h-7.6zM348 700.39h7.6v1.2h-7.6zM348 705.02h7.6v0.6h-7.6zM348 711.94h7.6v0.6h-7.6zM348 721.27h7.6v0.8h-7.6zM348 724.4h7.6v0.8h-7.6zM348 726.99h7.6v0.7h-7.6zM348 737.03h7.6v1.2h-7.6zM348 744.63h7.6v1.2h-7.6zM348 748.45h7.6v0.8h-7.6z"/>
<path fill="#3fb64a" opacity="0.68" d="M348 522.09h7.6v0.6h-7.6zM348 529.18h7.6v0.8h-7.6zM348 541.51h7.6v1h-7.6zM348 543.99h7.6v1.2h-7.6zM348 549.48h7.6v1.2h-7.6zM348 553.74h7.6v1h-7.6zM348 556.71h7.6v1.2h-7.6zM348 566.4h7.6v1h-7.6zM348 587.48h7.6v0.6h-7.6zM348 600.18h7.6v0.8h-7.6zM348 613.85h7.6v1.2h-7.6zM348 617.98h7.6v0.6h-7.6zM348 620.47h7.6v1.2h-7.6zM348 641.08h7.6v1.2h-7.6zM348 649.23h7.6v0.6h-7.6zM348 660.78h7.6v1.2h-7.6zM348 664.27h7.6v1h-7.6zM348 667.65h7.6v0.6h-7.6zM348 670.92h7.6v0.8h-7.6zM348 680.68h7.6v1h-7.6zM348 683.44h7.6v0.8h-7.6zM348 709.05h7.6v0.7h-7.6zM348 715.73h7.6v1h-7.6zM348 734.35h7.6v0.7h-7.6z"/>
<path fill="#f3e535" opacity="0.68" d="M348 526.96h7.6v0.8h-7.6zM348 531.48h7.6v0.7h-7.6zM348 534.16h7.6v0.7h-7.6zM348 563.42h7.6v0.6h-7.6zM348 574.76h7.6v0.6h-7.6zM348 609.17h7.6v1.2h-7.6zM348 653.14h7.6v0.8h-7.6zM348 687.05h7.6v0.8h-7.6zM348 730.59h7.6v1.2h-7.6z"/>
<path fill="#12a550" opacity="0.68" d="M348 538.43h7.6v1h-7.6zM348 577.2h7.6v0.8h-7.6zM348 603.15h7.6v1.2h-7.6zM348 696.91h7.6v1h-7.6zM348 741.37h7.6v1.2h-7.6z"/>
<path fill="#2db4ee" opacity="0.68" d="M348 623.12h7.6v1h-7.6zM348 625.57h7.6v0.7h-7.6z"/>
<path fill="#0fa98c" opacity="0.68" d="M348 629.81h7.6v0.6h-7.6z"/>
</g>
<rect x="349" y="516.3" width="0.45" height="236.8" fill="#0d6b4a" opacity="0.35"/>
<rect x="354.15" y="516.3" width="0.45" height="236.8" fill="#0d6b4a" opacity="0.35"/>
</g>
<g filter="url(#sb)">
<rect x="380.6" y="513" width="8.8" height="240" fill="#d9eef0" opacity="0.55"/>
<path fill="#f0e07a" d="M378.2 513.04h4v1h-4zM378.2 529.84h4v0.7h-4zM378.2 567.24h4v0.8h-4zM378.2 595.54h4v0.5h-4zM378.2 685.84h4v1h-4zM378.2 707.84h4v2h-4zM378.2 725.54h4v1.2h-4zM378.2 740.84h4v0.6h-4zM387.8 550.83h4v0.7h-4zM387.8 557.03h4v1.2h-4zM387.8 559.83h4v0.6h-4zM387.8 593.53h4v0.5h-4zM387.8 601.03h4v1.2h-4zM387.8 608.03h4v1h-4zM387.8 614.93h4v1.2h-4zM387.8 663.43h4v1.5h-4zM387.8 714.03h4v0.8h-4zM387.8 718.03h4v2h-4zM387.8 726.43h4v0.7h-4z"/>
<path fill="#ced1d9" d="M378.2 514.94h4v1.5h-4zM378.2 541.84h4v0.7h-4zM378.2 571.24h4v1h-4zM378.2 578.34h4v0.8h-4zM379.56 580.34h2.64v1.2h-2.64zM378.2 589.14h4v1.2h-4zM379.5 638.44h2.7v0.5h-2.7zM378.2 642.74h4v1h-4zM378.2 660.44h4v0.6h-4zM379.04 692.64h3.16v1.2h-3.16zM378.2 713.04h4v0.8h-4zM378.2 715.84h4v0.5h-4zM378.2 720.44h4v0.7h-4zM378.2 727.64h4v1.5h-4zM378.2 746.64h4v2h-4zM387.8 571.03h4v0.8h-4zM387.8 579.83h4v1.2h-4zM387.8 582.63h3.14v1.2h-3.14zM387.8 585.83h4v0.6h-4zM387.8 628.73h4v0.5h-4zM387.8 633.63h4v1h-4zM387.8 707.63h4v0.8h-4zM387.8 723.73h4v2h-4zM387.8 729.53h4v0.5h-4zM387.8 742.83h4v1h-4zM387.8 746.23h4v1.5h-4zM387.8 748.43h4v1.5h-4zM387.8 750.83h4v0.5h-4z"/>
<path fill="#abb1be" d="M378.2 517.14h4v1h-4zM378.2 540.34h4v1h-4zM378.2 543.24h4v0.8h-4zM378.2 582.24h4v2h-4zM378.2 591.24h4v1.5h-4zM378.2 602.14h4v0.5h-4zM378.2 611.74h4v2h-4zM378.2 621.94h4v2h-4zM378.2 641.84h4v0.6h-4zM378.2 652.34h4v0.5h-4zM378.2 671.24h4v1.2h-4zM378.2 724.34h4v0.5h-4zM378.2 732.34h4v2h-4zM378.2 743.04h4v2h-4zM387.8 515.83h4v0.6h-4zM387.8 605.43h4v1h-4zM387.8 616.63h4v1.2h-4zM387.8 618.13h4v1.2h-4zM387.8 624.03h4v1.5h-4zM387.8 638.33h4v0.7h-4zM387.8 685.33h2.52v0.7h-2.52zM387.8 687.63h4v0.6h-4zM387.8 704.13h4v1.5h-4z"/>
<path fill="#d5d8df" d="M378.78 519.74h3.42v1.5h-3.42zM378.2 549.94h4v1.2h-4zM379.12 556.04h3.08v2h-3.08zM379.3 559.24h2.9v1h-2.9zM378.2 563.44h4v0.8h-4zM378.2 625.74h4v1.2h-4zM378.2 650.24h4v0.5h-4zM378.2 659.14h4v0.8h-4zM379.13 667.64h3.07v1h-3.07zM378.2 675.64h4v1.2h-4zM378.2 680.04h4v1.5h-4zM378.2 702.24h4v1h-4zM378.2 714.14h4v0.5h-4zM378.2 734.64h4v0.6h-4zM378.76 738.84h3.44v1.5h-3.44zM387.8 517.33h4v0.6h-4zM387.8 525.53h4v1.5h-4zM387.8 529.03h4v2h-4zM387.8 560.73h4v0.8h-4zM387.8 565.93h4v0.8h-4zM387.8 591.13h4v1.2h-4zM387.8 597.83h4v0.8h-4zM387.8 629.73h4v0.7h-4zM387.8 641.53h4v2h-4zM387.8 680.73h4v0.5h-4zM387.8 690.73h4v2h-4zM387.8 693.23h4v0.8h-4zM387.8 706.13h4v1h-4zM387.8 711.63h4v0.8h-4zM387.8 734.63h4v2h-4zM387.8 737.83h4v0.6h-4z"/>
<path fill="#c2c7d1" d="M378.2 521.54h4v1.2h-4zM378.2 533.74h4v0.6h-4zM379.37 534.84h2.83v0.8h-2.83zM378.2 544.34h4v0.5h-4zM379.09 587.24h3.11v1.2h-3.11zM378.2 600.14h4v1.5h-4zM378.2 607.04h4v1h-4zM378.2 617.64h4v0.7h-4zM378.2 629.54h4v1h-4zM378.2 631.04h4v1h-4zM378.43 639.84h3.77v1.5h-3.77zM378.2 646.14h4v1h-4zM378.2 661.94h4v0.6h-4zM378.2 670.24h4v0.5h-4zM378.2 690.94h4v0.5h-4zM378.2 717.24h4v2h-4zM387.8 513.83h4v0.8h-4zM387.8 521.13h4v1.2h-4zM387.8 562.23h4v0.5h-4zM387.8 574.23h4v0.5h-4zM387.8 575.43h4v2h-4zM387.8 619.83h4v0.8h-4zM387.8 647.43h4v0.7h-4zM387.8 652.93h4v0.5h-4zM387.8 697.13h4v1h-4z"/>
<path fill="#c8ccd5" d="M378.2 523.94h4v2h-4zM378.2 554.34h4v0.8h-4zM379.65 597.24h2.55v2h-2.55zM378.2 603.14h4v1.5h-4zM378.2 615.34h4v2h-4zM378.2 656.74h4v1.2h-4zM378.2 664.94h4v2h-4zM378.2 689.24h4v0.5h-4zM378.2 697.84h4v2h-4zM378.2 735.74h4v1.5h-4zM387.8 534.23h4v0.5h-4zM387.8 540.53h4v0.7h-4zM387.8 596.43h2.68v0.5h-2.68zM387.8 635.53h4v1.2h-4zM387.8 640.23h4v0.6h-4zM387.8 650.53h4v1.5h-4zM387.8 658.53h4v1.5h-4zM387.8 668.13h3.71v0.5h-3.71zM387.8 670.23h4v0.8h-4zM387.8 683.63h4v0.5h-4zM387.8 694.73h4v0.8h-4z"/>
<path fill="#babfcb" d="M378.2 527.14h4v0.8h-4zM378.2 538.84h4v0.8h-4zM379.26 545.54h2.94v1.2h-2.94zM378.2 564.54h4v2h-4zM378.2 576.44h4v1h-4zM378.2 584.54h4v0.7h-4zM378.2 594.34h4v0.5h-4zM378.2 609.64h4v1.2h-4zM378.2 614.24h4v0.6h-4zM378.2 627.44h4v0.5h-4zM378.2 632.34h4v1.2h-4zM378.2 654.04h4v0.8h-4zM378.2 655.14h4v0.7h-4zM378.2 706.04h4v0.6h-4zM378.2 721.84h4v2h-4zM379.26 749.84h2.94v0.5h-2.94zM387.8 527.33h4v1h-4zM387.8 535.03h4v0.5h-4zM387.8 538.73h4v1.5h-4zM387.8 542.63h2.92v0.5h-2.92zM387.8 548.23h4v1h-4zM387.8 584.13h4v0.8h-4zM387.8 588.03h4v0.7h-4zM387.8 611.43h4v1.5h-4zM387.8 621.53h4v2h-4zM387.8 644.73h4v2h-4zM387.8 656.03h4v2h-4zM387.8 672.63h4v2h-4zM387.8 675.13h4v1h-4zM387.8 739.13h4v0.5h-4z"/>
<path fill="#9ba2b0" d="M378.2 528.64h4v0.5h-4zM378.2 535.94h4v2h-4zM378.2 573.84h4v1h-4zM378.2 585.74h4v1.2h-4zM378.2 619.94h4v0.8h-4zM379.49 624.44h2.71v0.8h-2.71zM378.2 634.04h4v2h-4zM378.2 644.44h4v1.2h-4zM378.2 648.04h4v0.8h-4zM378.2 649.34h4v0.6h-4zM378.2 683.14h4v1.5h-4zM378.2 694.74h4v0.7h-4zM379.24 704.44h2.96v0.7h-2.96zM387.8 544.33h4v0.7h-4zM387.8 554.73h4v0.7h-4zM387.8 613.63h4v0.8h-4zM387.8 655.03h4v0.7h-4zM387.8 660.33h4v1.5h-4zM387.8 679.33h4v0.7h-4zM387.8 689.13h2.54v0.7h-2.54zM387.8 698.83h4v0.6h-4zM387.8 699.93h2.99v0.8h-2.99zM387.8 701.03h3.7v0.7h-3.7zM387.8 720.33h4v1h-4zM387.8 730.93h4v0.5h-4z"/>
<path fill="#f2c274" d="M387.8 541.53h3.07v0.6h-3.07zM387.8 567.63h3.61v1h-3.61zM387.8 681.93h4v1h-4z"/>
</g>
<clipPath id="cb13"><rect x="382.2" y="513" width="5.6" height="240"/></clipPath>
<g clip-path="url(#cb13)"><g filter="url(#vb2)">
<rect x="381.2" y="509" width="7.6" height="9.52" fill="#0fa98c"/>
<rect x="381.2" y="518.47" width="7.6" height="9.9" fill="#12a550"/>
<rect x="381.2" y="528.32" width="7.6" height="5.52" fill="#f3e535"/>
<rect x="381.2" y="533.79" width="7.6" height="7.71" fill="#12a550"/>
<rect x="381.2" y="541.46" width="7.6" height="3.33" fill="#a8d33c"/>
<rect x="381.2" y="544.74" width="7.6" height="8.81" fill="#12a550"/>
<rect x="381.2" y="553.5" width="7.6" height="4.43" fill="#0fa98c"/>
<rect x="381.2" y="557.88" width="7.6" height="5.52" fill="#1ba4e4"/>
<rect x="381.2" y="563.35" width="7.6" height="3.33" fill="#1666c9"/>
<rect x="381.2" y="566.64" width="7.6" height="15.38" fill="#1ba4e4"/>
<rect x="381.2" y="581.96" width="7.6" height="11" fill="#0fa98c"/>
<rect x="381.2" y="592.91" width="7.6" height="0.94" fill="#f8c230"/>
<rect x="381.2" y="593.8" width="7.6" height="1.56" fill="#f4902d"/>
<rect x="381.2" y="595.31" width="7.6" height="0.94" fill="#f3e535"/>
<rect x="381.2" y="596.2" width="7.6" height="4.43" fill="#12a550"/>
<rect x="381.2" y="600.58" width="7.6" height="4.43" fill="#f3e535"/>
<rect x="381.2" y="604.96" width="7.6" height="16.47" fill="#12a550"/>
<rect x="381.2" y="621.38" width="7.6" height="3.33" fill="#a8d33c"/>
<rect x="381.2" y="624.66" width="7.6" height="7.71" fill="#12a550"/>
<rect x="381.2" y="632.33" width="7.6" height="5.52" fill="#f8c230"/>
<rect x="381.2" y="637.8" width="7.6" height="25.09" fill="#12a550"/>
<rect x="381.2" y="662.84" width="7.6" height="3.33" fill="#a8d33c"/>
<rect x="381.2" y="666.13" width="7.6" height="27.42" fill="#12a550"/>
<rect x="381.2" y="693.5" width="7.6" height="4.43" fill="#a8d33c"/>
<rect x="381.2" y="697.88" width="7.6" height="3.33" fill="#12a550"/>
<rect x="381.2" y="701.16" width="7.6" height="2.24" fill="#a8d33c"/>
<rect x="381.2" y="703.35" width="7.6" height="3.33" fill="#12a550"/>
<rect x="381.2" y="706.64" width="7.6" height="3.33" fill="#f3e535"/>
<rect x="381.2" y="709.92" width="7.6" height="6.62" fill="#12a550"/>
<rect x="381.2" y="716.49" width="7.6" height="3.33" fill="#a8d33c"/>
<rect x="381.2" y="719.77" width="7.6" height="6.62" fill="#12a550"/>
<rect x="381.2" y="726.34" width="7.6" height="3.33" fill="#a8d33c"/>
<rect x="381.2" y="729.63" width="7.6" height="3.33" fill="#12a550"/>
<rect x="381.2" y="732.91" width="7.6" height="6.62" fill="#a8d33c"/>
<rect x="381.2" y="739.48" width="7.6" height="6.62" fill="#f8c230"/>
<rect x="381.2" y="746.05" width="7.6" height="7.06" fill="#12a550"/>
<rect x="381.2" y="753.06" width="7.6" height="4" fill="#12a550"/>
<path fill="#a8d33c" opacity="0.68" d="M381.2 514.65h7.6v0.8h-7.6zM381.2 520.32h7.6v0.8h-7.6zM381.2 523h7.6v1.2h-7.6zM381.2 531.94h7.6v0.7h-7.6zM381.2 534.6h7.6v0.8h-7.6zM381.2 537.86h7.6v1h-7.6zM381.2 542.88h7.6v0.7h-7.6zM381.2 545.61h7.6v1h-7.6zM381.2 548.69h7.6v1.2h-7.6zM381.2 554.57h7.6v1.2h-7.6zM381.2 583.2h7.6v1.2h-7.6zM381.2 587.25h7.6v1h-7.6zM381.2 606.72h7.6v0.7h-7.6zM381.2 609.47h7.6v1.2h-7.6zM381.2 615.59h7.6v0.7h-7.6zM381.2 619.09h7.6v0.7h-7.6zM381.2 644.15h7.6v0.6h-7.6zM381.2 661.81h7.6v0.8h-7.6zM381.2 664.51h7.6v0.7h-7.6zM381.2 671.53h7.6v1h-7.6zM381.2 674.34h7.6v1.2h-7.6zM381.2 682.52h7.6v1.2h-7.6zM381.2 685.93h7.6v0.8h-7.6zM381.2 704.75h7.6v1h-7.6zM381.2 714.71h7.6v0.6h-7.6zM381.2 737.12h7.6v0.6h-7.6zM381.2 747.11h7.6v0.6h-7.6zM381.2 749.16h7.6v1.2h-7.6z"/>
<path fill="#3fb64a" opacity="0.68" d="M381.2 526.64h7.6v1h-7.6zM381.2 590.55h7.6v0.8h-7.6zM381.2 597.59h7.6v1.2h-7.6zM381.2 613.19h7.6v0.8h-7.6zM381.2 629.48h7.6v0.7h-7.6zM381.2 633.31h7.6v0.6h-7.6zM381.2 636.46h7.6v0.8h-7.6zM381.2 641.57h7.6v0.6h-7.6zM381.2 647.53h7.6v0.6h-7.6zM381.2 650.98h7.6v0.6h-7.6zM381.2 654.13h7.6v0.8h-7.6zM381.2 657.92h7.6v0.8h-7.6zM381.2 667.48h7.6v0.7h-7.6zM381.2 678.61h7.6v0.7h-7.6zM381.2 688.66h7.6v0.8h-7.6zM381.2 699.05h7.6v1h-7.6zM381.2 711.79h7.6v1.2h-7.6zM381.2 721.36h7.6v1.2h-7.6zM381.2 724.11h7.6v0.6h-7.6zM381.2 731.14h7.6v0.7h-7.6z"/>
<path fill="#12a550" opacity="0.68" d="M381.2 529.5h7.6v0.6h-7.6zM381.2 601.76h7.6v1h-7.6zM381.2 622.53h7.6v1.2h-7.6zM381.2 694.65h7.6v0.6h-7.6zM381.2 708.29h7.6v0.6h-7.6zM381.2 717.9h7.6v1h-7.6zM381.2 727.38h7.6v1h-7.6zM381.2 734.71h7.6v1.2h-7.6zM381.2 740.34h7.6v0.8h-7.6zM381.2 743.9h7.6v0.6h-7.6z"/>
<path fill="#2db4ee" opacity="0.68" d="M381.2 559.31h7.6v0.6h-7.6zM381.2 561.38h7.6v0.6h-7.6zM381.2 580.07h7.6v0.8h-7.6z"/>
<path fill="#0fa98c" opacity="0.68" d="M381.2 568.39h7.6v0.6h-7.6zM381.2 572.41h7.6v0.8h-7.6zM381.2 576.36h7.6v0.6h-7.6z"/>
<path fill="#f3e535" opacity="0.68" d="M381.2 626.08h7.6v0.6h-7.6zM381.2 639.46h7.6v0.6h-7.6z"/>
</g>
<rect x="382.2" y="513" width="0.45" height="240" fill="#0d6b4a" opacity="0.35"/>
<rect x="387.35" y="513" width="0.45" height="240" fill="#0d6b4a" opacity="0.35"/>
</g>
<g filter="url(#sb)">
<rect x="413.9" y="516.9" width="8.8" height="232.4" fill="#d9eef0" opacity="0.55"/>
<path fill="#c8ccd5" d="M411.5 517.19h4v0.6h-4zM411.5 535.79h4v1h-4zM411.5 592.09h4v1.5h-4zM411.5 594.09h4v0.6h-4zM411.86 660.69h3.64v0.8h-3.64zM411.5 692.29h4v0.8h-4zM411.5 693.59h4v0.8h-4zM411.5 700.89h4v1h-4zM411.5 715.19h4v0.7h-4zM411.5 721.39h4v1h-4zM411.5 726.29h4v1.5h-4zM421.1 536.07h4v2h-4zM421.1 550.57h2.47v1h-2.47zM421.1 570.57h4v0.8h-4zM421.1 596.07h4v0.7h-4zM421.1 629.37h3.69v1h-3.69zM421.1 631.97h3.7v1h-3.7zM421.1 633.27h4v1.5h-4zM421.1 691.47h4v1h-4zM421.1 698.17h4v0.7h-4z"/>
<path fill="#c2c7d1" d="M411.5 518.09h4v0.7h-4zM411.5 544.09h4v0.5h-4zM411.5 565.89h4v0.7h-4zM411.5 566.89h4v1.2h-4zM411.5 595.89h4v1h-4zM411.5 630.29h4v0.5h-4zM411.5 697.59h4v0.7h-4zM411.5 736.79h4v0.5h-4zM421.1 522.97h4v0.5h-4zM421.1 527.17h4v1h-4zM421.1 533.27h4v0.7h-4zM421.1 559.97h2.55v0.5h-2.55zM421.1 573.77h4v0.8h-4zM421.1 575.27h4v0.8h-4zM421.1 588.47h4v1.5h-4zM421.1 591.57h4v0.6h-4zM421.1 609.77h4v1.2h-4zM421.1 612.17h4v0.7h-4zM421.1 675.07h4v1.2h-4zM421.1 693.17h4v0.8h-4zM421.1 712.07h3.57v1.5h-3.57z"/>
<path fill="#ced1d9" d="M412.63 519.99h2.87v0.6h-2.87zM411.5 548.59h4v2h-4zM411.5 563.69h4v1.5h-4zM411.5 577.39h4v1.2h-4zM411.5 624.69h4v1.2h-4zM411.5 652.99h4v1.2h-4zM411.5 657.89h4v0.6h-4zM411.5 663.89h4v0.5h-4zM411.5 670.39h4v1.5h-4zM411.5 674.29h4v0.5h-4zM411.5 711.39h4v1h-4zM411.5 742.19h4v1.2h-4zM421.1 517.87h4v0.7h-4zM421.1 534.47h4v0.7h-4zM421.1 544.67h4v1.2h-4zM421.1 580.17h4v2h-4zM421.1 584.57h4v1.5h-4zM421.1 601.27h4v0.6h-4zM421.1 606.87h4v2h-4zM421.1 673.87h4v0.7h-4zM421.1 686.07h4v0.7h-4zM421.1 697.17h4v0.7h-4zM421.1 699.77h4v1.2h-4zM421.1 702.17h4v1.5h-4z"/>
<path fill="#d5d8df" d="M411.5 521.09h4v0.6h-4zM411.5 539.99h4v0.6h-4zM411.5 542.19h4v1.2h-4zM411.5 560.69h4v0.6h-4zM411.5 584.79h4v1.5h-4zM411.5 597.39h4v0.8h-4zM411.5 600.59h4v0.5h-4zM411.5 603.19h4v1.5h-4zM412.85 606.39h2.65v2h-2.65zM411.5 635.29h4v2h-4zM411.5 665.99h4v2h-4zM411.5 678.09h4v1.5h-4zM411.5 704.79h4v1h-4zM421.1 525.87h4v0.6h-4zM421.1 564.77h4v1.5h-4zM421.1 669.67h4v1.2h-4zM421.1 689.97h2.93v1.2h-2.93zM421.1 725.47h4v1.5h-4zM421.1 727.87h3.34v0.6h-3.34z"/>
<path fill="#9ba2b0" d="M411.5 522.89h4v1.2h-4zM411.5 526.49h4v2h-4zM412.96 530.09h2.54v1h-2.54zM411.5 531.59h4v0.7h-4zM411.9 579.79h3.6v0.5h-3.6zM411.5 587.49h4v1h-4zM411.5 627.49h4v1.2h-4zM411.5 631.09h4v1h-4zM411.5 643.39h4v2h-4zM412.36 659.19h3.14v1.2h-3.14zM411.5 681.99h4v1.5h-4zM411.5 691.29h4v0.7h-4zM411.5 706.09h4v1h-4zM411.5 710.29h4v0.6h-4zM411.5 712.69h4v2h-4zM411.5 716.79h4v0.8h-4zM411.5 724.29h4v1.5h-4zM411.5 745.79h4v1h-4zM421.1 556.17h4v0.6h-4zM421.1 578.17h4v1.5h-4zM421.1 605.07h4v1.5h-4zM421.1 637.17h4v1h-4zM421.1 650.37h3.16v0.7h-3.16zM421.1 651.77h4v1h-4zM421.1 662.37h4v2h-4zM421.1 667.57h4v1.2h-4zM421.1 706.07h4v0.5h-4zM421.1 735.27h4v1h-4zM421.1 739.47h3.15v2h-3.15zM421.1 742.17h4v1h-4zM421.1 748.57h4v0.73h-4z"/>
<path fill="#babfcb" d="M411.5 532.99h4v0.8h-4zM411.5 534.29h4v1h-4zM411.5 556.49h4v1h-4zM412.18 581.89h3.32v2h-3.32zM411.5 589.69h4v1.5h-4zM411.5 612.99h4v0.7h-4zM411.5 617.99h4v2h-4zM411.5 622.39h4v2h-4zM411.5 648.79h4v1h-4zM411.82 675.49h3.68v1h-3.68zM411.5 688.99h4v2h-4zM411.5 703.09h4v0.5h-4zM411.5 707.39h4v0.5h-4zM411.5 722.89h4v0.7h-4zM421.1 538.57h3.3v1.2h-3.3zM421.1 540.47h4v1.5h-4zM421.1 543.17h4v0.6h-4zM421.1 599.97h3.71v0.8h-3.71zM421.1 617.67h4v0.5h-4zM421.1 618.67h4v1.2h-4zM421.1 640.57h4v2h-4zM421.1 655.17h3.66v1h-3.66zM421.1 681.87h4v1h-4zM421.1 716.77h2.82v0.6h-2.82zM421.1 721.07h4v2h-4zM421.1 731.67h4v2h-4z"/>
<path fill="#f0e07a" d="M411.5 547.79h4v0.5h-4zM411.5 574.39h4v0.6h-4zM411.5 640.49h4v2h-4zM411.5 646.99h4v0.6h-4zM411.5 655.79h4v1.2h-4zM411.5 685.09h4v0.7h-4zM411.5 718.79h4v1h-4zM411.5 729.39h4v2h-4zM421.1 519.77h4v0.8h-4zM421.1 552.77h4v1h-4zM421.1 646.67h4v0.5h-4zM421.1 658.57h4v1.5h-4zM421.1 679.47h4v0.8h-4zM421.1 718.07h4v0.6h-4z"/>
<path fill="#abb1be" d="M411.5 553.79h4v2h-4zM411.5 571.29h4v1.5h-4zM411.5 601.39h4v1.5h-4zM411.5 605.39h4v0.5h-4zM411.5 610.79h4v1.5h-4zM411.5 616.09h4v0.7h-4zM411.5 698.79h4v1.2h-4zM411.5 734.59h4v1h-4zM411.5 737.79h4v1.2h-4zM411.5 743.89h4v1h-4zM421.1 531.37h4v0.7h-4zM421.1 546.37h4v1h-4zM421.1 562.07h4v1.5h-4zM421.1 567.87h4v2h-4zM421.1 576.97h4v0.7h-4zM421.1 592.47h4v2h-4zM421.1 620.37h4v0.8h-4zM421.1 621.47h4v0.8h-4zM421.1 642.87h4v0.6h-4zM421.1 661.27h4v0.6h-4zM421.1 672.07h4v1.5h-4zM421.1 689.17h4v0.5h-4zM421.1 708.97h4v1.5h-4zM421.1 744.37h3.43v1h-3.43z"/>
<path fill="#f2c274" d="M421.1 613.77h4v1.5h-4zM421.1 624.67h4v1.5h-4z"/>
</g>
<rect x="408.4" y="514.1" width="19.8" height="2.8" fill="#e23e94"/>
<rect x="410.6" y="515.15" width="3.6" height="0.7" fill="#f58fc0" opacity="0.8"/>
<rect x="422.3" y="515.15" width="3.6" height="0.7" fill="#f58fc0" opacity="0.8"/>
<rect x="408.4" y="749.3" width="19.8" height="3.8" fill="#e23e94"/>
<rect x="412.1" y="749.7" width="2.8" height="3" fill="#f2b040" opacity="0.8"/>
<rect x="422.3" y="750.85" width="3.6" height="0.7" fill="#f58fc0" opacity="0.8"/>
<clipPath id="cb14"><rect x="415.5" y="514.1" width="5.6" height="239"/></clipPath>
<g clip-path="url(#cb14)"><g filter="url(#vb2)">
<rect x="414.5" y="510.1" width="7.6" height="6.85" fill="#1ba4e4"/>
<rect x="414.5" y="516.9" width="7.6" height="1.62" fill="#1ba4e4"/>
<rect x="414.5" y="518.47" width="7.6" height="7.71" fill="#12a550"/>
<rect x="414.5" y="526.13" width="7.6" height="3.33" fill="#a8d33c"/>
<rect x="414.5" y="529.41" width="7.6" height="7.71" fill="#12a550"/>
<rect x="414.5" y="537.08" width="7.6" height="4.43" fill="#a8d33c"/>
<rect x="414.5" y="541.46" width="7.6" height="14.28" fill="#f3e535"/>
<rect x="414.5" y="555.69" width="7.6" height="4.43" fill="#12a550"/>
<rect x="414.5" y="560.07" width="7.6" height="0.77" fill="#f4902d"/>
<rect x="414.5" y="560.79" width="7.6" height="1.89" fill="#ee3f2e"/>
<rect x="414.5" y="562.63" width="7.6" height="0.77" fill="#f8c230"/>
<rect x="414.5" y="563.35" width="7.6" height="6.62" fill="#12a550"/>
<rect x="414.5" y="569.92" width="7.6" height="4.43" fill="#f3e535"/>
<rect x="414.5" y="574.3" width="7.6" height="6.62" fill="#12a550"/>
<rect x="414.5" y="580.87" width="7.6" height="5.52" fill="#a8d33c"/>
<rect x="414.5" y="586.34" width="7.6" height="8.81" fill="#12a550"/>
<rect x="414.5" y="595.1" width="7.6" height="3.33" fill="#a8d33c"/>
<rect x="414.5" y="598.39" width="7.6" height="9.9" fill="#12a550"/>
<rect x="414.5" y="608.24" width="7.6" height="3.33" fill="#a8d33c"/>
<rect x="414.5" y="611.52" width="7.6" height="14.28" fill="#12a550"/>
<rect x="414.5" y="625.76" width="7.6" height="1.01" fill="#f4902d"/>
<rect x="414.5" y="626.72" width="7.6" height="2.5" fill="#b5522a"/>
<rect x="414.5" y="629.17" width="7.6" height="1.01" fill="#f8c230"/>
<rect x="414.5" y="630.14" width="7.6" height="9.9" fill="#f8c230"/>
<rect x="414.5" y="639.99" width="7.6" height="2.1" fill="#f3e535"/>
<rect x="414.5" y="642.04" width="7.6" height="0.77" fill="#f4902d"/>
<rect x="414.5" y="642.77" width="7.6" height="1.89" fill="#b5522a"/>
<rect x="414.5" y="644.6" width="7.6" height="0.77" fill="#f8c230"/>
<rect x="414.5" y="645.33" width="7.6" height="6.62" fill="#12a550"/>
<rect x="414.5" y="651.9" width="7.6" height="3.33" fill="#a8d33c"/>
<rect x="414.5" y="655.18" width="7.6" height="3.33" fill="#12a550"/>
<rect x="414.5" y="658.47" width="7.6" height="6.62" fill="#f3e535"/>
<rect x="414.5" y="665.03" width="7.6" height="32.89" fill="#12a550"/>
<rect x="414.5" y="697.88" width="7.6" height="1.23" fill="#f8c230"/>
<rect x="414.5" y="699.06" width="7.6" height="2.06" fill="#f4902d"/>
<rect x="414.5" y="701.08" width="7.6" height="1.23" fill="#f3e535"/>
<rect x="414.5" y="702.26" width="7.6" height="4.43" fill="#f3e535"/>
<rect x="414.5" y="706.64" width="7.6" height="6.62" fill="#12a550"/>
<rect x="414.5" y="713.21" width="7.6" height="3.33" fill="#a8d33c"/>
<rect x="414.5" y="716.49" width="7.6" height="3.33" fill="#12a550"/>
<rect x="414.5" y="719.77" width="7.6" height="4.43" fill="#f3e535"/>
<rect x="414.5" y="724.15" width="7.6" height="5.52" fill="#12a550"/>
<rect x="414.5" y="729.63" width="7.6" height="2.9" fill="#a8d33c"/>
<rect x="414.5" y="732.47" width="7.6" height="7.06" fill="#12a550"/>
<rect x="414.5" y="739.48" width="7.6" height="4.43" fill="#0fa98c"/>
<rect x="414.5" y="743.86" width="7.6" height="5.49" fill="#12a550"/>
<rect x="414.5" y="749.3" width="7.6" height="3.85" fill="#3a2a1a"/>
<rect x="414.5" y="753.1" width="7.6" height="4" fill="#3a2a1a"/>
<path fill="#2db4ee" opacity="0.68" d="M414.5 515.03h7.6v0.6h-7.6z"/>
<path fill="#f3e535" opacity="0.68" d="M414.5 519.47h7.6v0.6h-7.6zM414.5 568.06h7.6v1.2h-7.6zM414.5 575.41h7.6v1.2h-7.6zM414.5 596.19h7.6v0.8h-7.6zM414.5 616.05h7.6v1.2h-7.6zM414.5 649h7.6v0.6h-7.6zM414.5 663.65h7.6v0.8h-7.6zM414.5 703.23h7.6v0.8h-7.6z"/>
<path fill="#3fb64a" opacity="0.68" d="M414.5 522.92h7.6v0.8h-7.6zM414.5 530.54h7.6v1h-7.6zM414.5 554.33h7.6v0.6h-7.6zM414.5 557.53h7.6v1h-7.6zM414.5 578.49h7.6v1.2h-7.6zM414.5 591.53h7.6v0.7h-7.6zM414.5 623.43h7.6v0.7h-7.6zM414.5 631.76h7.6v0.6h-7.6zM414.5 646.39h7.6v0.6h-7.6zM414.5 674.23h7.6v0.6h-7.6zM414.5 676.57h7.6v1.2h-7.6zM414.5 680.38h7.6v0.8h-7.6zM414.5 682.96h7.6v0.6h-7.6zM414.5 688h7.6v0.6h-7.6zM414.5 695.7h7.6v0.7h-7.6zM414.5 712.37h7.6v0.7h-7.6zM414.5 725.6h7.6v1.2h-7.6zM414.5 733.28h7.6v0.7h-7.6zM414.5 735.75h7.6v0.6h-7.6zM414.5 740.52h7.6v0.6h-7.6zM414.5 747.29h7.6v0.6h-7.6z"/>
<path fill="#12a550" opacity="0.68" d="M414.5 527.64h7.6v0.7h-7.6zM414.5 538.54h7.6v0.8h-7.6zM414.5 550.15h7.6v0.8h-7.6zM414.5 571.78h7.6v1h-7.6zM414.5 582.54h7.6v1.2h-7.6zM414.5 609.77h7.6v0.7h-7.6zM414.5 635.55h7.6v0.7h-7.6zM414.5 653.54h7.6v1h-7.6zM414.5 660h7.6v0.7h-7.6zM414.5 714.1h7.6v0.7h-7.6zM414.5 721.66h7.6v1h-7.6zM414.5 731.22h7.6v0.7h-7.6z"/>
<path fill="#a8d33c" opacity="0.68" d="M414.5 533.67h7.6v1h-7.6zM414.5 542.5h7.6v0.7h-7.6zM414.5 545.75h7.6v1.2h-7.6zM414.5 564.53h7.6v0.6h-7.6zM414.5 587.35h7.6v0.7h-7.6zM414.5 600.12h7.6v1h-7.6zM414.5 603.9h7.6v1.2h-7.6zM414.5 612.72h7.6v1.2h-7.6zM414.5 619.09h7.6v0.8h-7.6zM414.5 638.08h7.6v0.7h-7.6zM414.5 656.53h7.6v1.2h-7.6zM414.5 666.36h7.6v1h-7.6zM414.5 670.77h7.6v0.8h-7.6zM414.5 685.59h7.6v1.2h-7.6zM414.5 692.01h7.6v1h-7.6zM414.5 708.13h7.6v1.2h-7.6zM414.5 717.66h7.6v1.2h-7.6zM414.5 728.67h7.6v0.8h-7.6zM414.5 745.3h7.6v0.6h-7.6z"/>
</g>
<rect x="415.5" y="514.1" width="0.45" height="239" fill="#0d6b4a" opacity="0.35"/>
<rect x="420.65" y="514.1" width="0.45" height="239" fill="#0d6b4a" opacity="0.35"/>
</g>
<g filter="url(#sb)">
<rect x="447.4" y="504.4" width="8.8" height="248.5" fill="#d9eef0" opacity="0.55"/>
<path fill="#c2c7d1" d="M445 505.48h4v0.8h-4zM445 517.88h4v0.5h-4zM445.74 525.48h3.26v0.7h-3.26zM445 529.38h4v1h-4zM445 534.58h4v0.5h-4zM445 540.88h4v0.7h-4zM445 544.48h4v1.2h-4zM445 562.08h4v2h-4zM445 597.08h4v0.5h-4zM445 608.28h4v0.7h-4zM445 623.38h4v0.6h-4zM445 634.68h4v0.7h-4zM445 643.78h4v2h-4zM445 663.28h4v0.8h-4zM445 692.68h4v2h-4zM445 702.88h4v0.7h-4zM445 720.78h4v1.5h-4zM454.6 552.99h4v1.2h-4zM454.6 588.99h4v0.5h-4zM454.6 591.09h3.4v2h-3.4zM454.6 626.29h4v2h-4zM454.6 646.79h4v1.2h-4zM454.6 664.19h4v0.7h-4zM454.6 668.09h4v0.7h-4zM454.6 683.09h4v0.6h-4zM454.6 684.59h4v0.5h-4zM454.6 706.89h4v1h-4zM454.6 710.19h2.74v0.8h-2.74zM454.6 715.79h4v1h-4zM454.6 722.79h4v1.2h-4zM454.6 738.69h4v0.7h-4zM454.6 745.09h3.49v1.2h-3.49z"/>
<path fill="#d5d8df" d="M445 507.48h4v1h-4zM445 570.78h4v1.2h-4zM446.33 572.28h2.67v0.5h-2.67zM445 585.78h4v1h-4zM445 620.38h4v0.6h-4zM445 661.08h4v1h-4zM445 664.58h4v1.2h-4zM445 674.78h4v0.7h-4zM445 700.28h4v1h-4zM445 715.38h4v0.6h-4zM445 718.38h4v0.7h-4zM445.47 744.88h3.53v2h-3.53zM445 747.78h4v0.5h-4zM454.6 504.89h4v0.6h-4zM454.6 522.59h4v0.5h-4zM454.6 524.69h4v0.6h-4zM454.6 530.89h3.16v2h-3.16zM454.6 536.29h4v0.8h-4zM454.6 559.99h4v2h-4zM454.6 565.29h2.76v0.6h-2.76zM454.6 569.09h4v0.5h-4zM454.6 617.59h3.3v2h-3.3zM454.6 636.39h4v0.6h-4zM454.6 670.99h4v1.2h-4zM454.6 691.99h4v0.8h-4zM454.6 695.99h4v1.5h-4zM454.6 708.19h4v1.5h-4zM454.6 750.39h4v2h-4z"/>
<path fill="#f0e07a" d="M445.48 509.18h3.52v0.7h-3.52zM446.03 626.28h2.97v1.5h-2.97zM445 636.08h4v0.7h-4zM445 733.28h4v2h-4zM454.6 520.59h4v0.8h-4zM454.6 611.49h4v0.5h-4zM454.6 663.09h3.22v0.8h-3.22zM454.6 690.19h4v1.5h-4zM454.6 700.69h2.61v0.6h-2.61zM454.6 705.09h4v1.5h-4zM454.6 740.29h4v0.6h-4zM454.6 748.69h4v0.5h-4z"/>
<path fill="#ced1d9" d="M445 513.08h4v0.8h-4zM445 542.08h4v1.2h-4zM445 618.48h4v0.7h-4zM445 633.88h4v0.5h-4zM445 637.98h4v1.2h-4zM445 642.88h4v0.6h-4zM445 653.68h4v0.6h-4zM445 680.58h4v2h-4zM445 684.58h4v0.7h-4zM445 686.98h4v0.8h-4zM445 690.18h4v2h-4zM445 722.98h4v0.6h-4zM445 749.48h4v1h-4zM454.6 506.39h4v0.7h-4zM454.6 544.39h4v0.6h-4zM454.6 551.29h4v1.2h-4zM454.6 558.99h4v0.5h-4zM454.6 570.49h3.21v0.8h-3.21zM454.6 582.39h3.62v1h-3.62zM454.6 593.79h4v1.2h-4zM454.6 614.39h4v0.8h-4zM454.6 622.09h4v1h-4zM454.6 649.59h4v2h-4zM454.6 674.59h4v0.6h-4zM454.6 688.29h4v0.7h-4zM454.6 712.59h4v0.8h-4zM454.6 717.99h3.26v0.8h-3.26zM454.6 730.29h4v2h-4z"/>
<path fill="#9ba2b0" d="M445 514.78h4v0.7h-4zM445 531.98h4v1h-4zM445 548.08h4v2h-4zM446.56 559.58h2.44v2h-2.44zM445 591.68h4v2h-4zM445 630.68h4v1h-4zM445.8 632.88h3.2v0.7h-3.2zM445 639.88h4v0.6h-4zM445 672.68h4v0.7h-4zM445 707.78h4v0.8h-4zM445 719.38h4v0.5h-4zM445 730.38h4v2h-4zM445 740.98h4v2h-4zM454.6 507.59h4v0.5h-4zM454.6 519.09h4v0.8h-4zM454.6 535.29h4v0.5h-4zM454.6 546.19h4v0.5h-4zM454.6 549.99h4v1h-4zM454.6 557.79h4v0.7h-4zM454.6 564.29h4v0.5h-4zM454.6 574.49h4v0.7h-4zM454.6 601.89h4v0.7h-4zM454.6 621.19h4v0.6h-4zM454.6 637.89h4v1h-4zM454.6 641.89h4v1.5h-4zM454.6 661.19h4v0.7h-4zM454.6 669.49h4v0.6h-4zM454.6 720.39h4v1.5h-4z"/>
<path fill="#c8ccd5" d="M445 519.28h4v1h-4zM445 522.68h4v1.2h-4zM445 567.08h4v0.8h-4zM445 569.48h4v0.8h-4zM445 579.68h4v0.8h-4zM445 582.88h4v2h-4zM445 594.88h4v0.6h-4zM445 606.48h4v0.6h-4zM445 610.58h4v2h-4zM445 615.78h4v1.5h-4zM445 660.28h4v0.5h-4zM445 673.68h4v0.8h-4zM445 677.88h4v2h-4zM445 698.08h4v0.6h-4zM446.02 705.58h2.98v1h-2.98zM445 711.78h4v2h-4zM445.48 716.48h3.52v1.2h-3.52zM445 724.78h4v1.5h-4zM445 743.48h4v0.7h-4zM454.6 516.69h4v1.5h-4zM454.6 542.39h4v1.5h-4zM454.6 547.39h4v1h-4zM454.6 575.49h2.69v0.6h-2.69zM454.6 578.99h4v1h-4zM454.6 598.99h4v2h-4zM454.6 603.69h4v0.8h-4zM454.6 644.59h2.74v1.5h-2.74zM454.6 655.19h4v0.5h-4zM454.6 727.19h4v2h-4zM454.6 733.49h4v2h-4z"/>
<path fill="#abb1be" d="M445 533.28h4v0.6h-4zM445 537.48h4v1h-4zM445 564.98h4v0.6h-4zM445 575.98h4v0.8h-4zM445 577.98h4v0.5h-4zM445 602.58h4v1.2h-4zM446.16 604.08h2.84v1.2h-2.84zM445 628.98h4v0.5h-4zM445.7 649.98h3.3v0.7h-3.3zM445 651.88h4v1.5h-4zM445.45 655.88h3.55v1.2h-3.55zM445 666.68h4v0.5h-4zM445 669.58h4v1.5h-4zM446.5 685.58h2.5v0.5h-2.5zM445 688.28h4v1h-4zM445 695.88h4v1.5h-4zM445 727.88h4v2h-4zM445 738.88h4v1.2h-4zM454.6 508.79h4v0.5h-4zM454.6 512.49h4v2h-4zM454.6 529.19h4v0.8h-4zM454.6 562.89h4v0.5h-4zM454.6 586.59h4v0.8h-4zM454.6 598.19h4v0.5h-4zM454.6 602.89h4v0.5h-4zM454.6 606.09h4v0.5h-4zM454.6 607.09h4v2h-4zM454.6 639.79h4v1.2h-4zM454.6 652.09h4v1.5h-4zM454.6 658.09h4v0.7h-4zM454.6 702.89h4v0.6h-4z"/>
<path fill="#babfcb" d="M445 551.28h4v1.2h-4zM445.87 552.78h3.13v0.7h-3.13zM445 556.68h4v0.5h-4zM445 566.08h4v0.5h-4zM445 589.18h4v2h-4zM445 598.78h4v0.6h-4zM445 621.28h4v1.2h-4zM445 624.68h4v0.7h-4zM446.44 646.08h2.56v0.7h-2.56zM445 683.08h4v0.6h-4zM445.47 703.88h3.53v1h-3.53zM445 737.68h4v0.7h-4zM454.6 514.79h3.31v1h-3.31zM454.6 526.49h4v2h-4zM454.6 540.29h4v0.5h-4zM454.6 555.39h4v1.2h-4zM454.6 576.59h4v0.8h-4zM454.6 631.49h4v1.5h-4zM454.6 633.49h4v0.5h-4zM454.6 678.39h4v1.5h-4zM454.6 729.49h4v0.5h-4z"/>
<path fill="#f2c274" d="M454.6 741.39h4v0.5h-4z"/>
</g>
<clipPath id="cb15"><rect x="449" y="504.4" width="5.6" height="248.5"/></clipPath>
<g clip-path="url(#cb15)"><g filter="url(#vb2)">
<rect x="448" y="500.4" width="7.6" height="5.78" fill="#1ba4e4"/>
<rect x="448" y="506.13" width="7.6" height="11.44" fill="#12a550"/>
<rect x="448" y="517.52" width="7.6" height="4.43" fill="#f3e535"/>
<rect x="448" y="521.9" width="7.6" height="3.33" fill="#12a550"/>
<rect x="448" y="525.18" width="7.6" height="4.43" fill="#f3e535"/>
<rect x="448" y="529.56" width="7.6" height="8.81" fill="#12a550"/>
<rect x="448" y="538.32" width="7.6" height="5.52" fill="#a8d33c"/>
<rect x="448" y="543.79" width="7.6" height="5.52" fill="#0fa98c"/>
<rect x="448" y="549.27" width="7.6" height="12.09" fill="#12a550"/>
<rect x="448" y="561.31" width="7.6" height="4.43" fill="#a8d33c"/>
<rect x="448" y="565.69" width="7.6" height="3.33" fill="#12a550"/>
<rect x="448" y="568.97" width="7.6" height="3.33" fill="#a8d33c"/>
<rect x="448" y="572.26" width="7.6" height="3.33" fill="#12a550"/>
<rect x="448" y="575.54" width="7.6" height="3.33" fill="#f3e535"/>
<rect x="448" y="578.83" width="7.6" height="13.19" fill="#12a550"/>
<rect x="448" y="591.96" width="7.6" height="3.33" fill="#a8d33c"/>
<rect x="448" y="595.25" width="7.6" height="9.9" fill="#12a550"/>
<rect x="448" y="605.1" width="7.6" height="4.43" fill="#a8d33c"/>
<rect x="448" y="609.48" width="7.6" height="6.62" fill="#12a550"/>
<rect x="448" y="616.05" width="7.6" height="5.52" fill="#f8c230"/>
<rect x="448" y="621.52" width="7.6" height="5.52" fill="#12a550"/>
<rect x="448" y="627" width="7.6" height="6.62" fill="#a8d33c"/>
<rect x="448" y="633.57" width="7.6" height="16.47" fill="#12a550"/>
<rect x="448" y="649.99" width="7.6" height="3.2" fill="#12a550"/>
<rect x="448" y="653.14" width="7.6" height="1.8" fill="#0fa98c"/>
<rect x="448" y="654.89" width="7.6" height="8.81" fill="#14a5c6"/>
<rect x="448" y="663.65" width="7.6" height="1.36" fill="#3a2a1a"/>
<rect x="448" y="664.96" width="7.6" height="4.65" fill="#12a550"/>
<rect x="448" y="669.56" width="7.6" height="6.62" fill="#1ba4e4"/>
<rect x="448" y="676.13" width="7.6" height="6.62" fill="#12a550"/>
<rect x="448" y="682.7" width="7.6" height="4.43" fill="#a8d33c"/>
<rect x="448" y="687.08" width="7.6" height="12.09" fill="#12a550"/>
<rect x="448" y="699.12" width="7.6" height="3.33" fill="#f3e535"/>
<rect x="448" y="702.4" width="7.6" height="14.28" fill="#12a550"/>
<rect x="448" y="716.64" width="7.6" height="3.33" fill="#f3e535"/>
<rect x="448" y="719.92" width="7.6" height="14.28" fill="#12a550"/>
<rect x="448" y="734.15" width="7.6" height="3.33" fill="#a8d33c"/>
<rect x="448" y="737.44" width="7.6" height="13.19" fill="#12a550"/>
<rect x="448" y="750.58" width="7.6" height="2.24" fill="#1ba4e4"/>
<rect x="448" y="752.77" width="7.6" height="0.18" fill="#1ba4e4"/>
<rect x="448" y="752.9" width="7.6" height="4" fill="#1ba4e4"/>
<path fill="#3fb64a" opacity="0.68" d="M448 507.01h7.6v1.2h-7.6zM448 510.97h7.6v0.8h-7.6zM448 534.63h7.6v0.8h-7.6zM448 555.14h7.6v0.6h-7.6zM448 579.92h7.6v1h-7.6zM448 586.51h7.6v0.6h-7.6zM448 593.6h7.6v0.8h-7.6zM448 613.5h7.6v0.7h-7.6zM448 634.76h7.6v1.2h-7.6zM448 643.43h7.6v0.8h-7.6zM448 692h7.6v0.7h-7.6zM448 703.74h7.6v0.6h-7.6zM448 732.29h7.6v1h-7.6zM448 741.3h7.6v1h-7.6zM448 749.31h7.6v0.7h-7.6z"/>
<path fill="#f3e535" opacity="0.68" d="M448 514.25h7.6v0.8h-7.6zM448 519.15h7.6v1.2h-7.6zM448 527.12h7.6v1.2h-7.6zM448 550.63h7.6v1.2h-7.6zM448 562.15h7.6v0.8h-7.6zM448 577.2h7.6v0.6h-7.6zM448 596.69h7.6v0.7h-7.6zM448 624.94h7.6v0.8h-7.6zM448 627.98h7.6v0.7h-7.6zM448 640.76h7.6v0.6h-7.6zM448 689.04h7.6v1.2h-7.6z"/>
<path fill="#a8d33c" opacity="0.68" d="M448 522.97h7.6v1h-7.6zM448 531.29h7.6v0.6h-7.6zM448 545.44h7.6v0.8h-7.6zM448 558.17h7.6v0.6h-7.6zM448 564.43h7.6v0.8h-7.6zM448 566.61h7.6v1h-7.6zM448 574.24h7.6v0.6h-7.6zM448 584.3h7.6v0.8h-7.6zM448 590.52h7.6v1h-7.6zM448 600.25h7.6v0.6h-7.6zM448 602.49h7.6v0.7h-7.6zM448 610.39h7.6v0.8h-7.6zM448 622.36h7.6v0.6h-7.6zM448 638.4h7.6v0.7h-7.6zM448 647.59h7.6v0.7h-7.6zM448 650.92h7.6v1.2h-7.6zM448 656.36h7.6v0.7h-7.6zM448 660.22h7.6v1.2h-7.6zM448 666.82h7.6v0.8h-7.6zM448 677.82h7.6v0.8h-7.6zM448 680.8h7.6v0.8h-7.6zM448 693.93h7.6v1.2h-7.6zM448 696.52h7.6v1h-7.6zM448 706.29h7.6v1.2h-7.6zM448 710.14h7.6v0.6h-7.6zM448 714.21h7.6v1.2h-7.6zM448 721.41h7.6v0.7h-7.6zM448 725.53h7.6v0.6h-7.6zM448 729.48h7.6v0.6h-7.6zM448 738.71h7.6v1.2h-7.6zM448 745.43h7.6v0.7h-7.6z"/>
<path fill="#12a550" opacity="0.68" d="M448 539.19h7.6v0.8h-7.6zM448 570.28h7.6v1.2h-7.6zM448 606.2h7.6v0.8h-7.6zM448 617.68h7.6v1h-7.6zM448 620.6h7.6v0.6h-7.6zM448 631.77h7.6v0.6h-7.6zM448 684.23h7.6v0.8h-7.6zM448 700.54h7.6v1.2h-7.6zM448 718.61h7.6v0.7h-7.6zM448 735.45h7.6v1h-7.6z"/>
<path fill="#2db4ee" opacity="0.68" d="M448 670.46h7.6v0.6h-7.6z"/>
<path fill="#0fa98c" opacity="0.68" d="M448 672.49h7.6v0.8h-7.6z"/>
</g>
<rect x="449" y="504.4" width="0.45" height="248.5" fill="#0d6b4a" opacity="0.35"/>
<rect x="454.15" y="504.4" width="0.45" height="248.5" fill="#0d6b4a" opacity="0.35"/>
</g>
<g filter="url(#sb)">
<rect x="480.6" y="504.8" width="8.8" height="248.1" fill="#d9eef0" opacity="0.55"/>
<path fill="#f0e07a" d="M478.2 505.79h4v1h-4zM478.2 540.49h4v0.6h-4zM479.67 569.49h2.53v1.5h-2.53zM478.2 585.89h4v0.8h-4zM478.2 594.59h4v0.5h-4zM478.2 622.79h4v0.5h-4zM478.67 658.39h3.53v1.2h-3.53zM479.77 685.39h2.43v1.5h-2.43zM478.2 726.19h4v2h-4zM478.2 729.39h4v1.2h-4zM487.8 541.61h4v0.6h-4zM487.8 589.81h4v0.7h-4zM487.8 614.71h4v0.6h-4zM487.8 629.71h4v0.6h-4zM487.8 637.71h4v0.7h-4zM487.8 666.71h4v0.6h-4zM487.8 709.91h4v1.2h-4zM487.8 716.01h4v1h-4zM487.8 723.41h4v1.5h-4z"/>
<path fill="#c8ccd5" d="M478.2 507.49h4v2h-4zM478.2 555.69h4v1h-4zM478.2 591.39h4v2h-4zM478.2 627.29h4v1.5h-4zM478.2 633.69h4v0.6h-4zM478.2 638.99h4v0.6h-4zM478.2 717.59h4v2h-4zM478.2 732.99h4v1h-4zM478.2 742.79h4v0.7h-4zM487.8 533.11h4v0.5h-4zM487.8 564.71h4v0.7h-4zM487.8 565.91h2.65v0.6h-2.65zM487.8 602.51h4v0.5h-4zM487.8 610.21h3.28v0.6h-3.28zM487.8 714.31h4v1.2h-4zM487.8 747.81h4v0.6h-4zM487.8 750.31h4v1.5h-4z"/>
<path fill="#abb1be" d="M479.08 511.89h3.12v0.6h-3.12zM478.2 535.19h4v1.2h-4zM478.2 541.79h4v1.2h-4zM478.2 549.89h4v1.5h-4zM478.2 551.69h4v0.6h-4zM478.2 560.99h4v1h-4zM478.2 583.69h4v1h-4zM478.2 609.79h4v0.6h-4zM478.2 624.49h4v0.8h-4zM479.44 625.59h2.76v0.5h-2.76zM478.2 635.49h4v1.5h-4zM478.2 645.59h4v0.6h-4zM479.69 651.79h2.51v1h-2.51zM478.2 655.19h4v2h-4zM479.29 665.69h2.91v0.6h-2.91zM478.2 720.29h4v1h-4zM478.2 734.49h4v1h-4zM478.2 737.69h4v0.5h-4zM487.8 505.21h4v1h-4zM487.8 509.91h3.39v0.6h-3.39zM487.8 519.61h4v0.8h-4zM487.8 528.61h4v2h-4zM487.8 535.61h4v0.7h-4zM487.8 547.11h4v1h-4zM487.8 549.31h4v2h-4zM487.8 553.51h4v1.2h-4zM487.8 567.71h3.12v1.2h-3.12zM487.8 575.31h4v0.7h-4zM487.8 576.71h4v0.7h-4zM487.8 591.21h3.61v0.8h-3.61zM487.8 592.31h4v0.5h-4zM487.8 598.61h2.55v0.7h-2.55zM487.8 611.71h4v0.7h-4zM487.8 639.61h4v1h-4zM487.8 641.11h2.93v1.2h-2.93zM487.8 654.11h4v0.8h-4zM487.8 668.21h2.59v1h-2.59zM487.8 684.01h4v1.5h-4zM487.8 692.51h4v2h-4zM487.8 696.71h4v0.6h-4zM487.8 735.21h4v0.8h-4zM487.8 737.61h4v1h-4z"/>
<path fill="#ced1d9" d="M478.2 515.69h4v0.5h-4zM478.2 526.79h4v1h-4zM479.21 544.69h2.99v2h-2.99zM478.2 601.49h4v0.6h-4zM478.2 641.19h4v0.5h-4zM478.2 679.09h4v0.6h-4zM479.72 680.59h2.48v0.5h-2.48zM478.2 682.29h4v1.5h-4zM478.2 693.29h4v0.6h-4zM478.2 694.59h4v0.5h-4zM487.8 510.81h4v1h-4zM487.8 524.41h2.71v1h-2.71zM487.8 544.61h4v2h-4zM487.8 571.31h2.96v0.8h-2.96zM487.8 615.81h4v1.2h-4zM487.8 620.21h4v1.5h-4zM487.8 643.91h4v0.7h-4zM487.8 646.51h4v2h-4zM487.8 651.71h4v1.2h-4zM487.8 690.31h3.43v1.5h-3.43zM487.8 699.71h4v0.5h-4zM487.8 738.91h4v2h-4zM487.8 752.31h4v0.59h-4z"/>
<path fill="#c2c7d1" d="M478.2 518.59h4v2h-4zM478.2 523.79h4v0.6h-4zM478.2 543.29h4v0.7h-4zM478.2 563.59h4v1.5h-4zM478.2 575.09h4v2h-4zM479.48 581.49h2.72v0.6h-2.72zM478.2 582.39h4v0.8h-4zM478.2 611.09h4v0.5h-4zM478.88 614.79h3.32v1h-3.32zM478.2 674.69h4v1.2h-4zM478.2 698.29h4v0.6h-4zM478.2 705.09h4v0.7h-4zM478.2 713.69h4v1.5h-4zM478.2 744.69h4v0.5h-4zM478.2 745.69h4v1.5h-4zM487.8 533.91h4v0.5h-4zM487.8 551.81h4v1h-4zM487.8 584.81h4v0.8h-4zM487.8 593.51h4v0.5h-4zM487.8 604.71h4v2h-4zM487.8 624.91h4v0.7h-4zM487.8 655.81h2.47v0.5h-2.47zM487.8 663.11h4v2h-4zM487.8 669.51h2.88v1h-2.88zM487.8 676.81h4v0.7h-4zM487.8 720.21h4v2h-4zM487.8 727.31h4v2h-4zM487.8 741.81h4v1.2h-4z"/>
<path fill="#9ba2b0" d="M478.2 530.19h4v0.5h-4zM478.2 531.59h4v1.2h-4zM478.2 537.09h4v1h-4zM478.78 589.09h3.42v0.5h-3.42zM478.2 590.09h4v1h-4zM478.2 598.29h4v2h-4zM478.2 604.59h4v2h-4zM478.2 616.29h4v0.6h-4zM478.2 641.99h4v1.2h-4zM478.2 646.89h4v1h-4zM478.2 667.19h4v1h-4zM478.99 668.49h3.21v1h-3.21zM478.43 688.09h3.77v2h-3.77zM478.2 699.79h4v0.5h-4zM478.2 706.09h4v1h-4zM478.2 735.79h4v0.7h-4zM487.8 508.61h4v1h-4zM487.8 515.21h4v1.5h-4zM487.8 521.31h4v1.5h-4zM487.8 531.31h2.8v0.6h-2.8zM487.8 537.21h4v2h-4zM487.8 556.31h4v2h-4zM487.8 579.81h4v0.6h-4zM487.8 583.31h3.71v1h-3.71zM487.8 588.01h4v0.6h-4zM487.8 595.61h4v0.6h-4zM487.8 597.11h4v1h-4zM487.8 645.11h4v0.7h-4zM487.8 678.41h4v2h-4zM487.8 681.61h4v1.5h-4zM487.8 708.11h2.61v1.5h-2.61zM487.8 730.21h4v2h-4z"/>
<path fill="#d5d8df" d="M478.2 553.89h4v0.6h-4zM478.2 565.79h4v0.5h-4zM478.2 580.29h4v0.5h-4zM478.2 637.69h4v1h-4zM478.2 662.79h4v0.8h-4zM478.2 664.09h4v0.7h-4zM478.2 672.69h4v1.5h-4zM487.8 518.31h4v1h-4zM487.8 558.61h4v0.5h-4zM487.8 563.71h4v0.5h-4zM487.8 581.31h2.75v1.5h-2.75zM487.8 603.51h4v0.7h-4zM487.8 613.61h4v0.8h-4zM487.8 732.91h4v0.5h-4zM487.8 733.71h4v0.8h-4zM487.8 743.91h4v1.5h-4z"/>
<path fill="#f2c274" d="M478.2 558.29h4v1h-4zM478.2 630.89h4v1.2h-4zM478.2 752.19h4v0.6h-4zM487.8 560.71h4v0.6h-4zM487.8 626.81h4v2h-4z"/>
<path fill="#babfcb" d="M478.2 559.59h4v0.5h-4zM478.2 571.49h4v2h-4zM478.2 603.29h4v1h-4zM479.67 617.59h2.53v2h-2.53zM478.2 629.99h4v0.6h-4zM478.2 649.49h4v2h-4zM478.2 701.19h4v0.7h-4zM478.2 710.29h4v1h-4zM478.98 721.79h3.22v1.2h-3.22zM479.18 740.59h3.02v1.5h-3.02zM478.2 748.39h4v0.6h-4zM487.8 514.21h4v0.5h-4zM487.8 608.31h4v1.2h-4zM487.8 633.51h4v1h-4zM487.8 657.51h3.56v1.5h-3.56zM487.8 661.41h4v0.5h-4zM487.8 671.01h4v0.6h-4zM487.8 672.81h4v0.8h-4zM487.8 686.41h4v1.5h-4zM487.8 695.21h4v0.8h-4zM487.8 703.41h4v1.5h-4zM487.8 749.31h4v0.7h-4z"/>
</g>
<rect x="475.1" y="502.6" width="19.8" height="2.2" fill="#e23e94"/>
<rect x="477.3" y="503.35" width="3.6" height="0.7" fill="#f58fc0" opacity="0.8"/>
<rect x="489" y="503.35" width="3.6" height="0.7" fill="#f58fc0" opacity="0.8"/>
<clipPath id="cb16"><rect x="482.2" y="502.6" width="5.6" height="250.3"/></clipPath>
<g clip-path="url(#cb16)"><g filter="url(#vb2)">
<rect x="481.2" y="498.6" width="7.6" height="6.25" fill="#1ba4e4"/>
<rect x="481.2" y="504.8" width="7.6" height="8.39" fill="#12a550"/>
<rect x="481.2" y="513.14" width="7.6" height="2.68" fill="#a8d33c"/>
<rect x="481.2" y="515.77" width="7.6" height="12.75" fill="#12a550"/>
<rect x="481.2" y="528.47" width="7.6" height="8.81" fill="#0fa98c"/>
<rect x="481.2" y="537.22" width="7.6" height="19.76" fill="#12a550"/>
<rect x="481.2" y="556.93" width="7.6" height="4.43" fill="#a8d33c"/>
<rect x="481.2" y="561.31" width="7.6" height="8.81" fill="#12a550"/>
<rect x="481.2" y="570.07" width="7.6" height="6.62" fill="#f3e535"/>
<rect x="481.2" y="576.64" width="7.6" height="11" fill="#12a550"/>
<rect x="481.2" y="587.58" width="7.6" height="2.68" fill="#a8d33c"/>
<rect x="481.2" y="590.21" width="7.6" height="14.94" fill="#12a550"/>
<rect x="481.2" y="605.1" width="7.6" height="6.62" fill="#f3e535"/>
<rect x="481.2" y="611.67" width="7.6" height="12.09" fill="#12a550"/>
<rect x="481.2" y="623.71" width="7.6" height="6.62" fill="#1ba4e4"/>
<rect x="481.2" y="630.28" width="7.6" height="9.9" fill="#0fa98c"/>
<rect x="481.2" y="640.14" width="7.6" height="9.9" fill="#12a550"/>
<rect x="481.2" y="649.99" width="7.6" height="7.58" fill="#12a550"/>
<rect x="481.2" y="657.52" width="7.6" height="4.43" fill="#f3e535"/>
<rect x="481.2" y="661.9" width="7.6" height="13.19" fill="#12a550"/>
<rect x="481.2" y="675.03" width="7.6" height="4.43" fill="#f3e535"/>
<rect x="481.2" y="679.41" width="7.6" height="11" fill="#12a550"/>
<rect x="481.2" y="690.36" width="7.6" height="3.33" fill="#a8d33c"/>
<rect x="481.2" y="693.65" width="7.6" height="17.57" fill="#12a550"/>
<rect x="481.2" y="711.16" width="7.6" height="6.62" fill="#f3e535"/>
<rect x="481.2" y="717.73" width="7.6" height="6.62" fill="#12a550"/>
<rect x="481.2" y="724.3" width="7.6" height="3.33" fill="#f3e535"/>
<rect x="481.2" y="727.58" width="7.6" height="8.81" fill="#12a550"/>
<rect x="481.2" y="736.34" width="7.6" height="7.71" fill="#f3e535"/>
<rect x="481.2" y="744.01" width="7.6" height="6.62" fill="#12a550"/>
<rect x="481.2" y="750.58" width="7.6" height="2.24" fill="#0fa98c"/>
<rect x="481.2" y="752.77" width="7.6" height="0.18" fill="#0fa98c"/>
<rect x="481.2" y="752.9" width="7.6" height="4" fill="#0fa98c"/>
<path fill="#3fb64a" opacity="0.68" d="M481.2 506.05h7.6v0.7h-7.6zM481.2 510.26h7.6v0.6h-7.6zM481.2 517.57h7.6v1h-7.6zM481.2 519.81h7.6v1h-7.6zM481.2 547.38h7.6v0.6h-7.6zM481.2 553.77h7.6v0.6h-7.6zM481.2 603.14h7.6v1h-7.6zM481.2 615.49h7.6v0.7h-7.6zM481.2 621.71h7.6v0.6h-7.6zM481.2 641.19h7.6v0.6h-7.6zM481.2 645.03h7.6v0.8h-7.6zM481.2 651.71h7.6v0.7h-7.6zM481.2 662.95h7.6v0.6h-7.6zM481.2 665.5h7.6v0.6h-7.6zM481.2 668.53h7.6v0.7h-7.6zM481.2 676.51h7.6v0.8h-7.6zM481.2 684.1h7.6v0.6h-7.6zM481.2 699.81h7.6v0.6h-7.6zM481.2 703.97h7.6v1h-7.6zM481.2 707.11h7.6v0.8h-7.6zM481.2 715.33h7.6v0.8h-7.6zM481.2 721.85h7.6v1.2h-7.6zM481.2 725.63h7.6v0.8h-7.6zM481.2 729.55h7.6v0.6h-7.6zM481.2 732.86h7.6v1h-7.6zM481.2 744.84h7.6v0.8h-7.6zM481.2 747.62h7.6v0.7h-7.6zM481.2 749.61h7.6v1.2h-7.6z"/>
<path fill="#a8d33c" opacity="0.68" d="M481.2 523.56h7.6v0.8h-7.6zM481.2 529.61h7.6v0.6h-7.6zM481.2 532.46h7.6v1.2h-7.6zM481.2 535.05h7.6v1.2h-7.6zM481.2 539.14h7.6v1.2h-7.6zM481.2 541.78h7.6v1h-7.6zM481.2 544.22h7.6v0.8h-7.6zM481.2 549.92h7.6v0.6h-7.6zM481.2 558.39h7.6v1h-7.6zM481.2 562.7h7.6v0.7h-7.6zM481.2 565.78h7.6v0.6h-7.6zM481.2 577.72h7.6v1h-7.6zM481.2 582.25h7.6v1h-7.6zM481.2 588.8h7.6v1h-7.6zM481.2 592.15h7.6v1h-7.6zM481.2 595.01h7.6v0.6h-7.6zM481.2 599.03h7.6v0.8h-7.6zM481.2 606.28h7.6v0.6h-7.6zM481.2 613.06h7.6v1.2h-7.6zM481.2 619.5h7.6v0.6h-7.6zM481.2 631.16h7.6v1.2h-7.6zM481.2 634.21h7.6v0.8h-7.6zM481.2 654.74h7.6v1.2h-7.6zM481.2 670.77h7.6v0.7h-7.6zM481.2 681.39h7.6v0.7h-7.6zM481.2 695.56h7.6v0.8h-7.6zM481.2 709.77h7.6v0.8h-7.6zM481.2 712.17h7.6v1.2h-7.6zM481.2 719.71h7.6v0.8h-7.6zM481.2 737.41h7.6v0.8h-7.6z"/>
<path fill="#f3e535" opacity="0.68" d="M481.2 567.66h7.6v0.6h-7.6zM481.2 574.99h7.6v0.7h-7.6zM481.2 586.24h7.6v0.8h-7.6zM481.2 608.28h7.6v0.8h-7.6zM481.2 638.27h7.6v0.8h-7.6zM481.2 658.87h7.6v0.8h-7.6zM481.2 686.92h7.6v0.7h-7.6zM481.2 692.35h7.6v0.8h-7.6z"/>
<path fill="#12a550" opacity="0.68" d="M481.2 571.59h7.6v0.8h-7.6zM481.2 740.38h7.6v1.2h-7.6zM481.2 743.17h7.6v0.8h-7.6z"/>
<path fill="#2db4ee" opacity="0.68" d="M481.2 625.71h7.6v0.6h-7.6zM481.2 627.53h7.6v0.7h-7.6z"/>
<path fill="#0fa98c" opacity="0.68" d="M481.2 629.45h7.6v0.6h-7.6z"/>
</g>
<rect x="482.2" y="502.6" width="0.45" height="250.3" fill="#0d6b4a" opacity="0.35"/>
<rect x="487.35" y="502.6" width="0.45" height="250.3" fill="#0d6b4a" opacity="0.35"/>
</g>
<g filter="url(#sb)">
<rect x="513.7" y="413.3" width="8.8" height="334" fill="#d9eef0" opacity="0.55"/>
<path fill="#ced1d9" d="M511.3 413.59h4v0.7h-4zM511.3 437.39h4v1.5h-4zM511.3 478.49h4v0.5h-4zM512.82 493.79h2.48v0.6h-2.48zM511.3 497.59h4v1.2h-4zM511.3 508.39h4v1h-4zM511.3 509.69h4v1h-4zM511.3 525.49h4v0.6h-4zM511.3 531.49h4v0.5h-4zM511.3 563.49h4v0.6h-4zM511.3 566.49h4v1h-4zM511.3 570.89h4v0.7h-4zM511.3 576.69h4v2h-4zM511.3 582.69h4v0.7h-4zM511.3 606.99h4v2h-4zM512.25 630.39h3.05v0.8h-3.05zM511.3 649.89h4v1.5h-4zM511.3 671.29h4v0.5h-4zM512.53 677.49h2.77v1h-2.77zM511.3 708.39h4v0.8h-4zM511.3 730.39h4v0.7h-4zM520.9 418.56h4v1.5h-4zM520.9 421.26h4v0.7h-4zM520.9 430.16h4v0.7h-4zM520.9 440.46h4v0.5h-4zM520.9 449.16h4v0.6h-4zM520.9 450.66h4v0.8h-4zM520.9 472.66h4v1.2h-4zM520.9 494.46h3.11v1.5h-3.11zM520.9 543.86h3.73v0.6h-3.73zM520.9 579.66h4v0.5h-4zM520.9 581.96h4v2h-4zM520.9 604.46h4v1h-4zM520.9 620.36h4v0.7h-4zM520.9 625.96h4v2h-4zM520.9 634.26h2.84v1.5h-2.84zM520.9 647.96h4v0.6h-4zM520.9 740.16h3.75v1.5h-3.75zM520.9 745.66h2.84v0.5h-2.84z"/>
<path fill="#c2c7d1" d="M511.3 416.69h4v0.6h-4zM511.3 423.89h4v1.5h-4zM511.3 431.99h4v1.2h-4zM511.3 442.09h4v1h-4zM511.3 443.59h4v1h-4zM511.3 456.39h4v0.6h-4zM511.3 461.69h4v0.8h-4zM511.3 479.89h4v0.8h-4zM511.3 516.99h4v0.6h-4zM511.3 520.99h4v2h-4zM511.75 526.79h3.55v1.2h-3.55zM511.3 541.89h4v0.6h-4zM511.3 634.09h4v0.7h-4zM511.3 653.69h4v0.5h-4zM511.3 659.89h4v2h-4zM511.3 720.19h4v0.7h-4zM511.3 735.59h4v2h-4zM520.9 431.76h4v1.5h-4zM520.9 453.06h4v0.7h-4zM520.9 489.16h4v2h-4zM520.9 512.76h4v0.8h-4zM520.9 513.86h4v2h-4zM520.9 519.26h4v0.5h-4zM520.9 527.66h4v2h-4zM520.9 530.86h4v0.5h-4zM520.9 565.96h4v0.6h-4zM520.9 592.86h4v1h-4zM520.9 601.76h4v1.5h-4zM520.9 607.26h4v0.8h-4zM520.9 623.16h2.42v0.6h-2.42zM520.9 628.26h4v0.6h-4zM520.9 666.26h4v0.8h-4zM520.9 674.26h4v0.7h-4zM520.9 700.56h4v2h-4zM520.9 703.26h3.35v0.6h-3.35zM520.9 734.66h4v0.8h-4zM520.9 746.86h4v0.44h-4z"/>
<path fill="#abb1be" d="M511.3 420.49h4v0.5h-4zM511.3 430.29h4v0.5h-4zM511.3 435.09h4v2h-4zM511.3 445.09h4v2h-4zM511.3 448.69h4v0.5h-4zM511.3 458.59h4v1.5h-4zM511.3 481.89h4v0.7h-4zM511.3 512.29h4v0.6h-4zM512.58 515.29h2.72v0.5h-2.72zM511.3 529.59h4v1h-4zM511.3 544.89h4v0.5h-4zM511.3 547.79h4v2h-4zM511.3 580.49h4v1.5h-4zM511.99 593.79h3.31v1.2h-3.31zM511.3 602.39h4v0.6h-4zM511.3 603.29h4v0.6h-4zM511.3 609.49h4v1.2h-4zM511.3 613.09h4v0.5h-4zM511.3 614.09h4v0.8h-4zM511.3 615.79h4v0.8h-4zM511.3 618.19h4v0.8h-4zM511.3 664.99h4v1.5h-4zM511.3 684.49h4v1h-4zM511.3 686.69h4v0.8h-4zM511.3 689.89h4v0.5h-4zM511.3 693.19h4v2h-4zM512.27 716.89h3.03v0.7h-3.03zM511.3 743.59h4v1.5h-4zM520.9 447.86h4v1h-4zM520.9 463.06h4v1.5h-4zM520.9 474.36h4v0.7h-4zM520.9 478.26h4v2h-4zM520.9 498.36h4v0.8h-4zM520.9 507.26h4v0.8h-4zM520.9 518.26h4v0.5h-4zM520.9 535.46h4v1.5h-4zM520.9 540.26h4v1.2h-4zM520.9 552.76h4v1.5h-4zM520.9 562.06h4v1.5h-4zM520.9 567.26h4v0.7h-4zM520.9 568.46h4v1.2h-4zM520.9 580.86h2.73v0.6h-2.73zM520.9 587.36h4v0.8h-4zM520.9 613.56h4v1.2h-4zM520.9 617.96h4v1.5h-4zM520.9 633.06h4v0.5h-4zM520.9 636.26h4v0.7h-4zM520.9 641.76h4v0.8h-4zM520.9 687.66h4v0.5h-4zM520.9 689.06h4v0.7h-4zM520.9 692.66h4v0.7h-4zM520.9 708.16h3.57v1.5h-3.57zM520.9 744.06h4v0.7h-4z"/>
<path fill="#d5d8df" d="M511.3 421.69h4v1.5h-4zM511.66 426.09h3.64v2h-3.64zM511.3 475.29h4v0.8h-4zM511.3 561.39h4v1.2h-4zM511.3 643.49h4v0.6h-4zM511.3 646.49h4v1.2h-4zM511.3 669.69h4v0.7h-4zM511.3 712.89h4v0.8h-4zM520.9 433.76h4v2h-4zM520.9 470.06h4v1h-4zM520.9 499.46h4v1.2h-4zM520.9 502.26h4v1h-4zM520.9 520.26h4v2h-4zM520.9 537.66h3.35v0.6h-3.35zM520.9 548.56h4v1h-4zM520.9 584.26h4v1.5h-4zM520.9 610.46h4v0.7h-4zM520.9 631.26h4v1.5h-4zM520.9 648.86h4v0.5h-4zM520.9 662.36h4v1.5h-4zM520.9 690.66h4v0.8h-4zM520.9 718.46h4v0.6h-4zM520.9 727.56h4v1.2h-4zM520.9 731.96h4v2h-4z"/>
<path fill="#babfcb" d="M511.3 428.79h4v1.2h-4zM511.3 434.09h4v0.7h-4zM511.3 470.09h4v2h-4zM511.3 489.99h4v0.6h-4zM511.3 505.89h4v2h-4zM511.3 523.69h4v0.6h-4zM511.3 536.39h4v2h-4zM511.3 540.79h4v0.8h-4zM511.3 573.99h4v1.5h-4zM511.3 578.99h4v1.2h-4zM511.3 621.49h4v1.5h-4zM511.3 635.49h4v1.2h-4zM512.57 648.59h2.73v0.8h-2.73zM511.3 679.39h4v0.5h-4zM511.3 680.79h4v0.5h-4zM511.3 700.79h4v0.6h-4zM511.63 702.99h3.67v0.7h-3.67zM511.3 706.69h4v0.5h-4zM511.3 727.29h4v1.5h-4zM511.3 732.69h4v0.5h-4zM511.76 740.69h3.54v2h-3.54zM520.9 415.86h4v2h-4zM520.9 444.16h4v0.5h-4zM520.9 455.66h3.13v2h-3.13zM520.9 468.96h4v0.6h-4zM520.9 492.76h4v0.8h-4zM520.9 554.56h4v0.6h-4zM520.9 556.36h4v1h-4zM520.9 595.46h4v0.6h-4zM520.9 596.96h4v2h-4zM520.9 606.16h4v0.8h-4zM520.9 638.56h4v2h-4zM520.9 653.96h4v1h-4zM520.9 672.66h4v0.7h-4zM520.9 677.36h4v1.2h-4zM520.9 683.26h4v1.2h-4zM520.9 694.56h4v0.7h-4zM520.9 720.26h4v1.2h-4zM520.9 723.66h4v1.5h-4zM520.9 737.86h4v0.7h-4z"/>
<path fill="#9ba2b0" d="M511.3 452.39h4v0.8h-4zM511.3 464.49h4v0.6h-4zM511.3 485.79h4v1h-4zM511.3 534.39h4v0.6h-4zM511.3 568.19h4v1.5h-4zM511.3 598.19h4v1h-4zM511.3 631.89h4v0.6h-4zM511.3 651.69h4v1.5h-4zM511.3 657.19h4v1.5h-4zM511.3 662.39h4v1h-4zM511.3 674.99h4v0.5h-4zM512.19 709.69h3.11v2h-3.11zM511.3 714.39h4v0.5h-4zM512.71 718.49h2.59v0.8h-2.59zM511.3 724.49h4v1.2h-4zM520.9 423.16h4v2h-4zM520.9 437.36h4v1.5h-4zM520.9 439.36h4v0.8h-4zM520.9 458.36h4v1.5h-4zM520.9 465.76h4v0.8h-4zM520.9 481.86h4v0.6h-4zM520.9 482.76h4v1.5h-4zM520.9 505.66h4v0.7h-4zM520.9 509.66h2.88v1.5h-2.88zM520.9 538.96h3.75v0.6h-3.75zM520.9 544.96h4v1.2h-4zM520.9 560.56h4v1h-4zM520.9 571.26h4v1.5h-4zM520.9 573.46h4v0.7h-4zM520.9 645.76h4v0.6h-4zM520.9 657.36h3.2v0.7h-3.2zM520.9 685.66h4v1.5h-4zM520.9 704.76h4v1h-4zM520.9 706.66h4v1.2h-4zM520.9 710.16h4v0.7h-4zM520.9 722.16h4v0.8h-4zM520.9 736.36h4v1h-4z"/>
<path fill="#f0e07a" d="M511.3 462.99h4v1h-4zM511.3 467.49h4v1h-4zM511.3 503.49h4v1.5h-4zM511.3 550.49h4v2h-4zM511.3 556.39h4v0.6h-4zM511.3 691.99h4v0.7h-4zM511.3 698.39h4v1.2h-4zM511.3 704.89h4v1.5h-4zM511.3 738.29h4v1.2h-4zM520.9 413.56h4v0.7h-4zM520.9 487.46h4v0.5h-4zM520.9 574.66h4v1.2h-4zM520.9 576.76h4v2h-4zM520.9 624.66h4v0.6h-4z"/>
<path fill="#c8ccd5" d="M511.3 474.49h4v0.5h-4zM511.3 499.09h4v1.2h-4zM511.3 513.79h4v1h-4zM511.3 518.79h4v1.5h-4zM511.3 535.29h4v0.8h-4zM511.3 543.19h4v1h-4zM511.95 554.89h3.35v1h-3.35zM511.55 560.19h3.75v0.7h-3.75zM511.3 585.79h4v2h-4zM511.3 591.99h4v1.5h-4zM511.3 595.29h4v2h-4zM511.3 604.59h4v1.5h-4zM511.3 619.29h4v1.5h-4zM511.3 623.49h4v2h-4zM511.3 639.09h4v2h-4zM511.3 654.69h4v2h-4zM511.3 675.79h4v0.5h-4zM511.3 715.59h4v0.8h-4zM520.9 427.56h4v1h-4zM520.9 467.06h4v1h-4zM520.9 516.16h4v1.2h-4zM520.9 525.46h4v1h-4zM520.9 533.76h4v1.2h-4zM520.9 589.76h4v1.5h-4zM520.9 611.66h4v1h-4zM520.9 621.96h4v0.7h-4zM520.9 651.76h4v0.6h-4zM520.9 681.76h2.84v0.8h-2.84zM520.9 699.06h2.71v1h-2.71zM520.9 711.76h4v1.2h-4zM520.9 713.26h4v2h-4z"/>
<path fill="#f2c274" d="M511.3 590.19h4v1.5h-4zM511.3 628.69h4v1.2h-4zM512.26 722.09h3.04v0.8h-3.04zM520.9 454.26h4v0.7h-4zM520.9 599.66h4v1.2h-4zM520.9 658.36h4v0.8h-4zM520.9 668.26h4v1.2h-4zM520.9 696.86h4v0.6h-4z"/>
</g>
<rect x="508.2" y="747.3" width="19.8" height="5.6" fill="#e23e94"/>
<rect x="510.4" y="749.75" width="3.6" height="0.7" fill="#f58fc0" opacity="0.8"/>
<rect x="522.1" y="749.75" width="3.6" height="0.7" fill="#f58fc0" opacity="0.8"/>
<clipPath id="cb17"><rect x="515.3" y="413.3" width="5.6" height="339.6"/></clipPath>
<g clip-path="url(#cb17)"><g filter="url(#vb2)">
<rect x="514.3" y="409.3" width="7.6" height="13.45" fill="#12a550"/>
<rect x="514.3" y="422.7" width="7.6" height="4.43" fill="#f3e535"/>
<rect x="514.3" y="427.08" width="7.6" height="4.43" fill="#12a550"/>
<rect x="514.3" y="431.46" width="7.6" height="3.33" fill="#a8d33c"/>
<rect x="514.3" y="434.74" width="7.6" height="9.9" fill="#12a550"/>
<rect x="514.3" y="444.59" width="7.6" height="4.43" fill="#a8d33c"/>
<rect x="514.3" y="448.97" width="7.6" height="0.94" fill="#f8c230"/>
<rect x="514.3" y="449.86" width="7.6" height="1.56" fill="#f4902d"/>
<rect x="514.3" y="451.37" width="7.6" height="0.94" fill="#f3e535"/>
<rect x="514.3" y="452.26" width="7.6" height="4.43" fill="#a8d33c"/>
<rect x="514.3" y="456.64" width="7.6" height="4.43" fill="#12a550"/>
<rect x="514.3" y="461.02" width="7.6" height="1.23" fill="#f8c230"/>
<rect x="514.3" y="462.2" width="7.6" height="2.06" fill="#f4902d"/>
<rect x="514.3" y="464.21" width="7.6" height="1.23" fill="#f3e535"/>
<rect x="514.3" y="465.4" width="7.6" height="11" fill="#12a550"/>
<rect x="514.3" y="476.34" width="7.6" height="3.33" fill="#a8d33c"/>
<rect x="514.3" y="479.63" width="7.6" height="3.33" fill="#12a550"/>
<rect x="514.3" y="482.91" width="7.6" height="3.33" fill="#a8d33c"/>
<rect x="514.3" y="486.2" width="7.6" height="3.33" fill="#12a550"/>
<rect x="514.3" y="489.48" width="7.6" height="4.43" fill="#a8d33c"/>
<rect x="514.3" y="493.86" width="7.6" height="6.62" fill="#12a550"/>
<rect x="514.3" y="500.43" width="7.6" height="6.62" fill="#f3e535"/>
<rect x="514.3" y="507" width="7.6" height="13.19" fill="#12a550"/>
<rect x="514.3" y="520.14" width="7.6" height="6.62" fill="#a8d33c"/>
<rect x="514.3" y="526.7" width="7.6" height="1.81" fill="#f3e535"/>
<rect x="514.3" y="528.47" width="7.6" height="5.52" fill="#12a550"/>
<rect x="514.3" y="533.94" width="7.6" height="0.94" fill="#f8c230"/>
<rect x="514.3" y="534.83" width="7.6" height="1.56" fill="#f4902d"/>
<rect x="514.3" y="536.34" width="7.6" height="0.94" fill="#f3e535"/>
<rect x="514.3" y="537.22" width="7.6" height="6.62" fill="#12a550"/>
<rect x="514.3" y="543.79" width="7.6" height="5.52" fill="#a8d33c"/>
<rect x="514.3" y="549.27" width="7.6" height="23.04" fill="#12a550"/>
<rect x="514.3" y="572.26" width="7.6" height="0.94" fill="#f8c230"/>
<rect x="514.3" y="573.14" width="7.6" height="1.56" fill="#f4902d"/>
<rect x="514.3" y="574.66" width="7.6" height="0.94" fill="#f3e535"/>
<rect x="514.3" y="575.54" width="7.6" height="12.09" fill="#12a550"/>
<rect x="514.3" y="587.58" width="7.6" height="3.33" fill="#a8d33c"/>
<rect x="514.3" y="590.87" width="7.6" height="2.24" fill="#12a550"/>
<rect x="514.3" y="593.06" width="7.6" height="3.33" fill="#a8d33c"/>
<rect x="514.3" y="596.34" width="7.6" height="43.84" fill="#12a550"/>
<rect x="514.3" y="640.14" width="7.6" height="9.9" fill="#1ba4e4"/>
<rect x="514.3" y="649.99" width="7.6" height="7.58" fill="#1ba4e4"/>
<rect x="514.3" y="657.52" width="7.6" height="4.43" fill="#0fa98c"/>
<rect x="514.3" y="661.9" width="7.6" height="6.62" fill="#1ba4e4"/>
<rect x="514.3" y="668.47" width="7.6" height="20.85" fill="#12a550"/>
<rect x="514.3" y="689.27" width="7.6" height="4.43" fill="#f3e535"/>
<rect x="514.3" y="693.65" width="7.6" height="7.71" fill="#12a550"/>
<rect x="514.3" y="701.31" width="7.6" height="5.52" fill="#f3e535"/>
<rect x="514.3" y="706.78" width="7.6" height="12.09" fill="#12a550"/>
<rect x="514.3" y="718.83" width="7.6" height="5.52" fill="#f3e535"/>
<rect x="514.3" y="724.3" width="7.6" height="7.71" fill="#12a550"/>
<rect x="514.3" y="731.96" width="7.6" height="2.68" fill="#ee3f2e"/>
<rect x="514.3" y="734.59" width="7.6" height="3.99" fill="#12a550"/>
<rect x="514.3" y="738.53" width="7.6" height="4.43" fill="#f3e535"/>
<rect x="514.3" y="742.91" width="7.6" height="4.44" fill="#12a550"/>
<rect x="514.3" y="747.3" width="7.6" height="1.56" fill="#f8c230"/>
<rect x="514.3" y="748.81" width="7.6" height="2.63" fill="#f4902d"/>
<rect x="514.3" y="751.39" width="7.6" height="1.56" fill="#f3e535"/>
<rect x="514.3" y="752.9" width="7.6" height="4" fill="#f3e535"/>
<path fill="#3fb64a" opacity="0.68" d="M514.3 414.41h7.6v0.6h-7.6zM514.3 435.82h7.6v1h-7.6zM514.3 445.77h7.6v0.7h-7.6zM514.3 470.91h7.6v1h-7.6zM514.3 474.75h7.6v1h-7.6zM514.3 481.47h7.6v0.8h-7.6zM514.3 487.45h7.6v0.6h-7.6zM514.3 495.67h7.6v0.6h-7.6zM514.3 508.8h7.6v0.8h-7.6zM514.3 513.09h7.6v1.2h-7.6zM514.3 516.84h7.6v1h-7.6zM514.3 521.16h7.6v0.6h-7.6zM514.3 529.73h7.6v1.2h-7.6zM514.3 538.07h7.6v1.2h-7.6zM514.3 554.35h7.6v1h-7.6zM514.3 566.43h7.6v1.2h-7.6zM514.3 570.43h7.6v0.6h-7.6zM514.3 597.76h7.6v0.8h-7.6zM514.3 605.67h7.6v0.7h-7.6zM514.3 607.8h7.6v0.7h-7.6zM514.3 612.14h7.6v1.2h-7.6zM514.3 615.35h7.6v0.8h-7.6zM514.3 621.77h7.6v0.7h-7.6zM514.3 624.99h7.6v1h-7.6zM514.3 633.21h7.6v0.6h-7.6zM514.3 636.85h7.6v0.7h-7.6zM514.3 660.89h7.6v0.6h-7.6zM514.3 670.11h7.6v0.8h-7.6zM514.3 673.03h7.6v1.2h-7.6zM514.3 680.83h7.6v0.6h-7.6zM514.3 694.67h7.6v1h-7.6zM514.3 702.91h7.6v0.7h-7.6zM514.3 707.83h7.6v0.6h-7.6zM514.3 735.96h7.6v0.6h-7.6zM514.3 744.67h7.6v0.7h-7.6z"/>
<path fill="#a8d33c" opacity="0.68" d="M514.3 416.51h7.6v1.2h-7.6zM514.3 420.25h7.6v0.6h-7.6zM514.3 424.07h7.6v0.7h-7.6zM514.3 432.9h7.6v0.6h-7.6zM514.3 442.51h7.6v0.7h-7.6zM514.3 467.06h7.6v1h-7.6zM514.3 498.99h7.6v0.7h-7.6zM514.3 542.1h7.6v0.6h-7.6zM514.3 560.32h7.6v0.6h-7.6zM514.3 580.59h7.6v0.8h-7.6zM514.3 600.26h7.6v1h-7.6zM514.3 627.71h7.6v0.8h-7.6zM514.3 630.57h7.6v1.2h-7.6zM514.3 658.59h7.6v0.6h-7.6zM514.3 676.06h7.6v1h-7.6zM514.3 678.68h7.6v0.6h-7.6zM514.3 684.34h7.6v1.2h-7.6zM514.3 699.09h7.6v1.2h-7.6zM514.3 710.47h7.6v0.6h-7.6zM514.3 713.45h7.6v0.8h-7.6zM514.3 717.36h7.6v0.7h-7.6zM514.3 725.7h7.6v1h-7.6z"/>
<path fill="#f3e535" opacity="0.68" d="M514.3 428.99h7.6v1.2h-7.6zM514.3 438.49h7.6v0.7h-7.6zM514.3 457.59h7.6v1.2h-7.6zM514.3 484.51h7.6v0.6h-7.6zM514.3 503.43h7.6v1.2h-7.6zM514.3 523.64h7.6v0.6h-7.6zM514.3 550.63h7.6v1h-7.6zM514.3 557.23h7.6v1.2h-7.6zM514.3 564.42h7.6v0.7h-7.6zM514.3 576.5h7.6v0.8h-7.6zM514.3 584.03h7.6v0.7h-7.6zM514.3 593.91h7.6v1.2h-7.6zM514.3 603.06h7.6v0.6h-7.6zM514.3 610.08h7.6v0.7h-7.6zM514.3 619.42h7.6v0.6h-7.6zM514.3 687.17h7.6v0.7h-7.6zM514.3 720.32h7.6v1h-7.6zM514.3 729.22h7.6v0.6h-7.6zM514.3 739.97h7.6v1.2h-7.6z"/>
<path fill="#12a550" opacity="0.68" d="M514.3 453.46h7.6v1.2h-7.6zM514.3 477.44h7.6v0.7h-7.6zM514.3 491.3h7.6v1.2h-7.6zM514.3 501.37h7.6v0.7h-7.6zM514.3 525.56h7.6v1h-7.6zM514.3 544.71h7.6v1.2h-7.6zM514.3 589.23h7.6v0.8h-7.6zM514.3 690.45h7.6v0.8h-7.6z"/>
<path fill="#2db4ee" opacity="0.68" d="M514.3 641.48h7.6v1.2h-7.6zM514.3 646.12h7.6v0.8h-7.6zM514.3 648.57h7.6v0.8h-7.6zM514.3 650.96h7.6v0.8h-7.6zM514.3 653.36h7.6v1.2h-7.6zM514.3 666.45h7.6v0.6h-7.6z"/>
<path fill="#0fa98c" opacity="0.68" d="M514.3 662.82h7.6v1h-7.6z"/>
</g>
<rect x="515.3" y="413.3" width="0.45" height="339.6" fill="#0d6b4a" opacity="0.35"/>
<rect x="520.45" y="413.3" width="0.45" height="339.6" fill="#0d6b4a" opacity="0.35"/>
</g>
<g filter="url(#sb)">
<rect x="546.7" y="410" width="8.8" height="339" fill="#d9eef0" opacity="0.55"/>
<path fill="#9ba2b0" d="M544.3 410.85h4v0.7h-4zM544.3 414.45h4v0.7h-4zM544.3 439.05h4v0.6h-4zM544.3 442.85h4v0.8h-4zM544.3 489.15h4v1.5h-4zM544.3 499.55h4v1.5h-4zM544.3 517.25h4v1h-4zM544.3 532.65h4v0.7h-4zM544.3 611.25h4v0.5h-4zM544.3 631.75h4v2h-4zM545.02 641.05h3.28v0.7h-3.28zM544.3 717.55h4v1h-4zM553.9 430.82h4v1.2h-4zM553.9 432.92h4v0.5h-4zM553.9 466.12h4v1.2h-4zM553.9 468.52h4v1h-4zM553.9 486.42h4v0.8h-4zM553.9 495.92h4v1.2h-4zM553.9 512.52h4v0.8h-4zM553.9 518.02h4v1.2h-4zM553.9 534.52h4v1h-4zM553.9 536.22h4v0.5h-4zM553.9 551.92h4v0.5h-4zM553.9 563.32h4v1.2h-4zM553.9 582.62h4v1h-4zM553.9 592.52h4v0.8h-4zM553.9 615.22h4v0.8h-4zM553.9 625.22h4v0.6h-4zM553.9 634.22h3.55v0.5h-3.55zM553.9 635.62h3v0.8h-3zM553.9 647.62h2.47v0.8h-2.47zM553.9 651.62h4v0.5h-4zM553.9 668.12h4v0.6h-4zM553.9 685.92h4v0.8h-4zM553.9 699.22h4v1h-4zM553.9 719.52h4v1.5h-4zM553.9 733.32h4v2h-4zM553.9 746.72h4v0.5h-4z"/>
<path fill="#babfcb" d="M544.3 411.85h4v1h-4zM544.3 418.65h4v1h-4zM545.06 430.85h3.24v0.8h-3.24zM544.3 450.85h4v0.5h-4zM544.3 465.85h4v0.5h-4zM544.3 470.25h4v0.5h-4zM544.3 473.95h4v1h-4zM544.3 478.15h4v0.7h-4zM545.82 486.75h2.48v1.2h-2.48zM544.3 503.45h4v1h-4zM544.3 518.55h4v0.6h-4zM544.3 542.35h4v1.2h-4zM544.3 554.25h4v1.5h-4zM545.5 576.95h2.8v1h-2.8zM544.3 578.25h4v2h-4zM544.3 595.25h4v1.5h-4zM544.3 612.65h4v1h-4zM544.3 644.95h4v1.2h-4zM544.3 650.75h4v0.7h-4zM544.3 669.85h4v0.8h-4zM544.3 681.45h4v1h-4zM544.3 695.15h4v0.6h-4zM544.3 715.75h4v1.5h-4zM553.9 412.12h4v0.6h-4zM553.9 429.62h4v0.5h-4zM553.9 444.82h4v0.7h-4zM553.9 478.82h4v0.6h-4zM553.9 480.12h4v1.2h-4zM553.9 487.92h3.2v0.7h-3.2zM553.9 492.12h4v1.2h-4zM553.9 543.92h4v1h-4zM553.9 554.02h4v0.8h-4zM553.9 590.42h4v0.5h-4zM553.9 604.62h4v1.5h-4zM553.9 612.12h4v1.2h-4zM553.9 618.42h4v0.8h-4zM553.9 642.72h4v0.6h-4zM553.9 664.72h4v1h-4zM553.9 683.52h4v1.2h-4zM553.9 690.02h4v0.5h-4zM553.9 697.32h4v1h-4z"/>
<path fill="#ced1d9" d="M544.56 415.45h3.74v0.8h-3.74zM544.3 419.95h4v1.2h-4zM545.67 427.15h2.63v0.8h-2.63zM544.3 429.15h4v1h-4zM544.3 436.75h4v0.7h-4zM544.3 482.05h4v1.5h-4zM544.3 492.95h4v0.8h-4zM544.3 508.35h4v0.6h-4zM544.3 534.55h4v0.7h-4zM544.3 540.15h4v0.6h-4zM544.3 573.65h4v1h-4zM545.22 583.95h3.08v1h-3.08zM544.3 587.35h4v1.2h-4zM544.3 592.15h4v0.6h-4zM545.67 614.35h2.63v2h-2.63zM544.3 672.25h4v2h-4zM544.3 682.95h4v1.5h-4zM544.3 696.95h4v0.7h-4zM544.3 724.75h4v1.2h-4zM544.59 733.85h3.71v1h-3.71zM544.3 736.45h4v0.6h-4zM553.9 410.32h4v0.6h-4zM553.9 434.92h4v2h-4zM553.9 438.82h4v0.5h-4zM553.9 455.82h4v1.5h-4zM553.9 470.02h4v1h-4zM553.9 490.92h4v0.5h-4zM553.9 505.22h4v0.5h-4zM553.9 514.22h4v0.6h-4zM553.9 587.22h2.72v1.2h-2.72zM553.9 666.42h4v0.5h-4zM553.9 691.42h4v0.7h-4zM553.9 694.32h4v0.6h-4z"/>
<path fill="#abb1be" d="M544.96 423.55h3.34v0.6h-3.34zM544.3 460.25h4v1.5h-4zM544.3 462.25h4v1.2h-4zM544.3 468.75h4v0.6h-4zM545.42 512.25h2.88v1h-2.88zM545.42 521.55h2.88v0.5h-2.88zM544.3 529.45h4v2h-4zM544.3 571.95h4v0.8h-4zM544.3 580.95h4v0.6h-4zM544.75 588.85h3.55v0.8h-3.55zM544.3 601.35h4v1.2h-4zM544.3 616.65h4v2h-4zM544.3 646.85h4v0.6h-4zM544.3 652.35h4v1.5h-4zM544.3 661.25h4v1h-4zM544.3 677.35h4v1.5h-4zM544.3 679.55h4v1h-4zM544.3 713.85h4v1.2h-4zM553.9 428.32h4v1h-4zM553.9 433.72h4v0.7h-4zM553.9 482.02h4v1.5h-4zM553.9 520.12h4v0.7h-4zM553.9 577.42h3.63v0.8h-3.63zM553.9 579.42h4v0.8h-4zM553.9 600.62h4v0.8h-4zM553.9 637.12h4v0.8h-4zM553.9 638.82h4v0.7h-4zM553.9 655.22h4v1.5h-4zM553.9 657.22h4v0.5h-4zM553.9 715.92h3.65v1.2h-3.65z"/>
<path fill="#f2c274" d="M544.3 424.45h4v2h-4zM544.3 575.85h4v0.6h-4zM544.3 690.75h4v0.5h-4zM553.9 489.52h4v0.7h-4zM553.9 568.62h4v1h-4z"/>
<path fill="#c2c7d1" d="M544.3 432.55h4v1h-4zM544.3 447.15h4v0.5h-4zM544.3 454.55h4v0.5h-4zM544.3 491.35h4v0.7h-4zM544.3 497.85h4v1h-4zM545.13 514.45h3.17v1.2h-3.17zM544.3 551.15h4v1.5h-4zM544.3 558.95h4v1.2h-4zM545.54 585.65h2.76v0.5h-2.76zM544.3 597.95h4v0.5h-4zM544.3 603.45h4v1h-4zM544.3 622.55h4v2h-4zM545.3 628.35h3v1h-3zM545.48 638.75h2.82v0.7h-2.82zM544.3 686.55h4v1h-4zM544.3 691.95h4v2h-4zM544.3 704.15h4v1.5h-4zM544.9 711.85h3.4v1.5h-3.4zM544.3 719.05h4v1.5h-4zM544.3 723.45h4v1h-4zM544.3 729.15h4v1.5h-4zM544.3 741.05h4v1.2h-4zM553.9 418.32h4v2h-4zM553.9 451.82h4v0.8h-4zM553.9 471.72h4v1h-4zM553.9 473.62h4v2h-4zM553.9 476.82h3.21v0.8h-3.21zM553.9 494.52h4v0.5h-4zM553.9 503.52h4v1h-4zM553.9 538.32h4v1.5h-4zM553.9 549.62h4v0.5h-4zM553.9 561.62h4v1.2h-4zM553.9 572.72h2.87v1.5h-2.87zM553.9 620.82h4v1.2h-4zM553.9 652.82h4v1.2h-4zM553.9 673.52h4v0.6h-4zM553.9 709.12h4v1.5h-4zM553.9 741.82h3.72v0.6h-3.72z"/>
<path fill="#c8ccd5" d="M544.3 437.95h4v0.8h-4zM544.3 445.25h4v1.2h-4zM544.3 496.35h4v0.8h-4zM544.3 525.05h4v2h-4zM544.3 556.05h4v0.5h-4zM545.77 563.55h2.53v0.7h-2.53zM544.3 570.55h4v0.5h-4zM544.3 598.95h4v0.8h-4zM544.3 607.65h4v2h-4zM544.3 626.95h4v0.5h-4zM544.3 655.05h4v0.8h-4zM544.3 659.05h4v0.6h-4zM544.3 699.25h4v0.7h-4zM544.3 708.85h4v0.6h-4zM544.3 743.15h4v1.2h-4zM544.3 745.25h4v2h-4zM553.9 425.92h2.97v1.2h-2.97zM553.9 437.82h3.3v0.5h-3.3zM553.9 442.52h4v0.7h-4zM553.9 497.42h4v1h-4zM553.9 499.62h3.28v1.5h-3.28zM553.9 502.02h4v0.8h-4zM553.9 508.92h4v2h-4zM553.9 522.42h4v0.7h-4zM553.9 540.12h2.73v0.6h-2.73zM553.9 571.22h4v0.8h-4zM553.9 614.02h4v0.5h-4zM553.9 643.62h3.57v0.8h-3.57zM553.9 677.02h4v0.5h-4zM553.9 687.02h4v0.6h-4zM553.9 693.02h4v0.8h-4zM553.9 723.42h4v1.2h-4zM553.9 739.22h4v1h-4z"/>
<path fill="#f0e07a" d="M544.3 457.45h4v1.2h-4zM544.3 494.25h4v0.5h-4zM544.3 510.15h4v1.2h-4zM544.3 566.65h4v1.5h-4zM544.3 635.35h4v1h-4zM544.3 649.05h4v1h-4zM544.3 702.35h4v0.6h-4zM544.3 737.95h4v1.5h-4zM553.9 462.92h4v0.8h-4zM553.9 530.92h4v2h-4zM553.9 547.32h4v0.7h-4zM553.9 588.72h4v0.5h-4zM553.9 596.52h4v1.2h-4zM553.9 606.62h4v0.6h-4zM553.9 609.42h4v2h-4zM553.9 662.82h4v1h-4zM553.9 671.12h4v1.2h-4zM553.9 681.52h2.61v0.8h-2.61zM553.9 703.42h4v1h-4zM553.9 736.52h3.46v2h-3.46z"/>
<path fill="#d5d8df" d="M544.3 506.05h4v0.7h-4zM544.3 522.75h4v2h-4zM544.3 537.65h4v2h-4zM544.3 546.75h4v1.2h-4zM544.3 562.55h4v0.7h-4zM545.62 589.95h2.68v1.5h-2.68zM544.3 593.95h4v0.8h-4zM544.3 619.85h4v2h-4zM544.3 665.45h4v1.2h-4zM544.3 675.85h4v1h-4zM545.32 685.15h2.98v0.7h-2.98zM544.3 721.75h4v0.5h-4zM553.9 415.92h4v1.5h-4zM553.9 421.52h4v1.2h-4zM553.9 448.72h4v1.5h-4zM553.9 459.72h4v0.8h-4zM553.9 484.02h4v0.8h-4zM553.9 485.12h4v0.8h-4zM553.9 525.52h4v0.7h-4zM553.9 527.12h4v0.6h-4zM553.9 550.82h4v0.8h-4zM553.9 555.72h3.67v0.7h-3.67zM553.9 559.62h4v0.5h-4zM553.9 560.62h4v0.7h-4zM553.9 566.92h4v1h-4zM553.9 585.22h4v0.8h-4zM553.9 599.32h4v0.6h-4zM553.9 607.72h4v0.8h-4zM553.9 629.02h4v2h-4zM553.9 658.42h2.87v1.2h-2.87zM553.9 675.32h4v1h-4zM553.9 678.42h3.15v0.7h-3.15zM553.9 707.62h4v0.6h-4zM553.9 711.52h2.89v2h-2.89zM553.9 725.52h4v1.5h-4zM553.9 729.42h4v1.5h-4zM553.9 731.42h4v1h-4zM553.9 744.02h4v1.5h-4z"/>
</g>
<rect x="541.2" y="406.3" width="19.8" height="3.7" fill="#e23e94"/>
<rect x="543.4" y="407.8" width="3.6" height="0.7" fill="#f58fc0" opacity="0.8"/>
<rect x="555.1" y="407.8" width="3.6" height="0.7" fill="#f58fc0" opacity="0.8"/>
<rect x="541.2" y="749" width="19.8" height="3.9" fill="#e23e94"/>
<rect x="543.4" y="750.6" width="3.6" height="0.7" fill="#f58fc0" opacity="0.8"/>
<rect x="555.1" y="750.6" width="3.6" height="0.7" fill="#f58fc0" opacity="0.8"/>
<clipPath id="cb18"><rect x="548.3" y="406.3" width="5.6" height="346.6"/></clipPath>
<g clip-path="url(#cb18)"><g filter="url(#vb2)">
<rect x="547.3" y="402.3" width="7.6" height="7.75" fill="#1ba4e4"/>
<rect x="547.3" y="410" width="7.6" height="2.89" fill="#1ba4e4"/>
<rect x="547.3" y="412.84" width="7.6" height="5.52" fill="#12a550"/>
<rect x="547.3" y="418.32" width="7.6" height="4.43" fill="#f3e535"/>
<rect x="547.3" y="422.7" width="7.6" height="4.43" fill="#f8c230"/>
<rect x="547.3" y="427.08" width="7.6" height="12.09" fill="#12a550"/>
<rect x="547.3" y="439.12" width="7.6" height="3.33" fill="#a8d33c"/>
<rect x="547.3" y="442.4" width="7.6" height="11" fill="#12a550"/>
<rect x="547.3" y="453.35" width="7.6" height="6.62" fill="#f8c230"/>
<rect x="547.3" y="459.92" width="7.6" height="7.71" fill="#12a550"/>
<rect x="547.3" y="467.58" width="7.6" height="3.33" fill="#a8d33c"/>
<rect x="547.3" y="470.87" width="7.6" height="7.71" fill="#12a550"/>
<rect x="547.3" y="478.53" width="7.6" height="6.62" fill="#14a5c6"/>
<rect x="547.3" y="485.1" width="7.6" height="3.33" fill="#12a550"/>
<rect x="547.3" y="488.39" width="7.6" height="5.52" fill="#1ba4e4"/>
<rect x="547.3" y="493.86" width="7.6" height="17.57" fill="#12a550"/>
<rect x="547.3" y="511.38" width="7.6" height="5.52" fill="#a8d33c"/>
<rect x="547.3" y="516.85" width="7.6" height="13.19" fill="#12a550"/>
<rect x="547.3" y="529.99" width="7.6" height="0.72" fill="#a8d33c"/>
<rect x="547.3" y="530.65" width="7.6" height="8.81" fill="#0fa98c"/>
<rect x="547.3" y="539.41" width="7.6" height="7.71" fill="#12a550"/>
<rect x="547.3" y="547.08" width="7.6" height="6.62" fill="#f3e535"/>
<rect x="547.3" y="553.65" width="7.6" height="12.09" fill="#12a550"/>
<rect x="547.3" y="565.69" width="7.6" height="15.38" fill="#a8d33c"/>
<rect x="547.3" y="581.02" width="7.6" height="12.09" fill="#f3e535"/>
<rect x="547.3" y="593.06" width="7.6" height="18.66" fill="#12a550"/>
<rect x="547.3" y="611.67" width="7.6" height="0.77" fill="#f4902d"/>
<rect x="547.3" y="612.39" width="7.6" height="1.89" fill="#ee3f2e"/>
<rect x="547.3" y="614.23" width="7.6" height="0.77" fill="#f8c230"/>
<rect x="547.3" y="614.96" width="7.6" height="7.71" fill="#f8c230"/>
<rect x="547.3" y="622.62" width="7.6" height="5.52" fill="#12a550"/>
<rect x="547.3" y="628.09" width="7.6" height="5.52" fill="#f3e535"/>
<rect x="547.3" y="633.57" width="7.6" height="6.62" fill="#12a550"/>
<rect x="547.3" y="640.14" width="7.6" height="4.43" fill="#a8d33c"/>
<rect x="547.3" y="644.51" width="7.6" height="5.52" fill="#12a550"/>
<rect x="547.3" y="649.99" width="7.6" height="3.2" fill="#12a550"/>
<rect x="547.3" y="653.14" width="7.6" height="4.43" fill="#f3e535"/>
<rect x="547.3" y="657.52" width="7.6" height="17.57" fill="#12a550"/>
<rect x="547.3" y="675.03" width="7.6" height="4.43" fill="#f3e535"/>
<rect x="547.3" y="679.41" width="7.6" height="12.09" fill="#12a550"/>
<rect x="547.3" y="691.46" width="7.6" height="5.52" fill="#f8c230"/>
<rect x="547.3" y="696.93" width="7.6" height="17.57" fill="#12a550"/>
<rect x="547.3" y="714.45" width="7.6" height="4.43" fill="#a8d33c"/>
<rect x="547.3" y="718.83" width="7.6" height="3.33" fill="#12a550"/>
<rect x="547.3" y="722.11" width="7.6" height="5.52" fill="#a8d33c"/>
<rect x="547.3" y="727.58" width="7.6" height="8.81" fill="#12a550"/>
<rect x="547.3" y="736.34" width="7.6" height="0.77" fill="#f4902d"/>
<rect x="547.3" y="737.07" width="7.6" height="1.89" fill="#ee3f2e"/>
<rect x="547.3" y="738.91" width="7.6" height="0.77" fill="#f8c230"/>
<rect x="547.3" y="739.63" width="7.6" height="9.42" fill="#12a550"/>
<rect x="547.3" y="749" width="7.6" height="3.95" fill="#1ba4e4"/>
<rect x="547.3" y="752.9" width="7.6" height="4" fill="#1ba4e4"/>
<path fill="#0fa98c" opacity="0.68" d="M547.3 408.21h7.6v0.8h-7.6z"/>
<path fill="#2db4ee" opacity="0.68" d="M547.3 411.06h7.6v0.8h-7.6zM547.3 489.96h7.6v1h-7.6zM547.3 750.87h7.6v0.7h-7.6z"/>
<path fill="#3fb64a" opacity="0.68" d="M547.3 414.06h7.6v0.7h-7.6zM547.3 417.07h7.6v0.7h-7.6zM547.3 432.3h7.6v1.2h-7.6zM547.3 464.14h7.6v0.8h-7.6zM547.3 502.55h7.6v1h-7.6zM547.3 505.17h7.6v1h-7.6zM547.3 512.67h7.6v0.7h-7.6zM547.3 518.74h7.6v1h-7.6zM547.3 534.49h7.6v1.2h-7.6zM547.3 540.25h7.6v0.6h-7.6zM547.3 543.67h7.6v1h-7.6zM547.3 573.75h7.6v0.7h-7.6zM547.3 576.33h7.6v0.7h-7.6zM547.3 589.25h7.6v0.6h-7.6zM547.3 603.93h7.6v0.7h-7.6zM547.3 609.75h7.6v0.8h-7.6zM547.3 623.88h7.6v0.6h-7.6zM547.3 648.58h7.6v0.6h-7.6zM547.3 658.57h7.6v0.7h-7.6zM547.3 661.58h7.6v0.7h-7.6zM547.3 666.89h7.6v0.8h-7.6zM547.3 711.85h7.6v0.8h-7.6zM547.3 725.68h7.6v0.7h-7.6zM547.3 733.94h7.6v1.2h-7.6zM547.3 743.83h7.6v0.6h-7.6zM547.3 747.44h7.6v0.6h-7.6z"/>
<path fill="#12a550" opacity="0.68" d="M547.3 419.9h7.6v0.7h-7.6zM547.3 454.85h7.6v0.8h-7.6zM547.3 468.97h7.6v0.7h-7.6zM547.3 548.89h7.6v0.8h-7.6zM547.3 567.61h7.6v1h-7.6zM547.3 578.52h7.6v1h-7.6zM547.3 616.85h7.6v0.7h-7.6zM547.3 619.96h7.6v0.8h-7.6zM547.3 632.63h7.6v1h-7.6zM547.3 676.96h7.6v0.6h-7.6zM547.3 692.36h7.6v0.8h-7.6zM547.3 716.02h7.6v0.6h-7.6z"/>
<path fill="#f3e535" opacity="0.68" d="M547.3 424.13h7.6v0.8h-7.6zM547.3 440.29h7.6v0.7h-7.6zM547.3 444.34h7.6v1h-7.6zM547.3 475.37h7.6v1.2h-7.6zM547.3 514.96h7.6v1.2h-7.6zM547.3 555.3h7.6v1h-7.6zM547.3 570.81h7.6v1h-7.6zM547.3 597.14h7.6v0.6h-7.6zM547.3 641.55h7.6v0.8h-7.6zM547.3 654.77h7.6v1.2h-7.6zM547.3 669.87h7.6v0.7h-7.6zM547.3 708.81h7.6v1h-7.6z"/>
<path fill="#a8d33c" opacity="0.68" d="M547.3 428.95h7.6v0.7h-7.6zM547.3 437.08h7.6v0.8h-7.6zM547.3 448.11h7.6v1.2h-7.6zM547.3 452.25h7.6v0.7h-7.6zM547.3 458.44h7.6v0.6h-7.6zM547.3 461.45h7.6v1.2h-7.6zM547.3 472.31h7.6v0.8h-7.6zM547.3 480.43h7.6v1h-7.6zM547.3 483.24h7.6v0.8h-7.6zM547.3 486.2h7.6v1.2h-7.6zM547.3 494.81h7.6v0.8h-7.6zM547.3 498.39h7.6v0.6h-7.6zM547.3 507.85h7.6v0.6h-7.6zM547.3 521.27h7.6v0.6h-7.6zM547.3 523.48h7.6v1.2h-7.6zM547.3 526.29h7.6v0.7h-7.6zM547.3 532.03h7.6v0.6h-7.6zM547.3 538h7.6v0.7h-7.6zM547.3 559.29h7.6v1.2h-7.6zM547.3 562.15h7.6v0.8h-7.6zM547.3 582.41h7.6v0.7h-7.6zM547.3 586.16h7.6v0.6h-7.6zM547.3 594.63h7.6v1h-7.6zM547.3 599.47h7.6v1.2h-7.6zM547.3 606.67h7.6v1.2h-7.6zM547.3 629.1h7.6v0.8h-7.6zM547.3 635.11h7.6v1h-7.6zM547.3 637.51h7.6v1.2h-7.6zM547.3 645.33h7.6v1h-7.6zM547.3 651.12h7.6v1.2h-7.6zM547.3 663.7h7.6v0.6h-7.6zM547.3 673.22h7.6v1.2h-7.6zM547.3 681.36h7.6v0.7h-7.6zM547.3 684.17h7.6v0.7h-7.6zM547.3 688.31h7.6v1h-7.6zM547.3 698.09h7.6v1h-7.6zM547.3 702.15h7.6v0.6h-7.6zM547.3 705.34h7.6v1h-7.6zM547.3 719.81h7.6v0.7h-7.6zM547.3 723.01h7.6v0.7h-7.6zM547.3 729.53h7.6v1h-7.6zM547.3 740.72h7.6v1h-7.6z"/>
</g>
<rect x="548.3" y="406.3" width="0.45" height="346.6" fill="#0d6b4a" opacity="0.35"/>
<rect x="553.45" y="406.3" width="0.45" height="346.6" fill="#0d6b4a" opacity="0.35"/>
</g>
<g filter="url(#sb)">
<rect x="580.2" y="402" width="8.8" height="348.2" fill="#d9eef0" opacity="0.55"/>
<path fill="#c2c7d1" d="M577.8 403.11h4v0.7h-4zM577.8 421.51h4v1.5h-4zM577.8 428.11h4v1.2h-4zM577.8 437.71h4v0.7h-4zM579.21 440.81h2.59v0.6h-2.59zM578.39 452.11h3.41v1.2h-3.41zM577.8 471.31h4v0.7h-4zM577.8 482.51h4v1.5h-4zM577.8 484.51h4v0.6h-4zM577.8 488.61h4v0.6h-4zM577.8 493.61h4v0.7h-4zM577.8 501.11h4v0.8h-4zM577.8 502.61h4v0.6h-4zM577.8 529.41h4v0.6h-4zM577.8 547.21h4v1.2h-4zM577.8 549.11h4v0.8h-4zM577.8 555.01h4v0.6h-4zM577.8 574.11h4v0.8h-4zM577.8 599.41h4v0.5h-4zM577.8 639.41h4v2h-4zM577.8 646.31h4v1h-4zM577.8 653.01h4v0.7h-4zM577.8 686.21h4v0.8h-4zM577.8 694.61h4v0.6h-4zM578.31 700.61h3.49v0.6h-3.49zM578.06 706.31h3.74v0.6h-3.74zM579.21 735.91h2.59v0.5h-2.59zM577.8 740.71h4v0.5h-4zM577.8 745.31h4v1.2h-4zM587.4 432.17h4v1h-4zM587.4 433.87h4v1h-4zM587.4 445.17h4v1h-4zM587.4 452.27h4v0.8h-4zM587.4 486.97h4v1h-4zM587.4 492.77h4v2h-4zM587.4 515.67h2.89v1h-2.89zM587.4 565.97h4v1.2h-4zM587.4 578.27h4v0.8h-4zM587.4 579.97h4v0.8h-4zM587.4 599.67h4v0.8h-4zM587.4 614.87h2.81v2h-2.81zM587.4 618.77h3.65v0.6h-3.65zM587.4 688.27h4v1h-4z"/>
<path fill="#f2c274" d="M577.8 406.21h4v0.6h-4zM579.02 491.61h2.78v1.5h-2.78zM577.8 677.51h4v0.5h-4zM587.4 418.97h4v0.6h-4zM587.4 461.27h4v0.7h-4zM587.4 676.77h4v0.8h-4zM587.4 705.47h4v1.2h-4z"/>
<path fill="#ced1d9" d="M577.8 407.71h4v0.7h-4zM577.8 425.01h4v0.7h-4zM577.8 432.01h4v0.5h-4zM577.8 432.81h4v1h-4zM577.8 475.41h4v1.2h-4zM577.8 564.71h4v1h-4zM577.8 567.21h4v2h-4zM577.8 569.71h4v2h-4zM577.8 572.41h4v0.8h-4zM577.8 575.41h4v2h-4zM577.8 577.91h4v1.5h-4zM579.23 602.01h2.57v0.5h-2.57zM577.8 616.41h4v0.8h-4zM577.8 617.71h4v2h-4zM577.8 634.31h4v0.7h-4zM577.8 648.01h4v0.8h-4zM577.8 669.21h4v0.7h-4zM577.8 675.11h4v1.5h-4zM577.8 687.71h4v0.8h-4zM577.8 715.51h4v0.7h-4zM577.8 716.71h4v0.7h-4zM587.4 421.87h4v0.6h-4zM587.4 507.37h4v2h-4zM587.4 537.37h3.23v2h-3.23zM587.4 549.57h4v1.5h-4zM587.4 551.37h4v0.8h-4zM587.4 555.37h3.15v1h-3.15zM587.4 559.57h4v0.8h-4zM587.4 570.37h4v1.2h-4zM587.4 589.67h4v1h-4zM587.4 594.37h4v1.5h-4zM587.4 602.07h4v0.7h-4zM587.4 660.47h4v1.5h-4zM587.4 662.87h4v1.5h-4zM587.4 665.27h4v1.5h-4zM587.4 693.97h2.9v1.2h-2.9zM587.4 695.47h4v0.7h-4zM587.4 696.47h4v1.2h-4zM587.4 724.37h4v1h-4zM587.4 729.77h4v1.2h-4z"/>
<path fill="#abb1be" d="M578.35 411.61h3.45v0.5h-3.45zM577.8 446.91h4v2h-4zM577.8 463.41h4v0.7h-4zM577.8 465.31h4v1h-4zM577.8 479.01h4v1h-4zM577.8 516.11h4v1.5h-4zM578.67 519.71h3.13v0.6h-3.13zM577.8 535.31h4v0.7h-4zM577.8 538.41h4v0.8h-4zM577.8 584.21h4v2h-4zM577.8 596.71h4v2h-4zM577.8 651.21h4v1.5h-4zM577.8 660.41h4v1.5h-4zM579.2 663.11h2.6v1h-2.6zM577.8 670.21h4v1h-4zM577.8 680.41h4v0.7h-4zM577.8 699.31h4v0.6h-4zM577.8 701.91h4v1.2h-4zM577.8 708.71h4v1.5h-4zM577.8 718.61h4v2h-4zM577.8 724.61h4v1.5h-4zM577.8 738.91h4v1.5h-4zM577.8 746.81h4v2h-4zM587.4 402.17h4v0.8h-4zM587.4 425.97h4v0.8h-4zM587.4 449.87h4v0.8h-4zM587.4 458.97h4v2h-4zM587.4 511.37h4v1.2h-4zM587.4 531.07h4v0.7h-4zM587.4 563.57h4v0.8h-4zM587.4 571.87h4v1.2h-4zM587.4 621.77h4v0.7h-4zM587.4 631.77h4v0.5h-4zM587.4 699.57h4v2h-4zM587.4 702.47h4v1h-4zM587.4 717.07h4v1h-4zM587.4 726.97h4v1.2h-4z"/>
<path fill="#d5d8df" d="M577.8 412.41h4v1.2h-4zM577.8 430.21h4v1.5h-4zM577.8 480.31h4v1h-4zM577.8 486.71h4v1.2h-4zM577.8 518.81h4v0.6h-4zM577.8 525.21h4v1h-4zM577.8 539.91h4v0.5h-4zM577.8 563.71h4v0.7h-4zM577.8 566.21h4v0.7h-4zM577.8 591.11h4v1.2h-4zM577.8 607.21h4v0.8h-4zM577.8 612.61h4v0.6h-4zM577.8 654.01h4v1h-4zM577.8 691.71h4v0.5h-4zM579.17 697.81h2.63v1.2h-2.63zM577.8 736.71h4v0.6h-4zM587.4 412.57h3.55v1.5h-3.55zM587.4 417.27h4v0.5h-4zM587.4 422.97h3.27v0.6h-3.27zM587.4 446.87h4v1.5h-4zM587.4 457.37h4v0.7h-4zM587.4 465.17h4v1h-4zM587.4 466.87h4v1h-4zM587.4 473.97h4v1h-4zM587.4 478.47h4v0.5h-4zM587.4 497.97h4v1.5h-4zM587.4 502.37h4v2h-4zM587.4 521.97h4v0.5h-4zM587.4 525.07h4v0.8h-4zM587.4 534.17h4v2h-4zM587.4 546.27h4v1.5h-4zM587.4 576.27h4v1.5h-4zM587.4 585.97h4v0.5h-4zM587.4 590.97h4v1h-4zM587.4 625.67h4v0.7h-4zM587.4 650.47h4v1h-4zM587.4 672.07h3.27v0.5h-3.27zM587.4 682.27h3.5v1.5h-3.5zM587.4 697.97h2.42v0.7h-2.42zM587.4 736.37h4v0.5h-4zM587.4 741.57h3.33v2h-3.33z"/>
<path fill="#babfcb" d="M577.8 416.81h4v1.5h-4zM577.8 466.61h4v1.5h-4zM577.8 472.51h4v0.5h-4zM577.8 498.91h4v0.6h-4zM577.8 514.41h4v1h-4zM577.8 523.51h4v1h-4zM578.01 545.21h3.79v1.5h-3.79zM577.8 552.31h4v1.5h-4zM577.8 559.51h4v1h-4zM578.67 587.81h3.13v1h-3.13zM577.8 589.31h4v0.6h-4zM577.8 595.51h4v0.5h-4zM577.8 605.71h4v1.2h-4zM577.8 628.71h4v0.5h-4zM577.8 635.51h4v0.6h-4zM577.8 658.01h4v1.5h-4zM577.8 682.71h4v1.2h-4zM577.8 684.61h4v0.7h-4zM577.8 710.51h4v1.5h-4zM577.8 733.01h4v2h-4zM587.4 403.27h4v0.5h-4zM587.4 410.67h4v0.7h-4zM587.4 430.87h4v1h-4zM587.4 439.57h4v2h-4zM587.4 462.87h4v0.7h-4zM587.4 470.77h3.74v2h-3.74zM587.4 500.17h4v0.8h-4zM587.4 513.27h4v1.5h-4zM587.4 526.17h3.16v1h-3.16zM587.4 542.57h2.99v1.2h-2.99zM587.4 545.37h4v0.6h-4zM587.4 627.57h4v1.2h-4zM587.4 629.67h4v1.2h-4zM587.4 636.17h4v0.6h-4zM587.4 639.97h4v0.8h-4zM587.4 643.97h3.67v2h-3.67zM587.4 713.27h4v0.6h-4zM587.4 747.67h4v0.7h-4z"/>
<path fill="#f0e07a" d="M577.8 423.71h4v0.6h-4zM579.06 442.61h2.74v0.7h-2.74zM577.8 445.21h4v0.8h-4zM577.8 461.71h4v0.5h-4zM578.3 506.41h3.5v2h-3.5zM577.8 558.01h4v1.2h-4zM577.8 580.61h4v0.5h-4zM577.8 629.91h4v2h-4zM578.37 636.81h3.43v1h-3.43zM577.8 641.91h4v1.2h-4zM577.8 722.21h4v0.8h-4zM587.4 404.67h3.67v0.5h-3.67zM587.4 407.87h4v1.2h-4zM587.4 427.97h4v0.5h-4zM587.4 475.27h4v2h-4zM587.4 510.27h4v0.8h-4zM587.4 583.17h4v1.2h-4zM587.4 603.47h4v1.5h-4zM587.4 667.47h4v1h-4zM587.4 670.07h4v1.5h-4zM587.4 680.17h4v0.5h-4zM587.4 685.57h4v1.5h-4zM587.4 709.07h4v2h-4zM587.4 720.47h3.37v1.5h-3.37zM587.4 732.57h4v0.6h-4z"/>
<path fill="#c8ccd5" d="M577.8 434.31h4v1h-4zM577.8 443.81h4v0.5h-4zM578.77 494.61h3.03v0.5h-3.03zM577.8 495.61h4v0.8h-4zM577.8 510.81h4v2h-4zM577.8 541.61h4v1.2h-4zM577.8 550.81h4v1h-4zM577.8 620.91h4v1.2h-4zM577.8 623.71h4v2h-4zM577.8 626.21h4v2h-4zM577.8 665.01h4v1.5h-4zM577.8 696.81h4v0.7h-4zM577.8 707.61h4v0.8h-4zM577.8 713.61h4v0.7h-4zM587.4 420.27h4v0.7h-4zM587.4 436.47h4v0.7h-4zM587.4 442.27h3.59v0.5h-3.59zM587.4 453.77h4v2h-4zM587.4 479.87h4v0.8h-4zM587.4 488.87h3.46v0.7h-3.46zM587.4 504.67h4v0.7h-4zM587.4 519.07h4v0.5h-4zM587.4 522.77h4v2h-4zM587.4 613.67h4v0.7h-4zM587.4 617.77h4v0.5h-4zM587.4 632.77h4v1.2h-4zM587.4 646.87h4v1.2h-4zM587.4 657.47h4v0.6h-4zM587.4 674.67h4v0.5h-4zM587.4 703.97h4v1.2h-4zM587.4 712.27h2.97v0.5h-2.97z"/>
<path fill="#9ba2b0" d="M577.8 456.51h4v0.5h-4zM577.8 457.51h4v1h-4zM578.96 496.71h2.84v1h-2.84zM577.8 526.51h4v2h-4zM577.8 531.61h4v0.5h-4zM577.8 581.41h4v1.2h-4zM577.8 600.61h4v0.5h-4zM577.8 608.91h4v1.5h-4zM577.8 611.31h4v1h-4zM577.8 655.51h4v1h-4zM577.8 657.01h4v0.5h-4zM577.8 667.21h4v1.5h-4zM577.8 672.81h4v2h-4zM577.8 726.61h4v0.6h-4zM577.8 728.41h4v0.7h-4zM577.8 730.01h4v0.6h-4zM577.8 741.51h4v0.6h-4zM587.4 405.47h4v1.5h-4zM587.4 424.47h4v1h-4zM587.4 448.67h4v0.7h-4zM587.4 468.77h4v0.8h-4zM587.4 483.07h4v0.7h-4zM587.4 501.27h4v0.6h-4zM587.4 505.87h4v1.2h-4zM587.4 528.37h4v2h-4zM587.4 548.07h4v1.2h-4zM587.4 596.77h3.38v2h-3.38zM587.4 606.57h4v0.8h-4zM587.4 609.77h4v1.5h-4zM587.4 611.97h4v1.2h-4zM587.4 634.47h4v0.5h-4zM587.4 653.07h4v2h-4zM587.4 673.27h4v0.7h-4zM587.4 677.87h4v2h-4zM587.4 684.47h4v0.8h-4zM587.4 692.47h4v1h-4zM587.4 740.07h4v0.6h-4zM587.4 745.97h4v1h-4z"/>
</g>
<rect x="574.7" y="398.3" width="19.8" height="3.7" fill="#e23e94"/>
<rect x="576.9" y="399.8" width="3.6" height="0.7" fill="#f58fc0" opacity="0.8"/>
<rect x="588.6" y="399.8" width="3.6" height="0.7" fill="#f58fc0" opacity="0.8"/>
<rect x="574.7" y="750.2" width="19.8" height="3" fill="#e23e94"/>
<rect x="576.9" y="751.35" width="3.6" height="0.7" fill="#f58fc0" opacity="0.8"/>
<rect x="588.6" y="751.35" width="3.6" height="0.7" fill="#f58fc0" opacity="0.8"/>
<clipPath id="cb19"><rect x="581.8" y="398.3" width="5.6" height="354.9"/></clipPath>
<g clip-path="url(#cb19)"><g filter="url(#vb2)">
<rect x="580.8" y="394.3" width="7.6" height="7.75" fill="#12a550"/>
<rect x="580.8" y="402" width="7.6" height="21.17" fill="#12a550"/>
<rect x="580.8" y="423.12" width="7.6" height="4.02" fill="#a8d33c"/>
<rect x="580.8" y="427.1" width="7.6" height="2.04" fill="#12a550"/>
<rect x="580.8" y="429.08" width="7.6" height="3.03" fill="#a8d33c"/>
<rect x="580.8" y="432.06" width="7.6" height="8" fill="#12a550"/>
<rect x="580.8" y="440.01" width="7.6" height="10.97" fill="#12a550"/>
<rect x="580.8" y="450.93" width="7.6" height="4.02" fill="#f3e535"/>
<rect x="580.8" y="454.9" width="7.6" height="5.02" fill="#12a550"/>
<rect x="580.8" y="459.87" width="7.6" height="5.02" fill="#a8d33c"/>
<rect x="580.8" y="464.84" width="7.6" height="7" fill="#12a550"/>
<rect x="580.8" y="471.79" width="7.6" height="0.92" fill="#f4902d"/>
<rect x="580.8" y="472.66" width="7.6" height="2.28" fill="#ee3f2e"/>
<rect x="580.8" y="474.89" width="7.6" height="0.92" fill="#f8c230"/>
<rect x="580.8" y="475.76" width="7.6" height="11.97" fill="#12a550"/>
<rect x="580.8" y="487.69" width="7.6" height="8" fill="#a8d33c"/>
<rect x="580.8" y="495.63" width="7.6" height="5.02" fill="#f8c230"/>
<rect x="580.8" y="500.6" width="7.6" height="12.96" fill="#12a550"/>
<rect x="580.8" y="513.51" width="7.6" height="4.02" fill="#a8d33c"/>
<rect x="580.8" y="517.49" width="7.6" height="18.93" fill="#12a550"/>
<rect x="580.8" y="536.36" width="7.6" height="7" fill="#f3e535"/>
<rect x="580.8" y="543.32" width="7.6" height="2.04" fill="#12a550"/>
<rect x="580.8" y="545.3" width="7.6" height="3.03" fill="#ee3f2e"/>
<rect x="580.8" y="548.29" width="7.6" height="7" fill="#a8d33c"/>
<rect x="580.8" y="555.24" width="7.6" height="12.96" fill="#12a550"/>
<rect x="580.8" y="568.15" width="7.6" height="5.02" fill="#f3e535"/>
<rect x="580.8" y="573.12" width="7.6" height="6.01" fill="#a8d33c"/>
<rect x="580.8" y="579.08" width="7.6" height="8.99" fill="#12a550"/>
<rect x="580.8" y="588.02" width="7.6" height="7" fill="#12a550"/>
<rect x="580.8" y="594.97" width="7.6" height="3.78" fill="#a8d33c"/>
<rect x="580.8" y="598.7" width="7.6" height="18.68" fill="#12a550"/>
<rect x="580.8" y="617.33" width="7.6" height="6.26" fill="#f3e535"/>
<rect x="580.8" y="623.54" width="7.6" height="5.02" fill="#12a550"/>
<rect x="580.8" y="628.51" width="7.6" height="5.02" fill="#a8d33c"/>
<rect x="580.8" y="633.48" width="7.6" height="0.87" fill="#f4902d"/>
<rect x="580.8" y="634.3" width="7.6" height="2.14" fill="#ee3f2e"/>
<rect x="580.8" y="636.39" width="7.6" height="0.87" fill="#f8c230"/>
<rect x="580.8" y="637.2" width="7.6" height="6.26" fill="#f3e535"/>
<rect x="580.8" y="643.42" width="7.6" height="8.75" fill="#12a550"/>
<rect x="580.8" y="652.11" width="7.6" height="12.47" fill="#1ba4e4"/>
<rect x="580.8" y="664.53" width="7.6" height="3.78" fill="#1666c9"/>
<rect x="580.8" y="668.26" width="7.6" height="11.23" fill="#1ba4e4"/>
<rect x="580.8" y="679.44" width="7.6" height="19.93" fill="#12a550"/>
<rect x="580.8" y="699.32" width="7.6" height="5.02" fill="#a8d33c"/>
<rect x="580.8" y="704.29" width="7.6" height="21.17" fill="#12a550"/>
<rect x="580.8" y="725.4" width="7.6" height="7.5" fill="#a8d33c"/>
<rect x="580.8" y="732.86" width="7.6" height="8.75" fill="#12a550"/>
<rect x="580.8" y="741.55" width="7.6" height="8.7" fill="#a8d33c"/>
<rect x="580.8" y="750.2" width="7.6" height="3.05" fill="#a8d33c"/>
<rect x="580.8" y="753.2" width="7.6" height="4" fill="#a8d33c"/>
<path fill="#3fb64a" opacity="0.68" d="M580.8 400.24h7.6v0.8h-7.6zM580.8 424.37h7.6v1.2h-7.6zM580.8 433.85h7.6v0.7h-7.6zM580.8 441.9h7.6v0.7h-7.6zM580.8 455.73h7.6v1.2h-7.6zM580.8 463.78h7.6v0.8h-7.6zM580.8 469.58h7.6v0.6h-7.6zM580.8 482.28h7.6v0.8h-7.6zM580.8 508.38h7.6v1.2h-7.6zM580.8 525.25h7.6v0.8h-7.6zM580.8 533.81h7.6v1h-7.6zM580.8 541h7.6v1h-7.6zM580.8 558.43h7.6v1.2h-7.6zM580.8 561.35h7.6v0.7h-7.6zM580.8 564.18h7.6v1h-7.6zM580.8 574.95h7.6v0.6h-7.6zM580.8 592.52h7.6v1h-7.6zM580.8 600.25h7.6v1.2h-7.6zM580.8 603.33h7.6v1.2h-7.6zM580.8 606.04h7.6v1.2h-7.6zM580.8 618.63h7.6v0.8h-7.6zM580.8 624.67h7.6v1h-7.6zM580.8 629.46h7.6v1.2h-7.6zM580.8 645.31h7.6v1.2h-7.6zM580.8 648.93h7.6v0.6h-7.6zM580.8 697.48h7.6v1.2h-7.6zM580.8 705.1h7.6v0.8h-7.6zM580.8 714.75h7.6v1h-7.6zM580.8 717.28h7.6v1.2h-7.6zM580.8 730.07h7.6v1h-7.6zM580.8 743.32h7.6v0.6h-7.6z"/>
<path fill="#a8d33c" opacity="0.68" d="M580.8 402.98h7.6v1h-7.6zM580.8 406.81h7.6v0.7h-7.6zM580.8 410.98h7.6v1.2h-7.6zM580.8 420.39h7.6v1.2h-7.6zM580.8 437.62h7.6v1h-7.6zM580.8 445.5h7.6v0.8h-7.6zM580.8 466.36h7.6v0.8h-7.6zM580.8 476.82h7.6v1h-7.6zM580.8 479.87h7.6v1.2h-7.6zM580.8 486.6h7.6v0.6h-7.6zM580.8 501.99h7.6v1h-7.6zM580.8 504.55h7.6v0.8h-7.6zM580.8 511.21h7.6v0.7h-7.6zM580.8 521.75h7.6v1h-7.6zM580.8 556.3h7.6v0.8h-7.6zM580.8 585.16h7.6v1.2h-7.6zM580.8 589.61h7.6v1.2h-7.6zM580.8 610.71h7.6v1.2h-7.6zM580.8 614h7.6v0.8h-7.6zM580.8 621.55h7.6v0.7h-7.6zM580.8 680.5h7.6v0.8h-7.6zM580.8 683.21h7.6v1h-7.6zM580.8 687.77h7.6v0.6h-7.6zM580.8 690.52h7.6v1h-7.6zM580.8 708.51h7.6v0.7h-7.6zM580.8 711.26h7.6v0.7h-7.6zM580.8 734.5h7.6v0.7h-7.6zM580.8 738.02h7.6v1.2h-7.6zM580.8 747.96h7.6v0.7h-7.6z"/>
<path fill="#f3e535" opacity="0.68" d="M580.8 414.98h7.6v0.7h-7.6zM580.8 418.04h7.6v0.7h-7.6zM580.8 430.87h7.6v0.6h-7.6zM580.8 448.66h7.6v1h-7.6zM580.8 461.18h7.6v1h-7.6zM580.8 514.95h7.6v0.6h-7.6zM580.8 518.9h7.6v1h-7.6zM580.8 528.24h7.6v1.2h-7.6zM580.8 531.15h7.6v0.8h-7.6zM580.8 537.32h7.6v1h-7.6zM580.8 580.78h7.6v1.2h-7.6zM580.8 638.32h7.6v1h-7.6zM580.8 693.54h7.6v0.8h-7.6zM580.8 700.58h7.6v1.2h-7.6zM580.8 721.42h7.6v0.6h-7.6zM580.8 745.17h7.6v0.6h-7.6z"/>
<path fill="#12a550" opacity="0.68" d="M580.8 452.65h7.6v0.7h-7.6zM580.8 489h7.6v1h-7.6zM580.8 491.36h7.6v1.2h-7.6zM580.8 494.62h7.6v1h-7.6zM580.8 497.12h7.6v1h-7.6zM580.8 549.93h7.6v1h-7.6zM580.8 553.46h7.6v0.7h-7.6zM580.8 569.79h7.6v0.7h-7.6zM580.8 576.8h7.6v0.7h-7.6zM580.8 596.41h7.6v1h-7.6zM580.8 703.1h7.6v1.2h-7.6zM580.8 726.93h7.6v0.6h-7.6zM580.8 751.03h7.6v1.2h-7.6z"/>
<path fill="#2db4ee" opacity="0.68" d="M580.8 653.89h7.6v0.7h-7.6zM580.8 660.44h7.6v1.2h-7.6zM580.8 669.38h7.6v0.7h-7.6zM580.8 672.62h7.6v0.6h-7.6zM580.8 676.62h7.6v0.7h-7.6z"/>
<path fill="#0fa98c" opacity="0.68" d="M580.8 656.35h7.6v0.6h-7.6z"/>
</g>
<rect x="581.8" y="398.3" width="0.45" height="354.9" fill="#0d6b4a" opacity="0.35"/>
<rect x="586.95" y="398.3" width="0.45" height="354.9" fill="#0d6b4a" opacity="0.35"/>
</g>
<g filter="url(#sb)">
<rect x="613.5" y="303.5" width="8.8" height="444.3" fill="#d9eef0" opacity="0.55"/>
<path fill="#9ba2b0" d="M611.1 304.12h4v0.8h-4zM611.1 345.62h4v1.2h-4zM611.1 353.72h4v1.2h-4zM611.1 373.12h4v0.7h-4zM611.1 385.92h4v0.5h-4zM611.1 386.72h4v0.7h-4zM611.66 399.32h3.44v2h-3.44zM611.1 402.22h4v1.2h-4zM611.1 417.02h4v1h-4zM611.1 434.22h4v0.6h-4zM611.1 478.12h4v0.8h-4zM611.1 485.82h4v0.5h-4zM612.58 499.32h2.52v0.5h-2.52zM611.1 563.82h4v0.8h-4zM611.1 575.32h4v1h-4zM611.1 599.62h4v1.2h-4zM612.19 613.42h2.91v1h-2.91zM611.1 624.52h4v0.7h-4zM611.1 638.22h4v1.5h-4zM611.1 642.92h4v1.2h-4zM611.1 655.22h4v1.5h-4zM611.1 701.62h4v0.7h-4zM611.1 703.02h4v0.7h-4zM611.1 710.32h4v0.7h-4zM620.7 304.22h4v2h-4zM620.7 315.72h3.79v0.6h-3.79zM620.7 321.42h4v0.8h-4zM620.7 324.92h4v1.5h-4zM620.7 329.42h4v1.2h-4zM620.7 335.12h4v1h-4zM620.7 344.92h4v0.8h-4zM620.7 346.22h2.57v0.6h-2.57zM620.7 349.22h4v1.2h-4zM620.7 372.52h4v2h-4zM620.7 379.42h4v0.6h-4zM620.7 389.02h4v0.7h-4zM620.7 414.02h4v0.7h-4zM620.7 438.52h2.45v0.6h-2.45zM620.7 453.92h4v1.5h-4zM620.7 504.92h3.32v0.8h-3.32zM620.7 542.72h4v0.6h-4zM620.7 543.82h3.4v0.6h-3.4zM620.7 554.02h4v1h-4zM620.7 584.22h4v1h-4zM620.7 596.12h4v0.5h-4zM620.7 640.02h2.74v0.6h-2.74zM620.7 642.52h4v0.6h-4zM620.7 689.92h4v1.2h-4zM620.7 719.52h4v2h-4z"/>
<path fill="#c8ccd5" d="M611.1 308.12h4v0.6h-4zM611.71 309.92h3.39v1.2h-3.39zM611.1 314.62h4v0.6h-4zM611.1 357.42h4v1h-4zM611.95 393.72h3.15v0.5h-3.15zM611.1 411.82h4v2h-4zM611.1 495.12h4v1.2h-4zM611.1 510.42h4v0.7h-4zM611.1 519.92h4v0.6h-4zM611.1 557.82h4v2h-4zM611.1 567.62h4v0.5h-4zM611.37 571.02h3.73v0.8h-3.73zM612.48 576.82h2.62v1.2h-2.62zM611.1 587.12h4v0.5h-4zM611.1 596.72h4v0.8h-4zM611.1 605.02h4v2h-4zM611.1 616.82h4v1.2h-4zM611.1 622.42h4v0.5h-4zM611.1 632.02h4v2h-4zM611.1 641.32h4v0.7h-4zM611.1 666.42h4v0.5h-4zM611.1 699.22h4v1.2h-4zM611.1 713.42h4v0.5h-4zM620.7 343.52h4v0.7h-4zM620.7 387.72h4v0.8h-4zM620.7 390.22h4v0.6h-4zM620.7 397.02h4v0.7h-4zM620.7 470.02h4v0.8h-4zM620.7 474.02h4v0.7h-4zM620.7 506.42h4v0.8h-4zM620.7 523.82h4v0.7h-4zM620.7 527.42h4v0.5h-4zM620.7 550.72h4v1.2h-4zM620.7 570.22h4v0.5h-4zM620.7 588.32h4v1.5h-4zM620.7 599.02h4v1.2h-4zM620.7 604.52h3.26v2h-3.26zM620.7 613.12h4v0.6h-4zM620.7 614.22h4v0.5h-4zM620.7 615.02h4v0.7h-4zM620.7 633.52h4v0.5h-4zM620.7 667.72h4v0.7h-4zM620.7 671.32h4v0.8h-4zM620.7 697.92h4v0.6h-4zM620.7 707.42h4v0.7h-4zM620.7 732.32h4v2h-4zM620.7 745.02h4v0.6h-4z"/>
<path fill="#abb1be" d="M611.1 312.72h4v1h-4zM611.1 326.32h4v1.2h-4zM611.1 340.12h4v0.8h-4zM611.1 356.12h4v0.6h-4zM611.1 371.12h4v0.8h-4zM611.1 395.12h4v2h-4zM611.1 423.52h4v1h-4zM611.1 443.92h4v0.6h-4zM611.1 450.72h4v0.6h-4zM612.06 459.82h3.04v0.6h-3.04zM611.1 460.72h4v0.7h-4zM611.1 470.92h4v2h-4zM611.1 491.62h4v0.6h-4zM611.1 492.72h4v1.2h-4zM611.1 507.32h4v0.7h-4zM611.1 533.22h4v0.8h-4zM611.1 542.92h4v0.7h-4zM611.1 584.32h4v1.2h-4zM612.44 590.82h2.66v2h-2.66zM611.1 597.82h4v0.6h-4zM611.99 651.52h3.11v0.6h-3.11zM611.1 691.02h4v0.7h-4zM611.1 698.12h4v0.6h-4zM611.1 711.72h4v0.8h-4zM612.02 715.52h3.08v1.5h-3.08zM612.21 721.82h2.89v0.7h-2.89zM611.1 737.52h4v0.8h-4zM620.7 340.52h4v0.5h-4zM620.7 356.32h3.59v2h-3.59zM620.7 375.72h4v1.2h-4zM620.7 410.62h4v1h-4zM620.7 433.12h4v0.8h-4zM620.7 436.32h2.68v1h-2.68zM620.7 456.12h3.58v1.5h-3.58zM620.7 532.32h4v0.6h-4zM620.7 552.62h4v0.7h-4zM620.7 574.72h4v0.5h-4zM620.7 601.82h3.68v2h-3.68zM620.7 608.12h4v0.5h-4zM620.7 618.92h4v0.6h-4zM620.7 681.22h4v1.2h-4zM620.7 691.42h4v1.2h-4zM620.7 715.12h4v0.7h-4z"/>
<path fill="#d5d8df" d="M612.15 315.72h2.95v0.5h-2.95zM612.25 324.32h2.85v0.8h-2.85zM612.05 339.12h3.05v0.5h-3.05zM611.1 347.12h4v1.5h-4zM611.1 351.82h4v1h-4zM611.1 366.52h4v1h-4zM611.1 380.72h4v1.5h-4zM612.67 383.42h2.43v2h-2.43zM612.4 406.62h2.7v0.8h-2.7zM611.1 431.82h4v0.8h-4zM611.1 445.22h4v1h-4zM611.93 458.12h3.17v0.8h-3.17zM612.34 481.32h2.76v0.6h-2.76zM611.1 483.72h4v0.5h-4zM611.1 546.72h4v1.2h-4zM611.1 554.92h4v0.5h-4zM611.1 563.02h4v0.5h-4zM611.1 609.52h4v0.7h-4zM611.1 653.02h4v1h-4zM611.1 684.42h4v1.2h-4zM611.1 695.22h4v0.5h-4zM611.1 709.02h4v0.8h-4zM612.16 723.22h2.94v2h-2.94zM611.1 742.32h4v0.5h-4zM611.1 744.42h4v1h-4zM620.7 318.72h4v2h-4zM620.7 328.02h4v0.7h-4zM620.7 338.52h4v1.5h-4zM620.7 352.12h4v1h-4zM620.7 391.32h3.41v1.5h-3.41zM620.7 421.52h4v1h-4zM620.7 426.62h4v1.2h-4zM620.7 430.92h4v0.6h-4zM620.7 461.72h4v0.7h-4zM620.7 501.92h4v1.2h-4zM620.7 510.42h4v1.5h-4zM620.7 513.52h4v1h-4zM620.7 529.62h4v2h-4zM620.7 535.22h4v1.2h-4zM620.7 577.72h4v2h-4zM620.7 621.12h4v0.5h-4zM620.7 627.12h4v2h-4zM620.7 634.32h4v1h-4zM620.7 678.52h4v2h-4zM620.7 695.02h4v0.5h-4zM620.7 735.52h4v1.5h-4zM620.7 740.62h4v1.5h-4z"/>
<path fill="#ced1d9" d="M611.1 318.62h4v1.5h-4zM611.1 329.92h4v1h-4zM612.35 335.92h2.75v0.8h-2.75zM611.1 359.92h4v1.2h-4zM611.1 368.72h4v1.5h-4zM611.1 375.02h4v0.6h-4zM611.98 376.82h3.12v0.5h-3.12zM611.1 447.12h4v1.2h-4zM611.1 463.92h4v0.6h-4zM611.1 467.82h4v0.7h-4zM611.1 511.82h4v2h-4zM611.1 532.22h4v0.5h-4zM611.1 548.22h4v0.7h-4zM611.1 551.32h4v2h-4zM611.1 619.62h4v1h-4zM611.1 636.42h4v0.6h-4zM611.1 650.52h4v0.5h-4zM611.1 678.12h4v1.2h-4zM611.1 717.92h4v1.5h-4zM611.1 726.82h4v2h-4zM620.7 309.42h4v0.5h-4zM620.7 313.72h4v0.8h-4zM620.7 342.22h4v0.6h-4zM620.7 377.42h4v0.5h-4zM620.7 378.42h4v0.7h-4zM620.7 382.42h4v2h-4zM620.7 386.82h4v0.6h-4zM620.7 393.12h4v1.5h-4zM620.7 445.22h4v0.6h-4zM620.7 452.22h4v1h-4zM620.7 467.52h2.5v2h-2.5zM620.7 488.32h4v1.5h-4zM620.7 515.72h4v2h-4zM620.7 518.92h4v1.5h-4zM620.7 526.12h4v1h-4zM620.7 528.22h2.92v0.5h-2.92zM620.7 556.62h4v1.2h-4zM620.7 576.42h4v1h-4zM620.7 637.82h4v0.6h-4zM620.7 657.32h4v1h-4zM620.7 673.02h4v1.5h-4zM620.7 675.42h4v1.5h-4zM620.7 698.82h4v1.5h-4zM620.7 703.52h4v0.7h-4z"/>
<path fill="#f0e07a" d="M611.1 322.52h4v0.6h-4zM612.16 397.42h2.94v0.7h-2.94zM611.1 482.42h4v0.6h-4zM611.1 514.72h4v0.7h-4zM611.1 531.22h4v0.5h-4zM611.1 550.52h4v0.5h-4zM611.1 568.82h4v1h-4zM611.5 594.02h3.6v1.5h-3.6zM611.1 604.02h4v0.5h-4zM611.1 667.62h4v2h-4zM612.12 686.32h2.98v0.8h-2.98zM611.1 687.82h4v0.8h-4zM611.1 694.22h4v0.7h-4zM611.1 708.12h4v0.6h-4zM620.7 359.52h3.38v0.5h-3.38zM620.7 360.52h4v2h-4zM620.7 365.72h3.57v0.5h-3.57zM620.7 369.42h4v0.7h-4zM620.7 416.92h3.58v1h-3.58zM620.7 449.02h4v2h-4zM620.7 460.12h4v0.7h-4zM620.7 477.92h4v0.5h-4zM620.7 503.82h4v0.8h-4zM620.7 593.02h4v1.2h-4zM620.7 650.82h2.8v1h-2.8zM620.7 742.82h4v1h-4z"/>
<path fill="#c2c7d1" d="M612.23 331.22h2.87v1.2h-2.87zM612.59 333.62h2.51v0.7h-2.51zM611.1 344.12h4v0.8h-4zM611.1 419.62h4v0.7h-4zM611.1 454.52h4v0.7h-4zM611.1 463.02h4v0.6h-4zM611.1 484.72h4v0.8h-4zM611.1 516.12h4v0.6h-4zM611.1 523.72h4v0.8h-4zM611.1 525.22h4v0.6h-4zM611.1 534.32h4v1.2h-4zM611.1 536.72h4v0.7h-4zM611.1 537.92h4v1h-4zM611.1 543.92h4v1.2h-4zM611.1 565.52h4v0.5h-4zM611.1 573.42h4v1h-4zM611.1 621.32h4v0.6h-4zM611.1 658.32h4v0.5h-4zM611.1 662.02h4v1.2h-4zM611.1 692.42h4v0.6h-4zM611.1 704.22h4v0.7h-4zM611.1 731.72h4v1h-4zM620.7 310.22h4v0.6h-4zM620.7 333.02h4v0.5h-4zM620.7 353.62h4v2h-4zM620.7 419.12h4v0.8h-4zM620.7 439.62h3.56v0.7h-3.56zM620.7 442.72h4v2h-4zM620.7 466.42h3.55v0.8h-3.55zM620.7 495.02h4v1h-4zM620.7 500.42h4v1h-4zM620.7 534.12h4v0.6h-4zM620.7 537.32h4v1.5h-4zM620.7 561.72h3.35v0.6h-3.35zM620.7 565.52h4v1.5h-4zM620.7 569.02h3.37v0.7h-3.37zM620.7 573.42h4v0.8h-4zM620.7 611.02h4v1.2h-4zM620.7 635.62h2.84v1h-2.84zM620.7 640.92h4v0.7h-4zM620.7 647.62h4v2h-4zM620.7 654.22h2.72v1.5h-2.72zM620.7 665.42h4v2h-4zM620.7 669.12h4v1.5h-4zM620.7 684.82h4v1.2h-4zM620.7 716.52h4v0.8h-4zM620.7 722.42h4v2h-4zM620.7 745.92h4v1.88h-4z"/>
<path fill="#babfcb" d="M611.1 359.12h4v0.5h-4zM611.1 377.62h4v0.7h-4zM611.1 391.52h4v1.5h-4zM611.1 410.62h4v0.5h-4zM611.1 425.02h4v1.5h-4zM611.1 430.12h4v1h-4zM611.1 438.02h4v1h-4zM611.1 440.62h4v0.8h-4zM611.1 442.62h4v1h-4zM611.1 455.92h4v0.6h-4zM611.1 466.12h4v0.5h-4zM611.1 474.52h4v1.2h-4zM611.1 489.52h4v0.5h-4zM611.1 497.92h4v0.5h-4zM611.1 500.72h4v1.5h-4zM611.1 503.42h4v1.2h-4zM611.93 505.52h3.17v1.5h-3.17zM611.32 528.22h3.78v0.6h-3.78zM611.1 540.12h4v1.2h-4zM611.1 630.52h4v1.2h-4zM611.1 647.32h4v0.8h-4zM611.1 671.32h4v2h-4zM611.1 674.52h4v2h-4zM611.1 682.52h4v1.2h-4zM611.1 730.02h4v0.8h-4zM611.1 739.22h4v0.7h-4zM611.1 745.92h4v1.2h-4zM620.7 311.52h4v1h-4zM620.7 323.82h4v0.8h-4zM620.7 350.72h3.04v0.5h-3.04zM620.7 398.92h4v0.6h-4zM620.7 402.72h4v0.8h-4zM620.7 406.72h4v0.5h-4zM620.7 408.42h3.66v1.5h-3.66zM620.7 415.62h4v0.6h-4zM620.7 423.22h4v1h-4zM620.7 429.42h2.64v0.8h-2.64zM620.7 458.32h4v0.6h-4zM620.7 463.62h4v1.2h-4zM620.7 478.92h4v1.5h-4zM620.7 483.62h4v1.5h-4zM620.7 499.22h3.6v0.5h-3.6zM620.7 522.02h2.87v1.5h-2.87zM620.7 539.52h3.13v0.8h-3.13zM620.7 545.32h4v1.2h-4zM620.7 549.72h4v0.5h-4zM620.7 558.12h4v2h-4zM620.7 567.32h4v0.8h-4zM620.7 571.02h4v1.2h-4zM620.7 581.32h4v2h-4zM620.7 586.82h4v0.8h-4zM620.7 624.02h2.89v0.7h-2.89zM620.7 630.32h4v1h-4zM620.7 631.82h4v1.2h-4zM620.7 644.72h4v0.5h-4zM620.7 658.62h2.93v0.8h-2.93zM620.7 662.62h4v1.2h-4zM620.7 687.22h4v1.5h-4zM620.7 717.82h4v0.5h-4zM620.7 726.82h4v2h-4zM620.7 729.52h3.53v1.2h-3.53zM620.7 738.22h4v0.8h-4z"/>
<path fill="#f2c274" d="M611.1 363.52h4v0.6h-4zM611.1 389.82h4v0.5h-4zM611.1 428.12h4v0.8h-4zM612.5 580.42h2.6v0.7h-2.6zM611.1 607.32h4v1.5h-4zM611.1 626.12h4v1.2h-4zM611.1 670.12h4v0.7h-4zM611.1 734.32h4v2h-4zM620.7 490.32h4v1.5h-4zM620.7 594.92h4v0.5h-4zM620.7 711.32h4v0.7h-4zM620.7 713.62h3.33v0.6h-3.33z"/>
</g>
<rect x="608" y="747.8" width="19.8" height="5.4" fill="#e23e94"/>
<rect x="610.2" y="750.15" width="3.6" height="0.7" fill="#f58fc0" opacity="0.8"/>
<rect x="621.9" y="750.15" width="3.6" height="0.7" fill="#f58fc0" opacity="0.8"/>
<clipPath id="cb20"><rect x="615.1" y="303.5" width="5.6" height="449.7"/></clipPath>
<g clip-path="url(#cb20)"><g filter="url(#vb2)">
<rect x="614.1" y="299.5" width="7.6" height="6.05" fill="#1ba4e4"/>
<rect x="614.1" y="305.5" width="7.6" height="4.42" fill="#12a550"/>
<rect x="614.1" y="309.87" width="7.6" height="7" fill="#a8d33c"/>
<rect x="614.1" y="316.82" width="7.6" height="8" fill="#12a550"/>
<rect x="614.1" y="324.77" width="7.6" height="4.02" fill="#0fa98c"/>
<rect x="614.1" y="328.74" width="7.6" height="6.01" fill="#12a550"/>
<rect x="614.1" y="334.7" width="7.6" height="5.02" fill="#f3e535"/>
<rect x="614.1" y="339.67" width="7.6" height="3.03" fill="#12a550"/>
<rect x="614.1" y="342.65" width="7.6" height="4.02" fill="#a8d33c"/>
<rect x="614.1" y="346.63" width="7.6" height="7" fill="#12a550"/>
<rect x="614.1" y="353.58" width="7.6" height="8" fill="#f8c230"/>
<rect x="614.1" y="361.53" width="7.6" height="11.97" fill="#12a550"/>
<rect x="614.1" y="373.45" width="7.6" height="2.04" fill="#a8d33c"/>
<rect x="614.1" y="375.44" width="7.6" height="3.03" fill="#12a550"/>
<rect x="614.1" y="378.42" width="7.6" height="2.04" fill="#f3e535"/>
<rect x="614.1" y="380.4" width="7.6" height="5.02" fill="#12a550"/>
<rect x="614.1" y="385.37" width="7.6" height="3.03" fill="#a8d33c"/>
<rect x="614.1" y="388.35" width="7.6" height="3.03" fill="#12a550"/>
<rect x="614.1" y="391.33" width="7.6" height="4.02" fill="#a8d33c"/>
<rect x="614.1" y="395.3" width="7.6" height="7" fill="#12a550"/>
<rect x="614.1" y="402.26" width="7.6" height="7" fill="#a8d33c"/>
<rect x="614.1" y="409.21" width="7.6" height="15.95" fill="#12a550"/>
<rect x="614.1" y="425.11" width="7.6" height="4.02" fill="#a8d33c"/>
<rect x="614.1" y="429.08" width="7.6" height="10.98" fill="#12a550"/>
<rect x="614.1" y="440.01" width="7.6" height="10.97" fill="#0fa98c"/>
<rect x="614.1" y="450.93" width="7.6" height="4.02" fill="#f8c230"/>
<rect x="614.1" y="454.9" width="7.6" height="7" fill="#12a550"/>
<rect x="614.1" y="461.86" width="7.6" height="4.02" fill="#a8d33c"/>
<rect x="614.1" y="465.83" width="7.6" height="15.95" fill="#12a550"/>
<rect x="614.1" y="481.72" width="7.6" height="3.03" fill="#a8d33c"/>
<rect x="614.1" y="484.7" width="7.6" height="10.98" fill="#12a550"/>
<rect x="614.1" y="495.63" width="7.6" height="3.03" fill="#a8d33c"/>
<rect x="614.1" y="498.61" width="7.6" height="5.02" fill="#12a550"/>
<rect x="614.1" y="503.58" width="7.6" height="4.02" fill="#f3e535"/>
<rect x="614.1" y="507.55" width="7.6" height="4.02" fill="#12a550"/>
<rect x="614.1" y="511.53" width="7.6" height="3.03" fill="#a8d33c"/>
<rect x="614.1" y="514.51" width="7.6" height="5.02" fill="#12a550"/>
<rect x="614.1" y="519.48" width="7.6" height="4.02" fill="#0fa98c"/>
<rect x="614.1" y="523.45" width="7.6" height="11.97" fill="#1ba4e4"/>
<rect x="614.1" y="535.37" width="7.6" height="6.01" fill="#12a550"/>
<rect x="614.1" y="541.33" width="7.6" height="3.03" fill="#a8d33c"/>
<rect x="614.1" y="544.31" width="7.6" height="7" fill="#12a550"/>
<rect x="614.1" y="551.27" width="7.6" height="11.97" fill="#1ba4e4"/>
<rect x="614.1" y="563.19" width="7.6" height="8.99" fill="#1ba4e4"/>
<rect x="614.1" y="572.13" width="7.6" height="7" fill="#0fa98c"/>
<rect x="614.1" y="579.08" width="7.6" height="8.99" fill="#12a550"/>
<rect x="614.1" y="588.02" width="7.6" height="7" fill="#12a550"/>
<rect x="614.1" y="594.97" width="7.6" height="5.02" fill="#a8d33c"/>
<rect x="614.1" y="599.94" width="7.6" height="17.44" fill="#12a550"/>
<rect x="614.1" y="617.33" width="7.6" height="3.78" fill="#a8d33c"/>
<rect x="614.1" y="621.06" width="7.6" height="8.75" fill="#12a550"/>
<rect x="614.1" y="629.75" width="7.6" height="8.75" fill="#f3e535"/>
<rect x="614.1" y="638.45" width="7.6" height="13.71" fill="#12a550"/>
<rect x="614.1" y="652.11" width="7.6" height="6.26" fill="#1ba4e4"/>
<rect x="614.1" y="658.32" width="7.6" height="22.41" fill="#12a550"/>
<rect x="614.1" y="680.68" width="7.6" height="8.75" fill="#a8d33c"/>
<rect x="614.1" y="689.38" width="7.6" height="14.96" fill="#f3e535"/>
<rect x="614.1" y="704.29" width="7.6" height="12.47" fill="#12a550"/>
<rect x="614.1" y="716.71" width="7.6" height="3.78" fill="#f3e535"/>
<rect x="614.1" y="720.43" width="7.6" height="13.71" fill="#12a550"/>
<rect x="614.1" y="734.1" width="7.6" height="5.02" fill="#a8d33c"/>
<rect x="614.1" y="739.07" width="7.6" height="6.26" fill="#0fa98c"/>
<rect x="614.1" y="745.28" width="7.6" height="2.53" fill="#12a550"/>
<rect x="614.1" y="747.76" width="7.6" height="0.09" fill="#12a550"/>
<rect x="614.1" y="747.8" width="7.6" height="5.45" fill="#1ba4e4"/>
<rect x="614.1" y="753.2" width="7.6" height="4" fill="#1ba4e4"/>
<path fill="#a8d33c" opacity="0.68" d="M614.1 307.24h7.6v1h-7.6zM614.1 313.43h7.6v0.7h-7.6zM614.1 318.56h7.6v0.6h-7.6zM614.1 326.54h7.6v1.2h-7.6zM614.1 330.67h7.6v1h-7.6zM614.1 338.83h7.6v0.7h-7.6zM614.1 348.57h7.6v0.8h-7.6zM614.1 351.14h7.6v0.7h-7.6zM614.1 355.29h7.6v0.8h-7.6zM614.1 362.58h7.6v1h-7.6zM614.1 365.79h7.6v1h-7.6zM614.1 371.01h7.6v0.6h-7.6zM614.1 381.23h7.6v0.8h-7.6zM614.1 389.84h7.6v1h-7.6zM614.1 396.86h7.6v0.8h-7.6zM614.1 410.3h7.6v0.6h-7.6zM614.1 417.98h7.6v0.6h-7.6zM614.1 419.92h7.6v0.8h-7.6zM614.1 422.43h7.6v0.6h-7.6zM614.1 433.93h7.6v0.6h-7.6zM614.1 444.16h7.6v1h-7.6zM614.1 448.69h7.6v0.6h-7.6zM614.1 460.36h7.6v1h-7.6zM614.1 462.66h7.6v0.8h-7.6zM614.1 467.52h7.6v0.7h-7.6zM614.1 469.66h7.6v0.7h-7.6zM614.1 473.08h7.6v0.8h-7.6zM614.1 477.32h7.6v0.8h-7.6zM614.1 485.6h7.6v0.6h-7.6zM614.1 488.53h7.6v1h-7.6zM614.1 492.98h7.6v1h-7.6zM614.1 502.22h7.6v0.6h-7.6zM614.1 509.16h7.6v1h-7.6zM614.1 521.02h7.6v0.6h-7.6zM614.1 536.23h7.6v1h-7.6zM614.1 540.21h7.6v1h-7.6zM614.1 547.29h7.6v1.2h-7.6zM614.1 576.57h7.6v0.7h-7.6zM614.1 583.93h7.6v1.2h-7.6zM614.1 596.59h7.6v1.2h-7.6zM614.1 601.48h7.6v0.7h-7.6zM614.1 606.96h7.6v1h-7.6zM614.1 610.83h7.6v0.7h-7.6zM614.1 618.38h7.6v1h-7.6zM614.1 659.27h7.6v1.2h-7.6zM614.1 662.73h7.6v0.7h-7.6zM614.1 677.16h7.6v0.6h-7.6zM614.1 685.01h7.6v0.7h-7.6zM614.1 695.23h7.6v0.7h-7.6zM614.1 697.51h7.6v0.6h-7.6zM614.1 705.71h7.6v1.2h-7.6zM614.1 733.27h7.6v0.8h-7.6zM614.1 743.64h7.6v1h-7.6zM614.1 746.49h7.6v1h-7.6z"/>
<path fill="#3fb64a" opacity="0.68" d="M614.1 311.18h7.6v0.8h-7.6zM614.1 377.36h7.6v0.7h-7.6zM614.1 400.23h7.6v1h-7.6zM614.1 403.91h7.6v1h-7.6zM614.1 412.28h7.6v0.8h-7.6zM614.1 431.01h7.6v0.7h-7.6zM614.1 436.27h7.6v0.6h-7.6zM614.1 438.51h7.6v1.2h-7.6zM614.1 490.84h7.6v0.8h-7.6zM614.1 516.21h7.6v1.2h-7.6zM614.1 518.67h7.6v1.2h-7.6zM614.1 545.36h7.6v0.7h-7.6zM614.1 549.82h7.6v0.6h-7.6zM614.1 573.57h7.6v1h-7.6zM614.1 580.36h7.6v1h-7.6zM614.1 589.93h7.6v0.8h-7.6zM614.1 593.53h7.6v0.6h-7.6zM614.1 604.94h7.6v0.8h-7.6zM614.1 613.46h7.6v0.8h-7.6zM614.1 622.58h7.6v1.2h-7.6zM614.1 642.05h7.6v1.2h-7.6zM614.1 645.8h7.6v1h-7.6zM614.1 649.03h7.6v0.6h-7.6zM614.1 666.54h7.6v0.6h-7.6zM614.1 669.56h7.6v0.8h-7.6zM614.1 714.93h7.6v0.6h-7.6zM614.1 730.16h7.6v1h-7.6zM614.1 740.07h7.6v1h-7.6z"/>
<path fill="#12a550" opacity="0.68" d="M614.1 315.45h7.6v0.6h-7.6zM614.1 336.16h7.6v1.2h-7.6zM614.1 343.64h7.6v1h-7.6zM614.1 358.66h7.6v0.6h-7.6zM614.1 387.04h7.6v0.8h-7.6zM614.1 426.25h7.6v1.2h-7.6zM614.1 496.99h7.6v1h-7.6zM614.1 505.27h7.6v1h-7.6zM614.1 512.77h7.6v0.6h-7.6zM614.1 635.02h7.6v1h-7.6zM614.1 681.81h7.6v1.2h-7.6zM614.1 687.21h7.6v0.8h-7.6zM614.1 691.01h7.6v0.7h-7.6zM614.1 699.93h7.6v0.7h-7.6zM614.1 717.51h7.6v0.6h-7.6zM614.1 735.5h7.6v1.2h-7.6z"/>
<path fill="#f3e535" opacity="0.68" d="M614.1 320.68h7.6v0.8h-7.6zM614.1 341.16h7.6v0.7h-7.6zM614.1 368.77h7.6v1h-7.6zM614.1 392.95h7.6v0.7h-7.6zM614.1 406.51h7.6v0.7h-7.6zM614.1 415.21h7.6v0.8h-7.6zM614.1 441.6h7.6v0.8h-7.6zM614.1 452.82h7.6v0.8h-7.6zM614.1 456.25h7.6v0.6h-7.6zM614.1 483.29h7.6v0.8h-7.6zM614.1 499.49h7.6v1h-7.6zM614.1 542.26h7.6v0.8h-7.6zM614.1 627.25h7.6v0.8h-7.6zM614.1 631.66h7.6v0.8h-7.6zM614.1 640.01h7.6v0.7h-7.6zM614.1 672.6h7.6v1.2h-7.6zM614.1 702.07h7.6v1h-7.6zM614.1 710.49h7.6v1h-7.6zM614.1 721.4h7.6v1h-7.6zM614.1 724.78h7.6v0.6h-7.6zM614.1 727.64h7.6v1.2h-7.6z"/>
<path fill="#0fa98c" opacity="0.68" d="M614.1 525.23h7.6v1h-7.6zM614.1 555.3h7.6v1.2h-7.6zM614.1 558.99h7.6v0.6h-7.6zM614.1 566.72h7.6v0.8h-7.6z"/>
<path fill="#2db4ee" opacity="0.68" d="M614.1 528.9h7.6v0.6h-7.6zM614.1 532.24h7.6v1h-7.6zM614.1 552.86h7.6v0.8h-7.6zM614.1 561.55h7.6v1h-7.6zM614.1 564.37h7.6v0.8h-7.6zM614.1 568.72h7.6v0.7h-7.6zM614.1 571.1h7.6v0.7h-7.6zM614.1 653.01h7.6v0.6h-7.6zM614.1 655.63h7.6v1.2h-7.6zM614.1 748.62h7.6v1h-7.6z"/>
</g>
<rect x="615.1" y="303.5" width="0.45" height="449.7" fill="#0d6b4a" opacity="0.35"/>
<rect x="620.25" y="303.5" width="0.45" height="449.7" fill="#0d6b4a" opacity="0.35"/>
</g>
<path d="M297 173.7 L304.6 176.3 L297 178.9 Z" fill="#f5b062"/>
<rect x="304.2" y="175.8" width="3.1" height="1" fill="#5a4684"/>
<path d="M365 237.1 L358 239.7 L365 242.3 Z" fill="#f5b062"/>
<rect x="355.3" y="239.2" width="3.1" height="1" fill="#5a4684"/>
<path d="M398.8 162.6 L391.4 165.2 L398.8 167.8 Z" fill="#f5b062"/>
<rect x="388.7" y="164.7" width="3.1" height="1" fill="#5a4684"/>
<path d="M365 202.5 L372.4 205.1 L365 207.7 Z" fill="#f5b062"/>
<rect x="372" y="204.6" width="3.1" height="1" fill="#5a4684"/>
<path d="M397.8 136.7 L405.2 139.3 L397.8 141.9 Z" fill="#f5b062"/>
<rect x="404.8" y="138.8" width="3.1" height="1" fill="#5a4684"/>
<path d="M431.8 218.1 L423.6 220.7 L431.8 223.3 Z" fill="#f5b062"/>
<rect x="420.9" y="220.2" width="3.1" height="1" fill="#5a4684"/>
<path d="M464.9 241.5 L456.7 244.1 L464.9 246.7 Z" fill="#f5b062"/>
<rect x="454" y="243.6" width="3.1" height="1" fill="#5a4684"/>
<path d="M498.4 234.2 L490.3 236.8 L498.4 239.4 Z" fill="#f5b062"/>
<rect x="487.6" y="236.3" width="3.1" height="1" fill="#5a4684"/>
<path d="M530.2 210.6 L538 213.2 L530.2 215.8 Z" fill="#f5b062"/>
<rect x="537.6" y="212.7" width="3.1" height="1" fill="#5a4684"/>
<path d="M565 212.7 L557.4 215.3 L565 217.9 Z" fill="#f5b062"/>
<rect x="554.7" y="214.8" width="3.1" height="1" fill="#5a4684"/>
<path d="M598.1 88.8 L590.5 91.4 L598.1 94 Z" fill="#f5b062"/>
<rect x="587.8" y="90.9" width="3.1" height="1" fill="#5a4684"/>
<path d="M598.1 209.6 L590.5 212.2 L598.1 214.8 Z" fill="#f5b062"/>
<rect x="587.8" y="211.7" width="3.1" height="1" fill="#5a4684"/>
<path d="M596.2 98.6 L603.8 101.2 L596.2 103.8 Z" fill="#f5b062"/>
<rect x="603.4" y="100.7" width="3.1" height="1" fill="#5a4684"/>
<path d="M631.8 78 L624.2 80.6 L631.8 83.2 Z" fill="#f5b062"/>
<rect x="621.5" y="80.1" width="3.1" height="1" fill="#5a4684"/>
<path d="M367.9 648.2 L376 650.8 L367.9 653.4 Z" fill="#f5b062"/>
<rect x="375.6" y="650.3" width="3.1" height="1" fill="#5a4684"/>
<path d="M403.4 713.4 L395.3 716 L403.4 718.6 Z" fill="#f5b062"/>
<rect x="392.6" y="715.5" width="3.1" height="1" fill="#5a4684"/>
<path d="M435.1 585.9 L427 588.5 L435.1 591.1 Z" fill="#f5b062"/>
<rect x="424.3" y="588" width="3.1" height="1" fill="#5a4684"/>
<path d="M400.8 617 L408.9 619.6 L400.8 622.2 Z" fill="#f5b062"/>
<rect x="408.5" y="619.1" width="3.1" height="1" fill="#5a4684"/>
<path d="M435.6 703.4 L427.5 706 L435.6 708.6 Z" fill="#f5b062"/>
<rect x="424.8" y="705.5" width="3.1" height="1" fill="#5a4684"/>
<path d="M434.4 612.5 L442.5 615.1 L434.4 617.7 Z" fill="#f5b062"/>
<rect x="442.1" y="614.6" width="3.1" height="1" fill="#5a4684"/>
<path d="M469 670.7 L460.8 673.3 L469 675.9 Z" fill="#f5b062"/>
<rect x="458.1" y="672.8" width="3.1" height="1" fill="#5a4684"/>
<path d="M502.9 526.3 L495 528.9 L502.9 531.5 Z" fill="#f5b062"/>
<rect x="492.3" y="528.4" width="3.1" height="1" fill="#5a4684"/>
<path d="M502.9 641.9 L495 644.5 L502.9 647.1 Z" fill="#f5b062"/>
<rect x="492.3" y="644" width="3.1" height="1" fill="#5a4684"/>
<path d="M500.5 603.6 L508.4 606.2 L500.5 608.8 Z" fill="#f5b062"/>
<rect x="508" y="605.7" width="3.1" height="1" fill="#5a4684"/>
<path d="M536.2 719.9 L528 722.5 L536.2 725.1 Z" fill="#f5b062"/>
<rect x="525.3" y="722" width="3.1" height="1" fill="#5a4684"/>
<path d="M568.8 584.4 L560.8 587 L568.8 589.6 Z" fill="#f5b062"/>
<rect x="558.1" y="586.5" width="3.1" height="1" fill="#5a4684"/>
<path d="M568.8 712.2 L560.8 714.8 L568.8 717.4 Z" fill="#f5b062"/>
<rect x="558.1" y="714.3" width="3.1" height="1" fill="#5a4684"/>
<path d="M635.4 484.1 L627.6 486.7 L635.4 489.3 Z" fill="#f5b062"/>
<rect x="624.9" y="486.2" width="3.1" height="1" fill="#5a4684"/>
<path d="M635.4 497 L627.6 499.6 L635.4 502.2 Z" fill="#f5b062"/>
<rect x="624.9" y="499.1" width="3.1" height="1" fill="#5a4684"/>
<path d="M635.2 737.7 L627 740.3 L635.2 742.9 Z" fill="#f5b062"/>
<rect x="624.3" y="739.8" width="3.1" height="1" fill="#5a4684"/>
<rect x="510.43" y="463.7" width="4.77" height="2" fill="#e2445e"/>
<rect x="507.5" y="463.9" width="3.13" height="1.6" fill="#4e2f5e"/>
<circle cx="502.3" cy="464.7" r="5.4" fill="#ee3338" stroke="#3a1616" stroke-width="1.1"/>
<rect x="521" y="535.1" width="4.22" height="2" fill="#e2445e"/>
<rect x="525.22" y="535.3" width="2.78" height="1.6" fill="#4e2f5e"/>
<circle cx="532.9" cy="536.1" r="5.3" fill="#ee3338" stroke="#3a1616" stroke-width="1.1"/>
<rect x="554" y="613" width="4.46" height="2" fill="#e2445e"/>
<rect x="558.46" y="613.2" width="2.94" height="1.6" fill="#4e2f5e"/>
<circle cx="566.2" cy="614" r="5.2" fill="#ee3338" stroke="#3a1616" stroke-width="1.1"/>
<rect x="375" y="593.7" width="3.4" height="1" fill="#5b3f8f"/>
<circle cx="372.3" cy="594.2" r="2.7" fill="#ee3338" stroke="#3a1616" stroke-width="1.1"/>
<rect x="342.2" y="717.5" width="3.8" height="1" fill="#5b3f8f"/>
<circle cx="339.4" cy="718" r="2.8" fill="#ee3338" stroke="#3a1616" stroke-width="1.1"/>
<rect x="341.6" y="730.2" width="3.8" height="1" fill="#5b3f8f"/>
<circle cx="338.8" cy="730.7" r="2.8" fill="#ee3338" stroke="#3a1616" stroke-width="1.1"/>
<rect x="318.4" y="315.2" width="4.3" height="1.25" fill="#4b3a7a"/>
<circle cx="313.9" cy="315.8" r="4.4" fill="#ee3338" stroke="#3a1616" stroke-width="1.1"/>
<text x="324.3" y="318.3" font-size="8.45">18S-5.8S-28S rRNAs</text>
<rect x="313.8" y="337.15" width="3.7" height="1.1" fill="#4b3a7a"/>
<circle cx="311.6" cy="337.7" r="2.35" fill="#ee3338" stroke="#3a1616" stroke-width="1.1"/>
<text x="324.3" y="340.7" font-size="8.45">5S rRNA</text>
<path d="M308.9 358.7 L315 360.8 L308.9 362.9 Z" fill="#f5b062"/>
<rect x="314.6" y="360.3" width="3" height="1" fill="#8a7ab0"/>
<text x="324.3" y="363.3" font-size="8.45">tRNA</text>
<text x="316.8" y="156.8" font-size="8.5">PL</text>
<text x="351.5" y="146.9" font-size="8.5">P</text>
<text x="384.3" y="140.9" font-size="8.5">L</text>
<text x="416.8" y="132.3" font-size="8.5">P</text>
<text x="449.9" y="128.8" font-size="8.5">E</text>
<text x="516.3" y="114" font-size="8.5">PH</text>
<text x="550.7" y="69.6" font-size="8.5">PH</text>
<text x="585.8" y="51.2" font-size="8.5">L</text>
<text x="620" y="43.8" font-size="8.5">M</text>
<text x="320.8" y="514.5" font-size="8.5">L</text>
<text x="419.4" y="511.2" font-size="8.5">PH</text>
<text x="486.3" y="500.4" font-size="8.5">H</text>
<text x="553.7" y="404.6" font-size="8.5">PH</text>
<text x="586.8" y="396" font-size="8.5">PH</text>
<text x="303.4" y="284.8" font-size="8.5">P</text>
<text x="371.8" y="284.8" font-size="8.5">H</text>
<text x="406.1" y="284.8" font-size="8.5">P</text>
<text x="439.2" y="284.8" font-size="8.5">P</text>
<text x="471.6" y="284.8" font-size="8.5">PH</text>
<text x="505.6" y="285.6" font-size="8.5">E</text>
<text x="539" y="285.2" font-size="8.5">PH</text>
<text x="571.1" y="285.2" font-size="8.5">A</text>
<text x="603.8" y="285.2" font-size="8.5">PL</text>
<text x="305.3" y="763" font-size="8.5">PH L</text>
<text x="341.4" y="763" font-size="8.5">M</text>
<text x="410" y="763" font-size="8.5">M</text>
<text x="508.8" y="762.3" font-size="8.5">M</text>
<text x="542.1" y="762.3" font-size="8.5">P</text>
<text x="575.4" y="762.3" font-size="8.5">A</text>
<text x="606.4" y="762.3" font-size="8.5">A</text>
<text x="314.2" y="294.2" font-size="8.6" font-weight="bold" text-anchor="middle">1</text>
<text x="347.8" y="294.2" font-size="8.6" font-weight="bold" text-anchor="middle">2</text>
<text x="381.2" y="294.2" font-size="8.6" font-weight="bold" text-anchor="middle">3</text>
<text x="414.5" y="294.2" font-size="8.6" font-weight="bold" text-anchor="middle">4</text>
<text x="447.6" y="294.2" font-size="8.6" font-weight="bold" text-anchor="middle">5</text>
<text x="481" y="294.2" font-size="8.6" font-weight="bold" text-anchor="middle">6</text>
<text x="514.3" y="294.2" font-size="8.6" font-weight="bold" text-anchor="middle">7</text>
<text x="547.6" y="294.2" font-size="8.6" font-weight="bold" text-anchor="middle">8</text>
<text x="580.9" y="294.2" font-size="8.6" font-weight="bold" text-anchor="middle">9</text>
<text x="613.6" y="294.2" font-size="8.6" font-weight="bold" text-anchor="middle">10</text>
<text x="317.6" y="773.3" font-size="8.6" font-weight="bold" text-anchor="middle">11</text>
<text x="351.5" y="772" font-size="8.6" font-weight="bold" text-anchor="middle">12</text>
<text x="384.6" y="772" font-size="8.6" font-weight="bold" text-anchor="middle">13</text>
<text x="418" y="772" font-size="8.6" font-weight="bold" text-anchor="middle">14</text>
<text x="450.8" y="772" font-size="8.6" font-weight="bold" text-anchor="middle">15</text>
<text x="484.1" y="772" font-size="8.6" font-weight="bold" text-anchor="middle">16</text>
<text x="516.9" y="772" font-size="8.6" font-weight="bold" text-anchor="middle">17</text>
<text x="550" y="772" font-size="8.6" font-weight="bold" text-anchor="middle">18</text>
<text x="583.5" y="771.6" font-size="8.6" font-weight="bold" text-anchor="middle">19</text>
<text x="616.3" y="771.6" font-size="8.6" font-weight="bold" text-anchor="middle">20</text>
</svg>
</div>
</body></html>
